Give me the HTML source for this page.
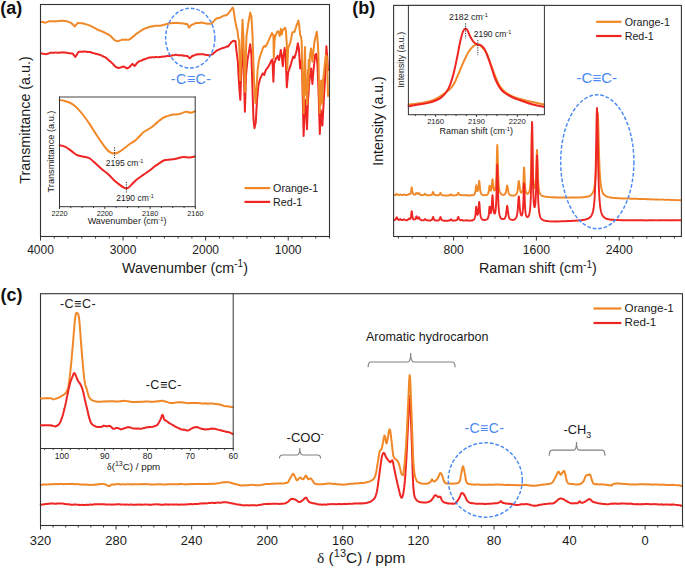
<!DOCTYPE html>
<html><head><meta charset="utf-8"><style>
html,body{margin:0;padding:0;background:#fff;width:685px;height:568px;overflow:hidden}
svg{display:block}
text{font-family:"Liberation Sans", sans-serif}
</style></head><body>
<svg width="685" height="568" viewBox="0 0 685 568" font-family='"Liberation Sans", sans-serif'>
<rect x="0" y="0" width="685" height="568" fill="#ffffff"/>
<text x="0.3" y="14" font-size="18" text-anchor="start" fill="#111" font-weight="bold" >(a)</text>
<polyline points="41.00,53.30 41.92,53.53 42.84,53.71 43.76,53.84 44.68,53.89 45.60,54.14 46.52,53.98 47.44,53.71 48.36,53.44 49.28,53.10 50.20,52.73 51.03,52.71 51.86,52.75 52.69,52.62 53.53,52.73 54.36,52.63 55.19,52.55 56.02,52.43 56.85,52.63 57.68,52.67 58.51,52.74 59.34,52.70 60.17,52.48 61.01,52.41 61.84,52.41 62.67,52.28 63.50,52.43 64.34,52.50 65.17,52.52 66.01,52.77 66.85,52.77 67.68,53.05 68.52,53.13 69.35,53.26 70.19,53.32 71.03,53.44 71.86,53.47 72.70,53.48 73.35,54.48 74.00,55.24 74.65,56.18 75.30,56.92 75.80,56.23 76.30,55.48 76.80,54.65 77.30,53.82 77.80,52.93 78.30,52.09 79.10,51.85 79.90,51.77 80.70,51.79 81.50,51.60 82.30,51.66 83.10,51.67 83.90,51.51 84.80,51.56 85.70,51.66 86.60,51.75 87.50,52.03 88.40,52.08 89.30,52.05 90.20,52.08 91.10,52.33 91.94,52.74 92.77,52.94 93.61,53.15 94.45,53.39 95.28,53.69 96.12,53.81 96.95,54.08 97.79,54.33 98.63,54.59 99.46,54.71 100.30,54.86 101.15,55.28 102.00,55.86 102.85,56.22 103.70,56.68 104.55,57.03 105.40,57.35 106.24,57.93 107.09,58.77 107.93,59.55 108.77,60.17 109.61,60.90 110.46,61.61 111.30,62.38 112.16,63.32 113.02,64.08 113.88,65.04 114.74,65.96 115.60,66.75 116.63,67.29 117.67,67.70 118.70,68.10 119.58,67.75 120.47,67.61 121.35,67.23 122.23,66.85 123.12,66.74 124.00,66.57 124.80,67.07 125.60,67.68 126.40,68.03 127.20,68.50 128.07,67.93 128.93,67.42 129.80,66.82 130.48,65.94 131.15,65.17 131.82,64.56 132.50,63.92 133.55,65.01 134.60,66.00 135.38,64.97 136.15,64.19 136.92,63.23 137.70,62.34 138.58,61.72 139.47,61.22 140.35,60.92 141.23,60.57 142.12,60.22 143.00,59.76 143.80,59.43 144.60,59.16 145.40,58.98 146.20,58.61 147.00,58.34 147.80,57.99 148.60,57.82 149.40,57.39 150.21,57.43 151.02,57.51 151.83,57.28 152.64,57.27 153.46,57.26 154.27,57.30 155.08,57.23 155.89,57.06 156.70,56.98 157.58,57.12 158.47,57.21 159.35,57.04 160.23,56.90 161.12,56.81 162.00,56.72 162.80,56.65 163.60,56.47 164.40,56.52 165.20,56.45 166.00,56.20 166.80,56.11 167.60,55.94 168.40,55.83 170.00,55.97 170.89,55.72 171.77,55.50 172.66,55.34 173.54,55.28 174.43,55.13 175.31,54.82 176.20,54.75 177.07,54.98 177.94,55.14 178.81,55.28 179.69,55.18 180.56,55.28 181.43,55.25 182.30,55.48 183.13,55.49 183.97,55.68 184.80,55.71 185.63,55.90 186.47,55.94 187.30,55.92 188.50,57.14 189.70,58.33 190.53,57.70 191.37,56.84 192.20,56.06 193.02,55.77 193.83,55.59 194.65,55.12 195.47,54.84 196.28,54.52 197.10,54.28 197.99,54.39 198.87,54.28 199.76,54.31 200.64,54.29 201.53,54.28 202.41,54.12 203.30,54.24 204.17,54.56 205.04,54.65 205.91,54.76 206.79,55.09 207.66,55.11 208.53,55.18 209.40,55.28 210.43,55.00 211.47,54.67 212.50,54.21 213.36,53.50 214.22,52.61 215.08,51.94 215.94,51.20 216.80,50.48 217.69,50.11 218.57,49.75 219.46,49.34 220.34,48.90 221.23,48.61 222.11,48.24 223.00,48.02 223.82,47.82 224.63,47.56 225.45,47.20 226.27,46.79 227.08,46.45 227.90,46.15 228.00,46.61 228.62,45.92 229.24,44.94 229.86,44.12 230.48,43.30 231.10,42.55 232.00,41.75 232.90,40.89 233.73,40.87 234.57,40.90 235.40,40.89 235.49,41.75 235.57,42.54 235.66,43.34 235.74,44.00 235.83,44.91 235.91,45.63 236.00,46.45 236.09,47.32 236.17,48.22 236.26,49.10 236.34,49.66 236.43,50.39 236.51,51.14 236.60,51.93 236.71,52.68 236.82,53.57 236.93,54.31 237.03,55.14 237.14,56.16 237.25,57.07 237.36,57.87 237.47,58.58 237.57,59.57 237.68,60.45 237.79,61.16 237.90,61.94 237.94,62.82 237.97,63.68 238.01,64.41 238.05,65.36 238.09,66.09 238.12,66.82 238.16,67.75 238.20,68.44 238.24,69.33 238.28,70.04 238.31,70.91 238.35,71.66 238.39,72.47 238.43,73.44 238.46,74.22 238.50,75.01 238.56,75.87 238.61,76.63 238.67,77.38 238.72,78.21 238.78,79.01 238.83,79.80 238.89,80.83 238.94,81.53 239.00,82.49 239.06,83.46 239.11,84.32 239.17,84.96 239.22,85.81 239.28,86.51 239.33,87.42 239.39,88.34 239.44,89.09 239.50,89.80 239.57,90.71 239.63,91.46 239.70,92.30 239.77,93.18 239.83,94.18 239.90,94.97 239.97,95.70 240.03,96.66 240.10,97.59 240.17,98.41 240.23,99.08 240.30,99.85 240.33,99.06 240.36,98.32 240.38,97.46 240.41,96.79 240.44,96.10 240.47,95.40 240.50,94.65 240.52,93.63 240.55,92.85 240.58,91.91 240.61,91.25 240.64,90.51 240.66,89.76 240.69,88.82 240.72,87.88 240.75,87.21 240.78,86.44 240.80,85.66 240.83,84.84 240.86,84.12 240.89,83.23 240.92,82.35 240.94,81.52 240.97,80.69 241.00,79.96 241.04,79.28 241.07,78.32 241.11,77.41 241.15,76.66 241.18,75.94 241.22,75.06 241.26,74.22 241.29,73.32 241.33,72.45 241.37,71.74 241.40,71.05 241.44,70.32 241.48,69.42 241.51,68.53 241.55,67.92 241.59,67.13 241.62,66.29 241.66,65.55 241.70,64.80 241.73,63.98 241.77,63.02 241.80,62.34 241.84,61.43 241.88,60.51 241.91,59.71 241.95,58.97 241.99,58.23 242.02,57.34 242.06,56.64 242.10,55.84 242.13,54.93 242.17,54.27 242.21,53.55 242.24,52.83 242.28,52.02 242.32,51.07 242.35,50.34 242.39,49.62 242.43,48.76 242.46,48.03 242.50,47.30 242.56,47.99 242.62,48.88 242.69,49.75 242.75,50.56 242.81,51.13 242.88,51.88 242.94,52.72 243.00,53.56 243.06,54.43 243.12,55.25 243.19,55.92 243.25,56.87 243.31,57.66 243.38,58.56 243.44,59.23 243.50,60.18 243.52,60.95 243.54,61.80 243.57,62.63 243.59,63.49 243.61,64.18 243.63,64.83 243.65,65.62 243.68,66.34 243.70,67.20 243.72,68.13 243.74,68.89 243.76,69.59 243.78,70.30 243.81,71.15 243.83,72.04 243.85,72.74 243.87,73.66 243.89,74.41 243.92,75.15 243.94,76.16 243.96,76.98 243.98,77.91 244.00,78.70 244.03,79.37 244.05,80.12 244.07,80.94 244.09,81.82 244.11,82.72 244.13,83.59 244.16,84.41 244.18,85.11 244.20,85.89 244.22,86.67 244.24,87.48 244.27,88.23 244.29,89.08 244.31,89.90 244.33,90.58 244.35,91.54 244.38,92.38 244.40,93.28 244.42,94.13 244.44,94.97 244.46,95.88 244.48,96.57 244.51,97.30 244.53,97.94 244.55,98.83 244.57,99.67 244.59,100.50 244.62,101.45 244.64,102.12 244.66,102.83 244.68,103.73 244.70,104.63 244.72,105.40 244.75,106.05 244.77,106.85 244.79,107.78 244.81,108.58 244.83,109.38 244.86,110.15 244.88,111.01 244.90,111.84 244.92,111.07 244.95,110.33 244.97,109.54 245.00,108.63 245.02,107.71 245.05,106.97 245.07,106.22 245.10,105.49 245.12,104.51 245.14,103.78 245.17,103.03 245.19,102.02 245.22,101.13 245.24,100.37 245.27,99.44 245.29,98.75 245.32,97.85 245.34,97.10 245.36,96.22 245.39,95.33 245.41,94.46 245.44,93.69 245.46,92.97 245.49,92.07 245.51,91.34 245.54,90.48 245.56,89.72 245.58,88.87 245.61,87.97 245.63,87.08 245.66,86.18 245.68,85.50 245.71,84.70 245.73,83.80 245.76,83.16 245.78,82.39 245.80,81.42 245.83,80.71 245.85,79.92 245.88,79.08 245.90,78.27 245.93,77.59 245.95,76.69 245.98,75.90 246.00,75.10 246.08,74.19 246.17,73.31 246.25,72.56 246.33,71.75 246.42,70.88 246.50,70.03 246.58,69.11 246.67,68.38 246.75,67.39 246.83,66.63 246.92,65.80 247.00,64.89 247.08,64.12 247.17,63.32 247.25,62.37 247.33,61.57 247.42,60.67 247.50,59.97 247.64,59.11 247.78,58.26 247.93,57.38 248.07,56.47 248.21,55.63 248.35,54.78 248.49,54.09 248.64,53.42 248.78,52.52 248.92,51.61 249.06,50.85 249.21,49.95 249.35,49.16 249.49,48.47 249.63,47.57 249.77,46.84 249.92,46.04 250.06,45.09 250.20,44.23 250.29,45.13 250.38,45.85 250.48,46.63 250.57,47.53 250.66,48.48 250.75,49.30 250.85,50.16 250.94,50.82 251.03,51.60 251.12,52.40 251.22,53.39 251.31,54.16 251.40,55.07 251.43,55.72 251.45,56.56 251.48,57.51 251.50,58.39 251.53,59.19 251.55,59.87 251.58,60.82 251.60,61.47 251.63,62.43 251.66,63.30 251.68,64.13 251.71,64.90 251.73,65.57 251.76,66.34 251.78,67.22 251.81,68.08 251.83,68.84 251.86,69.75 251.89,70.40 251.91,71.17 251.94,71.89 251.96,72.71 251.99,73.67 252.01,74.58 252.04,75.27 252.07,76.05 252.09,76.78 252.12,77.70 252.14,78.53 252.17,79.28 252.19,80.10 252.22,81.06 252.24,81.85 252.27,82.72 252.30,83.56 252.32,84.35 252.35,85.16 252.37,85.92 252.40,86.65 252.42,87.49 252.45,88.27 252.47,89.06 252.50,89.82 252.53,90.81 252.55,91.60 252.58,92.33 252.61,93.03 252.64,93.82 252.66,94.81 252.69,95.59 252.72,96.48 252.74,97.21 252.77,98.09 252.80,98.89 252.82,99.78 252.85,100.59 252.88,101.35 252.91,102.09 252.93,102.95 252.96,103.87 252.99,104.71 253.01,105.48 253.04,106.22 253.07,107.15 253.09,108.02 253.12,108.67 253.15,109.53 253.18,110.40 253.20,111.23 253.23,112.13 253.26,112.98 253.28,113.63 253.31,114.56 253.34,115.25 253.36,115.99 253.39,116.93 253.42,117.59 253.45,118.36 253.47,119.22 253.50,119.95 253.61,120.76 253.72,121.75 253.83,122.64 253.94,123.57 254.06,124.49 254.17,125.42 254.28,126.34 254.39,127.22 254.50,128.15 254.69,127.21 254.87,126.37 255.06,125.48 255.24,124.74 255.43,123.88 255.61,122.97 255.80,122.15 255.84,121.23 255.89,120.29 255.93,119.46 255.98,118.57 256.02,117.66 256.07,116.80 256.11,116.06 256.16,115.40 256.20,114.47 256.24,113.76 256.29,112.85 256.33,112.10 256.38,111.26 256.42,110.47 256.47,109.76 256.51,108.92 256.56,108.09 256.60,107.36 256.64,106.42 256.69,105.59 256.73,104.87 256.78,104.16 256.82,103.46 256.87,102.52 256.91,101.72 256.96,100.82 257.00,100.06 257.08,99.32 257.17,98.33 257.25,97.45 257.33,96.76 257.42,95.86 257.50,95.06 257.58,94.30 257.67,93.36 257.75,92.60 257.83,91.59 257.92,90.73 258.00,89.83 258.08,89.00 258.17,88.13 258.25,87.22 258.33,86.56 258.42,85.66 258.50,84.90 258.71,84.09 258.93,83.35 259.14,82.58 259.36,81.71 259.57,80.71 259.79,79.94 260.00,78.93 260.47,78.15 260.93,77.13 261.40,76.13 261.87,75.13 262.33,74.21 262.80,73.40 264.20,74.91 264.48,74.11 264.76,73.29 265.04,72.32 265.32,71.42 265.60,70.53 266.18,69.67 266.76,68.94 267.34,68.21 267.92,67.17 268.50,66.45 268.97,65.59 269.43,64.58 269.90,63.66 270.37,62.76 270.83,61.68 271.30,60.77 272.40,59.49 272.44,60.35 272.47,61.20 272.51,61.79 272.54,62.64 272.58,63.40 272.61,64.30 272.65,64.95 272.69,65.76 272.72,66.44 272.76,67.36 272.79,68.23 272.83,68.86 272.86,69.63 272.90,70.36 272.94,71.26 272.97,72.13 273.01,72.81 273.04,73.80 273.08,74.73 273.11,75.47 273.15,76.26 273.19,77.00 273.22,77.83 273.26,78.59 273.29,79.37 273.33,80.26 273.36,80.95 273.40,81.70 273.43,80.98 273.46,80.06 273.50,79.12 273.53,78.47 273.56,77.54 273.59,76.71 273.62,75.85 273.65,74.99 273.69,74.16 273.72,73.38 273.75,72.47 273.78,71.70 273.81,70.77 273.85,69.88 273.88,69.04 273.91,68.21 273.94,67.42 273.97,66.60 274.00,65.93 274.04,65.17 274.07,64.33 274.10,63.58 274.40,62.81 274.70,61.92 275.00,61.15 275.30,60.41 275.60,59.59 275.90,58.84 276.20,58.04 276.90,57.07 277.60,55.89 277.88,56.75 278.16,57.70 278.44,58.48 278.72,59.40 279.00,60.04 279.15,59.27 279.30,58.35 279.45,57.60 279.60,56.73 279.75,55.91 279.90,55.00 280.05,54.11 280.20,53.43 280.35,52.64 280.50,51.83 280.65,50.87 280.80,50.00 280.94,51.08 281.09,51.89 281.23,52.83 281.37,53.80 281.51,54.71 281.66,55.63 281.80,56.67 281.88,57.52 281.97,58.20 282.05,58.97 282.13,59.76 282.22,60.63 282.30,61.49 282.38,62.21 282.47,63.08 282.55,63.86 282.63,64.53 282.72,65.33 282.80,66.15 282.86,65.30 282.93,64.60 282.99,63.97 283.06,63.26 283.12,62.44 283.19,61.69 283.25,60.81 283.31,59.98 283.38,59.25 283.44,58.25 283.51,57.39 283.57,56.56 283.64,55.72 283.70,54.92 283.81,53.93 283.93,53.17 284.04,52.46 284.15,51.48 284.26,50.51 284.38,49.62 284.49,48.88 284.60,47.92 284.73,48.90 284.85,49.67 284.98,50.60 285.10,51.55 285.23,52.46 285.35,53.18 285.48,54.22 285.60,55.17 285.63,55.92 285.66,56.81 285.69,57.60 285.72,58.26 285.75,59.04 285.78,59.96 285.81,60.73 285.84,61.39 285.87,62.14 285.90,62.91 285.93,63.81 285.96,64.71 285.99,65.52 286.02,66.31 286.05,67.28 286.08,68.02 286.11,68.88 286.14,69.58 286.17,70.41 286.20,71.14 286.23,71.87 286.26,72.69 286.29,73.44 286.32,74.29 286.35,75.21 286.38,76.07 286.41,76.99 286.44,77.78 286.47,78.46 286.50,79.37 286.53,80.15 286.56,81.05 286.59,81.99 286.62,82.76 286.65,83.46 286.68,84.22 286.71,85.04 286.74,85.81 286.77,86.52 286.80,87.35 286.87,86.63 286.95,85.92 287.02,85.17 287.09,84.43 287.17,83.65 287.24,82.74 287.32,81.93 287.39,80.94 287.46,80.22 287.54,79.45 287.61,78.53 287.68,77.70 287.76,76.82 287.83,76.12 287.91,75.27 287.98,74.53 288.05,73.82 288.13,73.03 288.20,72.11 288.50,71.22 288.80,70.53 289.10,69.79 289.40,68.81 289.70,67.94 290.00,67.21 290.30,66.44 290.53,65.52 290.77,64.67 291.00,63.99 291.23,63.01 291.47,62.13 291.70,61.39 291.93,60.70 292.17,59.98 292.40,59.09 292.63,58.32 292.87,57.59 293.10,56.64 294.50,57.92 294.76,56.95 295.02,56.17 295.29,55.16 295.55,54.31 295.81,53.56 296.08,52.56 296.34,51.71 296.60,50.83 296.74,50.10 296.89,49.20 297.03,48.31 297.18,47.55 297.32,46.72 297.47,45.70 297.61,44.93 297.76,44.01 297.90,43.28 298.04,44.20 298.17,44.96 298.31,45.71 298.45,46.44 298.59,47.21 298.73,47.98 298.86,48.76 299.00,49.73 299.05,50.43 299.10,51.33 299.14,52.20 299.19,53.10 299.24,53.92 299.29,54.84 299.33,55.54 299.38,56.22 299.43,57.08 299.48,57.84 299.53,58.82 299.57,59.74 299.62,60.55 299.67,61.41 299.72,62.08 299.77,62.86 299.81,63.62 299.86,64.39 299.91,65.18 299.96,66.01 300.00,66.88 300.05,67.55 300.10,68.42 300.19,67.53 300.28,66.92 300.37,66.13 300.46,65.35 300.55,64.48 300.64,63.75 300.73,63.00 300.82,62.29 300.91,61.46 301.00,60.54 301.09,61.39 301.17,62.06 301.26,62.98 301.34,63.74 301.43,64.64 301.51,65.34 301.60,66.22 301.69,66.95 301.77,67.67 301.86,68.49 301.94,69.48 302.03,70.29 302.11,71.14 302.20,72.06 302.22,72.98 302.24,73.66 302.25,74.50 302.27,75.35 302.29,76.20 302.31,76.89 302.32,77.66 302.34,78.52 302.36,79.21 302.38,80.00 302.39,80.84 302.41,81.74 302.43,82.42 302.44,83.26 302.46,83.96 302.48,84.67 302.50,85.50 302.51,86.37 302.53,87.22 302.55,88.15 302.57,88.81 302.58,89.61 302.60,90.40 302.62,91.13 302.64,92.08 302.65,92.75 302.67,93.49 302.69,94.19 302.71,95.09 302.73,95.97 302.74,96.70 302.76,97.65 302.78,98.48 302.80,99.17 302.81,100.11 302.83,100.98 302.85,101.67 302.87,102.56 302.88,103.20 302.90,103.95 302.92,104.74 302.94,105.70 302.95,106.41 302.97,107.17 302.99,107.89 303.00,108.82 303.02,109.52 303.04,110.45 303.06,111.19 303.07,112.00 303.09,112.92 303.11,113.61 303.13,114.42 303.15,115.25 303.16,116.06 303.18,116.81 303.20,117.65 303.22,118.38 303.23,119.08 303.25,119.77 303.27,120.67 303.29,121.53 303.30,122.44 303.32,123.13 303.34,124.00 303.36,124.79 303.37,125.60 303.39,126.50 303.41,127.27 303.43,128.03 303.44,128.87 303.46,129.54 303.48,130.47 303.50,131.25 303.51,131.90 303.53,132.73 303.55,133.68 303.56,134.60 303.58,135.32 303.60,136.01 303.63,135.34 303.66,134.43 303.69,133.48 303.72,132.64 303.76,131.88 303.79,131.17 303.82,130.25 303.85,129.44 303.88,128.76 303.91,127.92 303.94,127.05 303.97,126.36 304.00,125.55 304.04,124.82 304.07,124.01 304.10,123.30 304.13,122.48 304.16,121.80 304.19,121.03 304.22,120.23 304.25,119.36 304.28,118.54 304.32,117.66 304.35,116.72 304.38,116.06 304.41,115.33 304.44,114.57 304.47,113.83 304.50,112.98 304.53,112.27 304.56,111.38 304.60,110.67 304.63,109.66 304.66,108.81 304.69,108.03 304.72,107.31 304.75,106.49 304.78,105.75 304.81,104.87 304.84,104.10 304.88,103.36 304.91,102.54 304.94,101.55 304.97,100.82 305.00,99.86 305.08,100.68 305.17,101.44 305.25,102.42 305.33,103.18 305.42,104.12 305.50,104.84 305.58,105.63 305.67,106.59 305.75,107.57 305.83,108.25 305.92,109.15 306.00,109.95 306.04,110.83 306.09,111.53 306.13,112.25 306.17,113.02 306.22,114.05 306.26,114.89 306.30,115.77 306.35,116.49 306.39,117.41 306.43,118.36 306.48,119.07 306.52,119.98 306.57,120.89 306.61,121.82 306.65,122.59 306.70,123.40 306.74,124.12 306.78,125.01 306.83,125.74 306.87,126.59 306.91,127.43 306.96,128.38 307.00,129.23 307.03,128.23 307.06,127.32 307.08,126.49 307.11,125.68 307.14,124.97 307.17,124.09 307.19,123.33 307.22,122.52 307.25,121.67 307.28,120.93 307.31,120.11 307.33,119.46 307.36,118.50 307.39,117.82 307.42,117.03 307.44,116.18 307.47,115.23 307.50,114.49 307.53,113.78 307.56,112.90 307.58,112.16 307.61,111.34 307.64,110.39 307.67,109.72 307.69,108.84 307.72,108.04 307.75,107.31 307.78,106.60 307.81,105.86 307.83,104.95 307.86,104.21 307.89,103.25 307.92,102.45 307.94,101.61 307.97,100.92 308.00,100.14 308.06,99.35 308.12,98.60 308.18,97.69 308.24,96.85 308.30,95.91 308.36,95.10 308.42,94.24 308.48,93.56 308.54,92.66 308.60,92.02 308.66,91.25 308.72,90.42 308.78,89.50 308.84,88.71 308.90,87.96 308.96,87.06 309.02,86.45 309.08,85.59 309.14,84.77 309.20,83.92 309.26,83.10 309.32,82.27 309.38,81.61 309.44,80.68 309.50,79.88 309.61,79.12 309.73,78.31 309.84,77.45 309.96,76.65 310.07,75.72 310.19,74.89 310.30,74.10 310.41,73.41 310.53,72.57 310.64,71.73 310.76,70.97 310.87,70.08 310.99,69.29 311.10,68.39 311.17,69.27 311.24,70.11 311.31,70.98 311.37,71.90 311.44,72.76 311.51,73.67 311.58,74.32 311.65,75.24 311.72,75.98 311.78,76.71 311.85,77.50 311.92,78.43 311.99,79.34 312.06,80.18 312.13,80.86 312.19,81.52 312.26,82.26 312.33,83.16 312.40,84.04 312.46,83.08 312.53,82.13 312.59,81.52 312.66,80.65 312.72,79.71 312.79,78.93 312.85,78.02 312.92,77.36 312.98,76.56 313.05,75.78 313.11,75.08 313.18,74.10 313.24,73.20 313.31,72.49 313.37,71.69 313.44,70.84 313.50,69.97 313.59,69.18 313.68,68.49 313.77,67.75 313.86,66.98 313.94,66.21 314.03,65.16 314.12,64.16 314.21,63.44 314.30,62.52 314.39,61.71 314.48,60.87 314.57,60.19 314.66,59.31 314.74,58.35 314.83,57.45 314.92,56.79 315.01,56.04 315.10,55.07 316.40,53.92 316.48,54.65 316.56,55.50 316.64,56.29 316.71,57.17 316.79,57.92 316.87,58.54 316.95,59.38 317.03,60.29 317.11,61.03 317.19,61.92 317.26,62.67 317.34,63.41 317.42,64.16 317.50,64.89 317.53,65.73 317.56,66.70 317.60,67.51 317.63,68.37 317.66,69.03 317.69,69.80 317.73,70.64 317.76,71.42 317.79,72.09 317.82,73.05 317.85,73.75 317.89,74.64 317.92,75.60 317.95,76.31 317.98,77.04 318.02,77.81 318.05,78.66 318.08,79.63 318.11,80.29 318.15,81.03 318.18,81.99 318.21,82.71 318.24,83.58 318.27,84.44 318.31,85.07 318.34,85.76 318.37,86.71 318.40,87.66 318.44,88.50 318.47,89.26 318.50,89.93 318.52,90.76 318.55,91.45 318.57,92.25 318.59,92.95 318.62,93.83 318.64,94.67 318.67,95.45 318.69,96.21 318.71,96.94 318.74,97.67 318.76,98.46 318.78,99.51 318.81,100.19 318.83,101.12 318.85,101.93 318.88,102.78 318.90,103.53 318.93,104.49 318.95,105.36 318.97,106.08 319.00,106.84 319.02,107.75 319.04,108.40 319.07,109.31 319.09,110.12 319.11,110.90 319.14,111.68 319.16,112.48 319.19,113.14 319.21,113.88 319.23,114.67 319.26,115.43 319.28,116.15 319.30,117.09 319.33,117.90 319.35,118.80 319.37,119.57 319.40,120.51 319.42,121.20 319.45,122.00 319.47,122.78 319.49,123.67 319.52,124.34 319.54,125.17 319.56,125.97 319.59,126.81 319.61,127.53 319.63,128.36 319.66,129.32 319.68,129.96 319.71,130.92 319.73,131.82 319.75,132.54 319.78,133.17 319.80,133.98 319.83,133.32 319.87,132.34 319.90,131.63 319.93,130.91 319.97,129.96 320.00,129.20 320.03,128.30 320.07,127.41 320.10,126.67 320.13,125.85 320.17,125.14 320.20,124.37 320.23,123.50 320.27,122.85 320.30,121.89 320.33,121.21 320.37,120.34 320.40,119.68 320.43,118.89 320.47,118.05 320.50,117.15 320.53,116.47 320.57,115.76 320.60,115.05 320.63,114.20 320.67,113.47 320.70,112.71 320.73,111.86 320.77,110.94 320.80,110.13 320.92,110.87 321.03,111.79 321.15,112.60 321.27,113.51 321.38,114.41 321.50,115.25 321.57,115.90 321.64,116.64 321.71,117.33 321.78,118.13 321.85,118.88 321.92,119.70 321.98,120.66 322.05,121.37 322.12,122.36 322.19,123.30 322.26,124.15 322.33,124.83 322.40,125.57 322.44,124.74 322.49,123.96 322.53,123.26 322.58,122.26 322.62,121.32 322.66,120.64 322.71,119.68 322.75,119.02 322.80,118.10 322.84,117.44 322.88,116.58 322.93,115.78 322.97,115.03 323.02,114.26 323.06,113.35 323.10,112.48 323.15,111.73 323.19,110.79 323.24,109.90 323.28,109.20 323.32,108.47 323.37,107.69 323.41,106.75 323.46,105.85 323.50,104.90 323.55,104.22 323.60,103.27 323.65,102.41 323.69,101.51 323.74,100.77 323.79,100.17 323.84,99.23 323.89,98.39 323.94,97.56 323.98,96.87 324.03,96.04 324.08,95.16 324.13,94.46 324.18,93.79 324.23,92.86 324.27,91.94 324.32,91.15 324.37,90.52 324.42,89.57 324.47,88.69 324.52,87.98 324.56,87.28 324.61,86.45 324.66,85.51 324.71,84.76 324.76,83.86 324.81,82.97 324.85,82.11 324.90,81.53 324.95,80.63 325.00,79.87 325.03,79.20 325.07,78.31 325.10,77.51 325.13,76.82 325.17,76.03 325.20,75.13 325.23,74.36 325.27,73.72 325.30,72.98 325.33,72.27 325.37,71.24 325.40,70.30 325.43,69.53 325.47,68.60 325.50,68.00 325.53,67.14 325.57,66.37 325.60,65.69 325.63,64.84 325.67,64.11 325.70,63.17 325.73,62.36 325.77,61.64 325.80,60.82 325.83,59.92 325.87,59.25 325.90,58.39 325.93,57.72 325.97,56.83 326.00,56.12 326.03,55.17 326.07,54.43 326.10,53.76 326.13,52.95 326.17,52.08 326.20,51.40 326.23,50.68 326.27,49.89 326.30,48.92 326.33,47.96 326.37,47.21 326.40,46.30 326.47,47.06 326.54,48.01 326.61,49.05 326.68,49.84 326.75,50.82 326.82,51.81 326.89,52.75 326.96,53.42 327.03,54.16 327.10,55.19 327.15,56.13 327.20,56.80 327.25,57.52 327.30,58.43 327.35,59.13 327.40,59.87 327.45,60.66 327.50,61.58 327.55,62.41 327.60,63.38 327.65,64.11 327.70,65.08 327.75,65.98 327.80,66.74 327.85,67.58 327.90,68.44 327.95,69.13 328.00,70.10" fill="none" stroke="#EE2522" stroke-width="2.0" stroke-linejoin="round" stroke-linecap="round" />
<polyline points="41.00,21.89 41.92,21.95 42.84,22.02 43.76,22.42 44.68,22.53 45.60,22.64 46.50,22.33 47.40,21.91 48.30,21.65 49.20,21.16 50.02,21.31 50.84,21.22 51.66,21.24 52.48,21.36 53.30,21.37 54.12,21.44 54.94,21.43 55.76,21.23 56.58,21.33 57.40,21.32 58.27,21.13 59.14,20.93 60.01,20.95 60.89,20.86 61.76,20.87 62.63,20.80 63.50,20.78 64.53,20.88 65.57,21.04 66.60,21.18 67.52,21.41 68.44,21.90 69.36,22.15 70.28,22.57 71.20,23.03 72.08,23.88 72.95,24.59 73.83,25.55 74.70,26.44 75.73,25.23 76.77,24.03 77.80,23.02 78.65,22.93 79.50,23.15 80.35,23.19 81.20,23.23 82.05,23.24 82.90,23.33 83.80,23.72 84.70,23.89 85.60,24.12 86.50,24.42 87.40,24.63 88.30,24.95 89.20,25.24 90.10,25.49 90.99,26.03 91.88,26.51 92.76,26.87 93.65,27.53 94.54,27.95 95.42,28.41 96.31,28.88 97.20,29.50 98.09,29.98 98.97,30.29 99.86,30.59 100.74,30.82 101.63,31.33 102.51,31.58 103.40,31.98 104.26,32.42 105.12,32.86 105.99,33.32 106.85,33.73 107.71,34.12 108.58,34.68 109.44,35.30 110.30,35.82 111.14,36.59 111.98,37.53 112.82,38.25 113.66,39.12 114.50,40.12 115.42,40.49 116.35,40.68 117.28,41.01 118.20,41.21 119.12,40.79 120.05,40.39 120.98,40.11 121.90,39.72 122.74,39.64 123.58,39.67 124.42,39.66 125.26,39.57 126.10,39.63 126.90,39.69 127.70,39.67 128.50,39.75 129.30,39.53 130.14,38.90 130.98,38.31 131.82,37.63 132.66,36.91 133.50,36.38 134.57,35.47 135.63,34.51 136.70,33.50 137.60,33.10 138.50,32.46 139.40,31.75 140.30,31.11 141.20,30.50 142.10,30.07 143.00,29.38 143.80,29.02 144.60,28.62 145.40,28.36 146.20,28.00 147.00,27.68 147.80,27.49 148.60,27.31 149.40,27.06 150.30,26.72 151.20,26.53 152.10,26.49 153.00,26.18 153.90,25.96 154.80,25.85 155.70,25.69 156.58,25.80 157.47,25.86 158.35,25.83 159.23,25.75 160.12,25.68 161.00,25.65 161.87,25.30 162.73,25.15 163.60,24.82 164.47,24.72 165.33,24.50 166.20,24.09 167.15,23.92 168.10,23.78 169.05,23.45 170.00,23.29 170.89,23.10 171.77,23.16 172.66,22.94 173.54,22.96 174.43,23.05 175.31,23.04 176.20,22.83 177.07,22.92 177.94,22.89 178.81,22.95 179.69,23.18 180.56,23.35 181.43,23.25 182.30,23.32 183.13,23.49 183.97,23.49 184.80,23.72 185.63,23.93 186.47,24.01 187.30,24.03 187.75,25.05 188.20,25.94 188.65,26.75 189.10,27.61 190.05,26.34 191.00,25.29 191.82,24.88 192.63,24.52 193.45,24.18 194.27,23.87 195.08,23.29 195.90,22.82 196.77,22.93 197.64,22.97 198.51,22.88 199.39,22.91 200.26,22.78 201.13,22.69 202.00,22.59 202.83,22.76 203.67,22.89 204.50,23.11 205.33,23.44 206.17,23.48 207.00,23.66 207.86,23.78 208.72,23.79 209.58,23.77 210.44,23.83 211.30,23.65 212.16,22.88 213.02,21.98 213.88,21.12 214.74,20.24 215.60,19.14 216.42,18.69 217.23,18.33 218.05,18.08 218.87,17.95 219.68,17.76 220.50,17.38 221.43,16.92 222.35,16.49 223.27,15.92 224.20,15.57 225.03,15.45 225.87,15.25 226.70,15.09 228.00,13.90 228.83,12.82 229.67,11.66 230.50,10.52 231.23,9.47 231.97,8.39 232.70,7.60 233.10,8.69 233.50,9.72 233.63,10.58 233.76,11.37 233.89,12.29 234.02,13.16 234.15,13.97 234.28,14.90 234.41,15.78 234.54,16.64 234.67,17.63 234.80,18.44 234.95,19.29 235.10,20.23 235.25,21.15 235.40,21.87 235.55,22.52 235.70,23.49 235.85,24.28 236.00,25.00 236.15,25.71 236.30,26.49 236.45,27.30 236.60,28.07 236.93,29.03 237.27,30.31 237.60,31.45 237.67,32.12 237.74,32.94 237.81,33.85 237.89,34.63 237.96,35.30 238.03,36.08 238.10,36.88 238.35,37.96 238.60,38.90 238.85,39.80 239.10,40.76 239.12,41.41 239.15,42.31 239.17,43.21 239.20,44.04 239.22,44.78 239.25,45.51 239.27,46.18 239.30,46.92 239.32,47.70 239.34,48.57 239.37,49.53 239.39,50.27 239.42,51.11 239.44,51.99 239.47,52.84 239.49,53.50 239.52,54.47 239.54,55.30 239.57,56.03 239.59,56.77 239.61,57.66 239.64,58.60 239.66,59.33 239.69,60.09 239.71,60.92 239.74,61.62 239.76,62.43 239.79,63.39 239.81,64.20 239.83,65.08 239.86,65.78 239.88,66.69 239.91,67.54 239.93,68.22 239.96,69.02 239.98,69.87 240.01,70.68 240.03,71.50 240.06,72.20 240.08,73.03 240.10,73.79 240.13,74.70 240.15,75.46 240.18,76.41 240.20,77.19 240.23,77.88 240.25,78.66 240.28,79.37 240.30,80.28 240.33,79.33 240.36,78.59 240.40,77.74 240.43,77.03 240.46,76.10 240.49,75.37 240.53,74.62 240.56,73.70 240.59,72.79 240.62,71.97 240.66,71.24 240.69,70.36 240.72,69.43 240.75,68.66 240.79,67.99 240.82,67.07 240.85,66.42 240.88,65.59 240.92,64.66 240.95,63.75 240.98,62.94 241.01,62.16 241.05,61.28 241.08,60.39 241.11,59.65 241.14,58.81 241.18,58.03 241.21,57.25 241.24,56.52 241.27,55.74 241.31,54.84 241.34,53.94 241.37,53.28 241.40,52.32 241.44,51.43 241.47,50.55 241.50,49.91 241.53,49.13 241.55,48.45 241.58,47.64 241.61,46.75 241.64,45.90 241.66,45.15 241.69,44.23 241.72,43.52 241.74,42.65 241.77,41.69 241.80,40.86 241.82,40.10 241.85,39.20 241.88,38.55 241.91,37.85 241.93,37.00 241.96,36.27 241.99,35.45 242.01,34.58 242.04,33.62 242.07,32.94 242.09,32.20 242.12,31.30 242.15,30.41 242.18,29.44 242.20,28.69 242.23,27.98 242.26,27.10 242.28,26.21 242.31,25.44 242.34,24.70 242.36,23.76 242.39,22.89 242.42,22.14 242.45,21.19 242.47,20.51 242.50,19.64 242.54,20.57 242.58,21.35 242.62,22.05 242.66,22.75 242.70,23.50 242.74,24.32 242.78,25.28 242.82,26.21 242.86,27.06 242.90,27.80 242.94,28.67 242.98,29.54 243.02,30.28 243.06,30.96 243.10,31.80 243.14,32.55 243.18,33.31 243.22,34.15 243.26,34.88 243.30,35.89 243.34,36.65 243.38,37.61 243.42,38.48 243.46,39.11 243.50,40.07 243.52,40.94 243.54,41.71 243.56,42.59 243.59,43.33 243.61,43.95 243.63,44.66 243.65,45.44 243.67,46.40 243.69,47.30 243.72,47.95 243.74,48.72 243.76,49.43 243.78,50.20 243.80,51.01 243.82,51.84 243.84,52.59 243.87,53.50 243.89,54.25 243.91,55.21 243.93,56.00 243.95,56.78 243.97,57.67 244.00,58.40 244.02,59.13 244.04,59.84 244.06,60.62 244.08,61.40 244.10,62.33 244.12,63.11 244.15,64.00 244.17,64.73 244.19,65.42 244.21,66.22 244.23,67.04 244.25,68.01 244.28,68.72 244.30,69.46 244.32,70.20 244.34,70.98 244.36,71.99 244.38,72.92 244.40,73.60 244.43,74.27 244.45,75.10 244.47,75.96 244.49,76.65 244.51,77.47 244.53,78.39 244.56,79.04 244.58,79.96 244.60,80.83 244.62,81.70 244.64,82.47 244.66,83.24 244.68,84.03 244.71,84.71 244.73,85.54 244.75,86.28 244.77,87.06 244.79,87.77 244.81,88.54 244.84,89.28 244.86,90.19 244.88,90.97 244.90,91.86 244.92,91.09 244.94,90.24 244.96,89.36 244.98,88.65 245.01,87.93 245.03,87.19 245.05,86.37 245.07,85.58 245.09,84.62 245.11,83.79 245.13,83.11 245.15,82.27 245.18,81.35 245.20,80.57 245.22,79.90 245.24,78.96 245.26,78.07 245.28,77.32 245.30,76.67 245.32,75.82 245.34,74.95 245.37,74.25 245.39,73.31 245.41,72.48 245.43,71.74 245.45,71.06 245.47,70.34 245.49,69.44 245.51,68.54 245.53,67.70 245.56,66.80 245.58,65.97 245.60,65.30 245.62,64.65 245.64,63.74 245.66,62.80 245.68,62.10 245.70,61.44 245.72,60.68 245.75,59.79 245.77,59.03 245.79,58.26 245.81,57.47 245.83,56.60 245.85,55.90 245.87,55.10 245.89,54.14 245.92,53.28 245.94,52.33 245.96,51.52 245.98,50.83 246.00,50.01 246.03,49.18 246.06,48.41 246.09,47.42 246.12,46.55 246.15,45.73 246.18,44.91 246.21,44.13 246.24,43.42 246.26,42.62 246.29,41.74 246.32,40.91 246.35,40.03 246.38,39.30 246.41,38.41 246.44,37.54 246.47,36.62 246.50,35.73 246.62,34.98 246.74,34.09 246.86,33.38 246.98,32.59 247.10,31.86 247.22,31.02 247.34,30.15 247.46,29.23 247.58,28.24 247.70,27.49 247.82,26.75 247.94,25.98 248.06,25.20 248.18,24.19 248.30,23.44 248.45,22.55 248.59,21.72 248.74,21.04 248.88,20.19 249.03,19.36 249.18,18.42 249.32,17.56 249.47,16.72 249.62,15.89 249.76,15.16 249.91,14.27 250.05,13.41 250.20,12.57 250.60,13.77 251.00,14.99 251.40,16.09 251.45,16.88 251.49,17.55 251.54,18.47 251.58,19.15 251.63,19.85 251.68,20.72 251.72,21.67 251.77,22.42 251.82,23.35 251.86,24.08 251.91,25.03 251.95,25.86 252.00,26.73 252.05,27.61 252.09,28.42 252.14,29.05 252.18,29.82 252.23,30.62 252.28,31.47 252.32,32.16 252.37,32.99 252.42,33.72 252.46,34.45 252.51,35.28 252.55,36.21 252.60,37.03 252.63,37.79 252.65,38.52 252.68,39.32 252.71,40.14 252.73,40.91 252.76,41.71 252.78,42.49 252.81,43.29 252.84,44.22 252.86,45.09 252.89,45.95 252.92,46.88 252.94,47.70 252.97,48.35 253.00,49.14 253.02,49.97 253.05,50.86 253.08,51.66 253.10,52.33 253.13,53.16 253.15,54.04 253.18,54.93 253.21,55.70 253.23,56.42 253.26,57.10 253.29,57.97 253.31,58.89 253.34,59.59 253.37,60.45 253.39,61.31 253.42,62.15 253.45,62.88 253.47,63.59 253.50,64.32 253.52,65.15 253.55,66.15 253.58,66.96 253.60,67.93 253.63,68.81 253.66,69.60 253.68,70.35 253.71,71.15 253.74,72.04 253.76,72.76 253.79,73.45 253.82,74.40 253.84,75.22 253.87,75.97 253.89,76.74 253.92,77.44 253.95,78.31 253.97,79.23 254.00,80.03 254.05,80.90 254.10,81.78 254.15,82.51 254.20,83.37 254.25,84.31 254.30,85.15 254.35,85.82 254.40,86.68 254.45,87.52 254.50,88.40 254.55,89.24 254.60,90.14 254.65,91.04 254.70,91.68 254.75,92.46 254.80,93.12 254.85,94.12 254.90,94.80 254.95,95.62 255.00,96.49 255.05,97.30 255.10,98.03 255.15,98.89 255.20,99.66 255.25,100.52 255.30,101.44 255.35,102.21 255.40,103.04 255.47,102.28 255.54,101.47 255.61,100.74 255.68,100.01 255.74,99.28 255.81,98.28 255.88,97.43 255.95,96.47 256.02,95.74 256.09,94.89 256.16,94.18 256.23,93.33 256.29,92.58 256.36,91.59 256.43,90.82 256.50,89.97 256.54,89.28 256.59,88.34 256.63,87.43 256.68,86.74 256.72,85.91 256.76,85.11 256.81,84.31 256.85,83.68 256.90,82.90 256.94,82.17 256.98,81.42 257.03,80.66 257.07,79.77 257.12,78.85 257.16,78.04 257.20,77.35 257.25,76.62 257.29,75.75 257.34,75.02 257.38,74.24 257.42,73.23 257.47,72.46 257.51,71.73 257.56,70.75 257.60,69.93 257.72,69.16 257.83,68.33 257.95,67.51 258.07,66.55 258.18,65.68 258.30,65.00 258.42,64.12 258.53,63.30 258.65,62.50 258.77,61.60 258.88,60.76 259.00,59.95 259.25,59.20 259.50,58.41 259.75,57.39 260.00,56.51 260.28,55.74 260.56,55.00 260.84,54.11 261.12,53.27 261.40,52.44 261.68,51.59 261.96,50.80 262.24,50.02 262.52,49.22 262.80,48.14 263.50,47.11 264.20,45.98 265.60,46.59 266.02,45.63 266.44,44.95 266.86,44.22 267.28,43.35 267.70,42.47 268.07,41.55 268.43,40.87 268.80,40.10 269.17,39.14 269.53,38.34 269.90,37.67 270.32,36.69 270.74,35.77 271.16,34.87 271.58,33.99 272.00,33.04 272.70,34.22 273.40,35.27 273.41,36.17 273.43,36.97 273.44,37.89 273.46,38.74 273.47,39.62 273.49,40.26 273.50,41.14 273.51,41.99 273.53,42.68 273.54,43.32 273.56,44.04 273.57,44.98 273.59,45.95 273.60,46.59 273.61,47.33 273.63,48.14 273.64,48.85 273.66,49.76 273.67,50.70 273.69,51.60 273.70,52.27 273.71,53.20 273.73,54.05 273.74,54.70 273.76,55.61 273.77,56.50 273.79,57.36 273.80,58.16 273.83,57.37 273.87,56.49 273.90,55.48 273.93,54.73 273.97,53.91 274.00,52.99 274.03,52.10 274.07,51.46 274.10,50.78 274.13,49.80 274.17,48.87 274.20,48.18 274.23,47.33 274.27,46.67 274.30,45.84 274.33,45.10 274.37,44.13 274.40,43.44 274.43,42.54 274.47,41.73 274.50,40.94 274.64,40.11 274.79,39.26 274.93,38.49 275.07,37.59 275.21,36.75 275.36,35.91 275.50,35.30 275.92,34.42 276.34,33.74 276.76,32.98 277.18,31.97 277.60,31.22 279.00,32.73 279.18,33.52 279.35,34.34 279.52,35.24 279.70,36.08 279.84,35.11 279.98,34.31 280.11,33.33 280.25,32.44 280.39,31.44 280.52,30.57 280.66,29.84 280.80,28.87 280.94,29.61 281.09,30.44 281.23,31.23 281.37,31.93 281.51,32.68 281.66,33.48 281.80,34.47 281.97,33.77 282.13,33.05 282.30,32.27 282.47,31.57 282.63,30.61 282.80,29.83 283.90,29.07 285.10,27.79 285.33,28.59 285.55,29.50 285.77,30.41 286.00,31.37 286.05,32.20 286.09,32.89 286.14,33.73 286.19,34.60 286.24,35.51 286.28,36.18 286.33,37.05 286.38,37.90 286.42,38.58 286.47,39.29 286.52,40.17 286.56,41.04 286.61,41.83 286.66,42.71 286.71,43.43 286.75,44.32 286.80,45.17 286.81,46.08 286.83,46.92 286.84,47.56 286.85,48.39 286.87,49.08 286.88,49.92 286.89,50.80 286.91,51.66 286.92,52.30 286.93,53.14 286.95,53.86 286.96,54.70 286.97,55.53 286.99,56.35 287.00,57.24 287.01,57.97 287.03,58.77 287.04,59.50 287.05,60.24 287.07,61.13 287.08,61.85 287.09,62.78 287.11,63.55 287.12,64.25 287.13,65.18 287.15,65.84 287.16,66.63 287.17,67.53 287.19,68.20 287.20,69.12 287.24,68.35 287.28,67.69 287.32,66.78 287.35,66.06 287.39,65.35 287.43,64.47 287.47,63.48 287.51,62.62 287.55,61.91 287.58,60.93 287.62,60.19 287.66,59.39 287.70,58.66 287.74,57.79 287.78,57.10 287.82,56.13 287.85,55.30 287.89,54.44 287.93,53.66 287.97,52.78 288.01,51.96 288.05,51.17 288.08,50.51 288.12,49.53 288.16,48.68 288.20,47.80 288.50,47.12 288.80,46.43 289.10,45.47 289.40,44.80 289.70,44.11 290.00,43.27 290.30,42.48 290.48,41.72 290.65,40.98 290.82,40.00 291.00,39.22 291.18,38.23 291.35,37.38 291.52,36.70 291.70,35.89 291.88,35.05 292.05,34.18 292.22,33.34 292.40,32.37 293.45,32.08 294.50,31.88 294.80,30.84 295.10,29.82 295.40,29.01 295.70,28.23 296.00,27.30 296.30,26.28 296.60,25.46 296.88,24.67 297.17,23.73 297.45,23.00 297.73,22.15 298.02,21.37 298.30,20.40 298.47,21.24 298.63,22.19 298.80,23.12 298.97,24.08 299.13,25.05 299.30,25.93 299.37,26.57 299.45,27.41 299.52,28.31 299.59,29.24 299.66,30.00 299.74,30.71 299.81,31.63 299.88,32.41 299.95,33.30 300.03,34.10 300.10,35.11 301.00,36.27 301.12,37.23 301.23,38.26 301.35,39.19 301.47,39.95 301.58,40.88 301.70,41.89 301.72,42.70 301.73,43.60 301.75,44.45 301.77,45.15 301.79,45.80 301.80,46.67 301.82,47.46 301.84,48.36 301.85,49.11 301.87,49.97 301.89,50.63 301.91,51.52 301.92,52.42 301.94,53.28 301.96,54.11 301.97,54.90 301.99,55.54 302.01,56.28 302.03,57.03 302.04,57.80 302.06,58.66 302.08,59.44 302.09,60.32 302.11,61.25 302.13,62.17 302.15,62.76 302.16,63.59 302.18,64.41 302.20,65.18 302.21,66.05 302.23,66.95 302.25,67.63 302.27,68.46 302.28,69.14 302.30,69.95 302.32,70.72 302.33,71.65 302.35,72.57 302.36,73.44 302.38,74.19 302.40,75.01 302.41,75.81 302.43,76.58 302.45,77.24 302.46,77.98 302.48,78.95 302.49,79.76 302.51,80.43 302.53,81.21 302.54,81.93 302.56,82.67 302.57,83.51 302.59,84.32 302.61,85.04 302.62,85.93 302.64,86.92 302.65,87.72 302.67,88.50 302.69,89.29 302.70,90.04 302.72,90.83 302.74,91.59 302.75,92.43 302.77,93.41 302.78,94.17 302.80,95.10 302.83,94.23 302.86,93.42 302.88,92.56 302.91,91.67 302.94,90.95 302.97,90.11 302.99,89.15 303.02,88.26 303.05,87.42 303.08,86.63 303.11,85.77 303.13,84.89 303.16,84.03 303.19,83.38 303.22,82.61 303.24,81.85 303.27,81.08 303.30,80.07 303.31,80.86 303.32,81.72 303.33,82.49 303.34,83.28 303.35,84.11 303.36,84.93 303.37,85.60 303.38,86.28 303.39,87.07 303.40,87.79 303.41,88.61 303.42,89.35 303.43,90.13 303.44,91.08 303.45,91.85 303.46,92.79 303.47,93.59 303.48,94.53 303.49,95.34 303.50,96.24 303.50,96.98 303.51,97.74 303.52,98.66 303.53,99.48 303.54,100.21 303.55,101.10 303.56,101.92 303.57,102.71 303.58,103.32 303.59,104.25 303.60,104.91 303.61,105.58 303.62,106.39 303.63,107.15 303.64,107.94 303.65,108.81 303.66,109.67 303.67,110.56 303.68,111.48 303.69,112.32 303.70,113.20 303.71,112.32 303.73,111.38 303.74,110.65 303.76,109.98 303.77,109.03 303.79,108.25 303.80,107.40 303.81,106.75 303.83,105.76 303.84,104.97 303.86,104.13 303.87,103.32 303.89,102.61 303.90,101.66 303.91,100.83 303.93,100.22 303.94,99.40 303.96,98.46 303.97,97.74 303.99,97.00 304.00,96.33 304.01,95.61 304.03,94.88 304.04,93.92 304.06,93.03 304.07,92.28 304.09,91.41 304.10,90.57 304.11,89.64 304.13,88.80 304.14,87.95 304.16,87.19 304.17,86.51 304.19,85.65 304.20,84.83 304.21,83.95 304.23,83.19 304.24,82.47 304.25,81.73 304.26,80.98 304.28,80.18 304.29,79.43 304.30,78.69 304.32,77.94 304.33,76.93 304.34,76.25 304.35,75.40 304.37,74.72 304.38,73.93 304.39,73.05 304.41,72.06 304.42,71.14 304.43,70.46 304.45,69.52 304.46,68.62 304.47,67.95 304.48,67.21 304.50,66.47 304.51,65.53 304.52,64.89 304.54,64.15 304.55,63.16 304.56,62.39 304.57,61.54 304.59,60.68 304.60,59.94 304.62,59.29 304.65,58.31 304.68,57.61 304.70,56.91 304.73,55.93 304.75,55.24 304.78,54.24 304.80,53.40 304.82,52.47 304.85,51.63 304.88,50.79 304.90,50.08 304.93,49.30 304.95,48.67 304.98,47.92 305.00,46.95 305.01,47.63 305.03,48.42 305.04,49.37 305.06,50.27 305.07,51.15 305.09,52.01 305.10,52.82 305.11,53.57 305.13,54.42 305.14,55.25 305.16,56.07 305.17,56.90 305.19,57.62 305.20,58.23 305.21,59.06 305.23,59.90 305.24,60.81 305.26,61.62 305.27,62.47 305.29,63.31 305.30,63.97 305.31,64.85 305.33,65.59 305.34,66.31 305.36,67.06 305.37,67.84 305.39,68.60 305.40,69.47 305.41,70.18 305.43,70.96 305.44,71.82 305.46,72.75 305.47,73.58 305.49,74.34 305.50,75.06 305.52,75.89 305.54,76.79 305.56,77.39 305.58,78.16 305.60,78.91 305.62,79.82 305.64,80.66 305.66,81.29 305.68,82.24 305.70,83.00 305.72,83.69 305.74,84.41 305.76,85.14 305.78,85.94 305.80,86.69 305.82,87.65 305.84,88.38 305.86,89.23 305.88,90.13 305.90,90.93 305.92,91.69 305.94,92.51 305.96,93.32 305.98,94.17 306.00,95.01 306.02,94.12 306.04,93.35 306.07,92.62 306.09,91.89 306.11,91.03 306.13,90.07 306.16,89.07 306.18,88.24 306.20,87.58 306.22,86.87 306.24,86.04 306.27,85.05 306.29,84.11 306.31,83.19 306.33,82.38 306.36,81.72 306.38,80.78 306.40,80.06 306.42,80.86 306.43,81.57 306.45,82.36 306.46,83.04 306.48,83.93 306.50,84.87 306.51,85.60 306.53,86.54 306.54,87.23 306.56,87.98 306.58,88.84 306.59,89.55 306.61,90.22 306.62,91.08 306.64,91.91 306.66,92.64 306.67,93.39 306.69,94.14 306.70,94.92 306.72,95.70 306.74,96.64 306.75,97.60 306.77,98.43 306.78,99.14 306.80,99.97 306.88,100.92 306.96,101.64 307.04,102.50 307.12,103.12 307.20,104.02 307.22,103.30 307.23,102.45 307.25,101.71 307.27,100.86 307.29,100.07 307.30,99.18 307.32,98.28 307.34,97.36 307.36,96.56 307.37,95.82 307.39,94.83 307.41,94.08 307.43,93.12 307.44,92.38 307.46,91.63 307.48,90.92 307.50,90.10 307.51,89.28 307.53,88.46 307.55,87.64 307.57,86.82 307.58,86.00 307.60,85.23 307.62,84.28 307.63,83.55 307.65,82.56 307.67,81.57 307.68,80.63 307.70,79.87 307.72,79.19 307.73,78.23 307.75,77.55 307.77,76.70 307.78,75.90 307.80,74.95 307.82,74.28 307.83,73.40 307.85,72.47 307.87,71.68 307.88,70.71 307.90,69.96 307.92,70.87 307.93,71.54 307.95,72.28 307.96,73.05 307.98,73.80 308.00,74.70 308.01,75.62 308.03,76.40 308.04,77.26 308.06,78.16 308.08,79.01 308.09,79.71 308.11,80.60 308.12,81.24 308.14,82.13 308.16,82.76 308.17,83.52 308.19,84.23 308.20,85.10 308.22,85.81 308.24,86.70 308.25,87.43 308.27,88.33 308.28,89.15 308.30,89.91 308.31,89.02 308.32,88.34 308.33,87.45 308.34,86.62 308.35,85.98 308.36,85.27 308.38,84.49 308.39,83.67 308.40,82.91 308.41,82.14 308.42,81.35 308.43,80.54 308.44,79.62 308.45,78.84 308.46,77.94 308.47,77.12 308.48,76.14 308.49,75.25 308.51,74.54 308.52,73.62 308.53,72.74 308.54,72.11 308.55,71.43 308.56,70.74 308.57,69.96 308.58,69.02 308.59,68.21 308.60,67.37 308.61,66.41 308.62,65.52 308.64,64.79 308.65,63.98 308.66,63.21 308.67,62.54 308.68,61.57 308.69,60.67 308.70,60.05 308.74,60.75 308.78,61.57 308.82,62.45 308.87,63.23 308.91,64.06 308.95,64.82 308.99,65.80 309.03,66.56 309.07,67.49 309.12,68.32 309.16,69.16 309.20,69.87 309.24,69.19 309.29,68.20 309.33,67.52 309.38,66.54 309.42,65.71 309.47,64.89 309.51,64.13 309.56,63.23 309.60,62.58 309.64,61.68 309.69,60.76 309.73,60.02 309.78,59.23 309.82,58.41 309.87,57.69 309.91,56.91 309.96,55.95 310.00,55.20 310.14,54.43 310.27,53.40 310.41,52.56 310.55,51.84 310.69,50.94 310.83,50.05 310.96,49.22 311.10,48.50 311.18,49.16 311.26,50.07 311.34,50.97 311.43,51.93 311.51,52.76 311.59,53.47 311.67,54.34 311.75,55.22 311.83,55.91 311.91,56.84 311.99,57.69 312.07,58.53 312.16,59.39 312.24,60.23 312.32,60.93 312.40,61.67 312.48,60.72 312.56,59.89 312.64,59.03 312.71,58.29 312.79,57.37 312.87,56.48 312.95,55.72 313.03,55.02 313.11,54.18 313.19,53.22 313.26,52.55 313.34,51.72 313.42,50.99 313.50,50.18 313.59,49.43 313.68,48.63 313.77,47.80 313.86,47.01 313.95,46.16 314.04,45.40 314.13,44.61 314.22,43.59 314.31,42.72 314.40,42.00 314.60,41.15 314.80,40.29 315.00,39.37 315.20,38.37 315.40,37.53 315.60,36.56 315.80,35.67 316.00,34.89 316.20,34.08 316.40,33.33 316.60,32.53 316.80,31.77 316.88,32.61 316.95,33.52 317.02,34.18 317.10,35.03 317.18,36.01 317.25,36.90 317.32,37.79 317.40,38.72 317.48,39.37 317.55,40.18 317.62,41.12 317.70,41.86 317.75,42.65 317.79,43.34 317.84,44.03 317.89,45.00 317.93,45.87 317.98,46.73 318.03,47.61 318.07,48.37 318.12,49.22 318.17,50.04 318.21,50.75 318.26,51.50 318.31,52.18 318.35,52.97 318.40,53.88 318.42,54.53 318.43,55.51 318.45,56.22 318.46,57.05 318.48,57.82 318.49,58.52 318.51,59.43 318.52,60.18 318.54,61.02 318.56,61.99 318.57,62.79 318.59,63.57 318.60,64.29 318.62,65.01 318.63,66.00 318.65,66.84 318.67,67.62 318.68,68.54 318.70,69.37 318.71,70.10 318.73,71.08 318.74,71.85 318.76,72.61 318.77,73.58 318.79,74.33 318.81,75.12 318.82,76.03 318.84,76.86 318.85,77.56 318.87,78.24 318.88,78.96 318.90,79.74 318.92,80.69 318.93,81.49 318.95,82.33 318.96,83.09 318.98,83.78 319.00,84.79 319.01,85.65 319.03,86.49 319.04,87.30 319.06,87.94 319.08,88.85 319.09,89.75 319.11,90.42 319.12,91.32 319.14,92.23 319.16,92.86 319.17,93.77 319.19,94.38 319.20,95.26 319.22,96.18 319.24,96.82 319.25,97.60 319.27,98.26 319.28,99.11 319.30,99.80 319.33,100.67 319.36,101.43 319.39,102.21 319.43,103.14 319.46,103.91 319.49,104.66 319.52,105.48 319.55,106.31 319.58,107.24 319.61,108.10 319.64,108.94 319.68,109.81 319.71,110.54 319.74,111.41 319.77,112.08 319.80,112.80 319.82,112.06 319.84,111.33 319.85,110.45 319.87,109.81 319.89,108.85 319.91,108.14 319.93,107.32 319.95,106.52 319.96,105.66 319.98,104.70 320.00,103.90 320.02,103.17 320.04,102.43 320.05,101.68 320.07,100.77 320.09,99.94 320.11,99.00 320.13,98.19 320.15,97.37 320.16,96.67 320.18,95.72 320.20,94.79 320.23,95.73 320.27,96.68 320.30,97.38 320.33,98.31 320.37,99.04 320.40,100.02 320.43,100.89 320.47,101.62 320.50,102.43 320.53,103.38 320.57,104.34 320.60,104.98 320.62,104.15 320.63,103.23 320.65,102.60 320.67,101.91 320.68,101.02 320.70,100.29 320.72,99.35 320.73,98.63 320.75,97.68 320.77,96.81 320.78,96.02 320.80,95.29 320.82,94.45 320.83,93.51 320.85,92.59 320.87,91.74 320.88,90.93 320.90,90.24 320.92,89.37 320.93,88.73 320.95,87.96 320.97,87.08 320.98,86.30 321.00,85.59 321.02,84.67 321.03,83.90 321.05,83.12 321.07,82.38 321.08,81.57 321.10,80.58 321.12,81.49 321.14,82.18 321.17,83.02 321.19,83.70 321.21,84.62 321.23,85.51 321.26,86.37 321.28,87.18 321.30,88.05 321.32,88.78 321.34,89.63 321.37,90.30 321.39,90.96 321.41,91.69 321.43,92.49 321.46,93.41 321.48,94.29 321.50,95.00 321.56,94.21 321.62,93.43 321.69,92.47 321.75,91.62 321.81,90.65 321.88,89.73 321.94,88.78 322.00,87.88 322.02,88.62 322.04,89.48 322.07,90.46 322.09,91.21 322.11,92.00 322.13,93.00 322.16,93.79 322.18,94.56 322.20,95.33 322.22,96.07 322.24,97.10 322.27,98.02 322.29,98.99 322.31,99.89 322.33,100.69 322.36,101.60 322.38,102.28 322.40,103.15 322.43,102.35 322.46,101.34 322.49,100.61 322.52,99.86 322.55,98.86 322.58,97.88 322.62,96.93 322.65,96.04 322.68,95.20 322.71,94.50 322.74,93.58 322.77,92.69 322.80,91.94 322.82,91.24 322.84,90.26 322.86,89.57 322.89,88.80 322.91,87.91 322.93,87.09 322.95,86.15 322.97,85.36 322.99,84.44 323.01,83.77 323.04,82.99 323.06,82.09 323.08,81.23 323.10,80.50 323.19,79.66 323.27,78.97 323.36,78.19 323.45,77.46 323.53,76.52 323.62,75.64 323.71,75.00 323.79,74.24 323.88,73.39 323.97,72.72 324.05,71.72 324.14,70.95 324.23,70.02 324.31,69.19 324.40,68.33 324.49,67.51 324.57,66.58 324.66,65.72 324.75,65.02 324.84,64.12 324.93,63.34 325.01,62.68 325.10,61.92 325.19,60.92 325.27,60.17 325.36,59.34 325.45,58.50 325.54,57.74 325.62,57.00 325.71,56.05 325.80,55.28 326.80,56.54 326.83,57.35 326.86,58.25 326.89,59.10 326.92,59.80 326.95,60.70 326.98,61.47 327.01,62.35 327.04,63.18 327.07,63.90 327.10,64.61 327.13,65.28 327.17,66.22 327.20,66.89 327.23,67.59 327.26,68.39 327.29,69.14 327.32,69.93 327.35,70.87 327.38,71.65 327.41,72.60 327.44,73.37 327.47,74.29 327.50,75.16 327.52,75.85 327.54,76.67 327.56,77.51 327.58,78.19 327.60,78.87 327.62,79.84 327.63,80.51 327.65,81.26 327.67,82.02 327.69,83.00 327.71,83.88 327.73,84.69 327.75,85.50 327.77,86.45 327.79,87.13 327.81,88.03 327.83,88.74 327.85,89.48 327.87,90.36 327.88,91.14 327.90,91.97 327.92,92.84 327.94,93.49 327.96,94.29 327.98,95.10 328.00,96.03" fill="none" stroke="#F18828" stroke-width="2.0" stroke-linejoin="round" stroke-linecap="round" />
<ellipse cx="190.25" cy="38.15" rx="24.6" ry="29.9" fill="none" stroke="#4A8AF4" stroke-width="1.45" stroke-dasharray="3.7 1.9"/>
<text x="191.1" y="84.2" font-size="14.3" text-anchor="middle" fill="#4A8AF4" font-weight="normal" letter-spacing="0.45">-C&#8801;C-</text>
<rect x="40.5" y="4.5" width="289" height="232" fill="none" stroke="#333333" stroke-width="1.1"/>
<line x1="40.50" y1="236.5" x2="40.50" y2="240.5" stroke="#333333" stroke-width="1"/>
<line x1="54.26" y1="236.5" x2="54.26" y2="238.5" stroke="#333333" stroke-width="1"/>
<line x1="68.02" y1="236.5" x2="68.02" y2="238.5" stroke="#333333" stroke-width="1"/>
<line x1="81.79" y1="236.5" x2="81.79" y2="238.5" stroke="#333333" stroke-width="1"/>
<line x1="95.55" y1="236.5" x2="95.55" y2="238.5" stroke="#333333" stroke-width="1"/>
<line x1="109.31" y1="236.5" x2="109.31" y2="238.5" stroke="#333333" stroke-width="1"/>
<line x1="123.07" y1="236.5" x2="123.07" y2="240.5" stroke="#333333" stroke-width="1"/>
<line x1="136.83" y1="236.5" x2="136.83" y2="238.5" stroke="#333333" stroke-width="1"/>
<line x1="150.60" y1="236.5" x2="150.60" y2="238.5" stroke="#333333" stroke-width="1"/>
<line x1="164.36" y1="236.5" x2="164.36" y2="238.5" stroke="#333333" stroke-width="1"/>
<line x1="178.12" y1="236.5" x2="178.12" y2="238.5" stroke="#333333" stroke-width="1"/>
<line x1="191.88" y1="236.5" x2="191.88" y2="238.5" stroke="#333333" stroke-width="1"/>
<line x1="205.64" y1="236.5" x2="205.64" y2="240.5" stroke="#333333" stroke-width="1"/>
<line x1="219.41" y1="236.5" x2="219.41" y2="238.5" stroke="#333333" stroke-width="1"/>
<line x1="233.17" y1="236.5" x2="233.17" y2="238.5" stroke="#333333" stroke-width="1"/>
<line x1="246.93" y1="236.5" x2="246.93" y2="238.5" stroke="#333333" stroke-width="1"/>
<line x1="260.69" y1="236.5" x2="260.69" y2="238.5" stroke="#333333" stroke-width="1"/>
<line x1="274.45" y1="236.5" x2="274.45" y2="238.5" stroke="#333333" stroke-width="1"/>
<line x1="288.22" y1="236.5" x2="288.22" y2="240.5" stroke="#333333" stroke-width="1"/>
<line x1="301.98" y1="236.5" x2="301.98" y2="238.5" stroke="#333333" stroke-width="1"/>
<line x1="315.74" y1="236.5" x2="315.74" y2="238.5" stroke="#333333" stroke-width="1"/>
<line x1="329.50" y1="236.5" x2="329.50" y2="238.5" stroke="#333333" stroke-width="1"/>
<text x="40.5" y="253.6" font-size="12" text-anchor="middle" fill="#1a1a1a" font-weight="normal" >4000</text>
<text x="123.07" y="253.6" font-size="12" text-anchor="middle" fill="#1a1a1a" font-weight="normal" >3000</text>
<text x="205.64" y="253.6" font-size="12" text-anchor="middle" fill="#1a1a1a" font-weight="normal" >2000</text>
<text x="288.21" y="253.6" font-size="12" text-anchor="middle" fill="#1a1a1a" font-weight="normal" >1000</text>
<text x="122" y="272.5" font-size="14.3" text-anchor="start" fill="#1a1a1a" font-weight="normal" >Wavenumber (cm<tspan dy="-5.5" font-size="10">-1</tspan><tspan dy="5.5">)</tspan></text>
<text x="29.8" y="120" font-size="14.3" text-anchor="middle" fill="#1a1a1a" font-weight="normal" transform="rotate(-90 29.8 120)">Transmittance (a.u.)</text>
<line x1="244.5" y1="188.1" x2="270.2" y2="188.1" stroke="#F18828" stroke-width="2.2"/>
<line x1="244.5" y1="201.9" x2="270.2" y2="201.9" stroke="#EE2522" stroke-width="2.2"/>
<text x="273.1" y="191.8" font-size="10.7" text-anchor="start" fill="#1a1a1a" font-weight="normal" >Orange-1</text>
<text x="273.1" y="205.6" font-size="10.7" text-anchor="start" fill="#1a1a1a" font-weight="normal" >Red-1</text>
<path d="M59.60,99.90 C60.57,100.12 63.40,100.58 65.40,101.20 C67.40,101.82 69.55,102.37 71.60,103.60 C73.65,104.83 75.65,106.53 77.70,108.60 C79.75,110.67 81.85,113.33 83.90,116.00 C85.95,118.67 87.95,121.53 90.00,124.60 C92.05,127.67 94.13,131.22 96.20,134.40 C98.27,137.58 100.35,140.92 102.40,143.70 C104.45,146.48 106.47,149.45 108.50,151.10 C110.53,152.75 112.75,153.50 114.60,153.60 C116.45,153.70 117.93,152.63 119.60,151.70 C121.27,150.77 122.85,149.32 124.60,148.00 C126.35,146.68 128.35,145.03 130.10,143.80 C131.85,142.57 133.62,141.77 135.10,140.60 C136.58,139.43 137.52,138.27 139.00,136.80 C140.48,135.33 142.10,133.27 144.00,131.80 C145.90,130.33 148.28,129.48 150.40,128.00 C152.52,126.52 154.60,124.60 156.70,122.90 C158.80,121.20 161.10,118.97 163.00,117.80 C164.90,116.63 166.40,116.43 168.10,115.90 C169.80,115.37 171.30,114.92 173.20,114.60 C175.10,114.28 177.40,114.48 179.50,114.00 C181.60,113.52 183.90,111.92 185.80,111.70 C187.70,111.48 189.42,112.78 190.90,112.70 C192.38,112.62 194.07,111.45 194.70,111.20" fill="none" stroke="#F18828" stroke-width="2.0" stroke-linejoin="round" stroke-linecap="round"/>
<path d="M59.60,145.30 C60.57,145.55 63.40,145.83 65.40,146.80 C67.40,147.77 69.75,149.77 71.60,151.10 C73.45,152.43 74.87,153.93 76.50,154.80 C78.13,155.67 79.77,155.90 81.40,156.30 C83.03,156.70 84.87,156.83 86.30,157.20 C87.73,157.57 88.35,157.37 90.00,158.50 C91.65,159.63 94.15,162.15 96.20,164.00 C98.25,165.85 100.25,167.85 102.30,169.60 C104.35,171.35 106.45,172.65 108.50,174.50 C110.55,176.35 112.55,178.85 114.60,180.70 C116.65,182.55 119.23,184.45 120.80,185.60 C122.37,186.75 123.07,187.13 124.00,187.60 C124.93,188.07 125.57,188.47 126.40,188.40 C127.23,188.33 128.08,187.90 129.00,187.20 C129.92,186.50 130.60,185.50 131.90,184.20 C133.20,182.90 134.95,180.92 136.80,179.40 C138.65,177.88 140.93,176.53 143.00,175.10 C145.07,173.67 147.15,172.33 149.20,170.80 C151.25,169.27 153.63,167.13 155.30,165.90 C156.97,164.67 157.70,164.33 159.20,163.40 C160.70,162.47 162.40,160.93 164.30,160.30 C166.20,159.67 168.48,159.92 170.60,159.60 C172.72,159.28 174.88,158.85 177.00,158.40 C179.12,157.95 181.20,157.07 183.30,156.90 C185.40,156.73 187.70,157.47 189.60,157.40 C191.50,157.33 193.85,156.65 194.70,156.50" fill="none" stroke="#EE2522" stroke-width="2.0" stroke-linejoin="round" stroke-linecap="round"/>
<line x1="59.3" y1="97" x2="195.4" y2="97" stroke="#444" stroke-width="1"/>
<line x1="59.5" y1="96.5" x2="59.5" y2="207" stroke="#333333" stroke-width="1"/>
<line x1="195.2" y1="96.5" x2="195.2" y2="207" stroke="#333333" stroke-width="1"/>
<line x1="59" y1="206.7" x2="195.7" y2="206.7" stroke="#333333" stroke-width="1"/>
<line x1="59.50" y1="206.7" x2="59.50" y2="208.89999999999998" stroke="#333333" stroke-width="1"/>
<line x1="70.83" y1="206.7" x2="70.83" y2="208.1" stroke="#333333" stroke-width="1"/>
<line x1="82.15" y1="206.7" x2="82.15" y2="208.1" stroke="#333333" stroke-width="1"/>
<line x1="93.47" y1="206.7" x2="93.47" y2="208.1" stroke="#333333" stroke-width="1"/>
<line x1="104.80" y1="206.7" x2="104.80" y2="208.89999999999998" stroke="#333333" stroke-width="1"/>
<line x1="116.12" y1="206.7" x2="116.12" y2="208.1" stroke="#333333" stroke-width="1"/>
<line x1="127.45" y1="206.7" x2="127.45" y2="208.1" stroke="#333333" stroke-width="1"/>
<line x1="138.77" y1="206.7" x2="138.77" y2="208.1" stroke="#333333" stroke-width="1"/>
<line x1="150.10" y1="206.7" x2="150.10" y2="208.89999999999998" stroke="#333333" stroke-width="1"/>
<line x1="161.43" y1="206.7" x2="161.43" y2="208.1" stroke="#333333" stroke-width="1"/>
<line x1="172.75" y1="206.7" x2="172.75" y2="208.1" stroke="#333333" stroke-width="1"/>
<line x1="184.07" y1="206.7" x2="184.07" y2="208.1" stroke="#333333" stroke-width="1"/>
<line x1="195.40" y1="206.7" x2="195.40" y2="208.89999999999998" stroke="#333333" stroke-width="1"/>
<text x="59.5" y="215.9" font-size="7.3" text-anchor="middle" fill="#1a1a1a" font-weight="normal" >2220</text>
<text x="104.8" y="215.9" font-size="7.3" text-anchor="middle" fill="#1a1a1a" font-weight="normal" >2200</text>
<text x="150.1" y="215.9" font-size="7.3" text-anchor="middle" fill="#1a1a1a" font-weight="normal" >2180</text>
<text x="195.4" y="215.9" font-size="7.3" text-anchor="middle" fill="#1a1a1a" font-weight="normal" >2160</text>
<text x="87.7" y="224.4" font-size="9" text-anchor="start" fill="#1a1a1a" font-weight="normal" >Wavenumber (cm<tspan dy="-3.2" font-size="5.8">-1</tspan><tspan dy="3.2">)</tspan></text>
<text x="54.2" y="151.5" font-size="9.2" text-anchor="middle" fill="#1a1a1a" font-weight="normal" transform="rotate(-90 54.2 151.5)">Transmittance (a.u.)</text>
<line x1="114.6" y1="147.4" x2="114.6" y2="158" stroke="#111" stroke-width="0.9" stroke-dasharray="1.2 1.2"/>
<line x1="126.4" y1="181.9" x2="126.4" y2="192.4" stroke="#111" stroke-width="0.9" stroke-dasharray="1.2 1.2"/>
<text x="105.8" y="165.9" font-size="8.5" text-anchor="start" fill="#1a1a1a" font-weight="normal" >2195 cm<tspan dy="-3" font-size="5.5">-1</tspan></text>
<text x="116.2" y="201" font-size="8.5" text-anchor="start" fill="#1a1a1a" font-weight="normal" >2190 cm<tspan dy="-3" font-size="5.5">-1</tspan></text>
<text x="352.3" y="14" font-size="18" text-anchor="start" fill="#111" font-weight="bold" >(b)</text>
<polyline points="394.50,195.11 394.75,195.10 395.00,195.03 395.25,194.98 395.50,194.90 395.75,194.64 396.00,194.34 396.25,194.17 396.50,193.85 396.75,193.74 397.00,194.04 397.25,194.31 397.50,194.63 397.75,194.78 398.00,194.91 398.25,194.90 398.50,194.98 398.75,195.07 399.00,195.03 399.25,195.02 399.50,194.95 399.75,194.71 400.00,194.63 400.25,194.51 400.50,194.44 400.75,194.47 401.00,194.74 401.25,194.86 401.50,194.99 401.75,195.10 402.00,195.12 402.25,195.17 402.50,195.07 402.75,195.06 403.00,194.94 403.25,194.92 403.50,194.83 403.75,194.57 404.00,194.42 404.25,194.40 404.50,194.62 404.75,194.72 405.00,194.85 405.25,194.89 405.50,194.97 405.75,194.99 406.00,195.00 406.25,195.05 406.50,195.07 406.75,195.13 407.00,195.10 407.25,195.11 407.50,195.06 407.75,195.00 408.00,194.82 408.25,194.50 408.50,194.31 408.75,194.09 409.00,193.95 409.25,193.93 409.50,194.06 409.75,194.04 410.00,194.08 410.25,193.90 410.50,193.49 410.75,192.78 411.00,191.82 411.25,190.21 411.50,188.02 411.75,187.35 412.00,188.87 412.25,190.85 412.50,192.30 412.75,193.29 413.00,193.91 413.25,194.14 413.50,194.40 413.75,194.45 414.00,194.61 414.25,194.62 414.50,194.71 414.75,194.74 415.00,194.60 415.25,194.51 415.50,194.16 415.75,193.69 416.00,193.27 416.25,192.79 416.50,192.71 416.75,193.03 417.00,193.50 417.25,193.75 417.50,193.86 417.75,194.01 418.00,193.86 418.25,193.70 418.50,193.37 418.75,192.98 419.00,192.95 419.25,193.31 419.50,193.82 419.75,194.24 420.00,194.53 420.25,194.75 420.50,194.97 420.75,195.03 421.00,195.06 421.25,195.14 421.50,195.10 421.75,195.10 422.00,195.23 422.25,195.21 422.50,195.20 422.75,195.07 423.00,195.06 423.25,195.05 423.50,194.89 423.75,194.85 424.00,194.73 424.25,194.41 424.50,194.16 424.75,193.84 425.00,193.74 425.25,193.86 425.50,194.23 425.75,194.59 426.00,194.71 426.25,194.82 426.50,195.02 426.75,195.21 427.00,195.19 427.25,195.23 427.50,195.28 427.75,195.27 428.00,195.27 428.25,195.26 428.50,195.27 428.75,195.31 429.00,195.28 429.25,195.27 429.50,195.34 429.75,195.23 430.00,195.26 430.25,195.29 430.50,195.21 430.75,195.12 431.00,195.14 431.25,195.00 431.50,194.82 431.75,194.66 432.00,194.46 432.25,193.96 432.50,193.34 432.75,192.54 433.00,191.99 433.25,192.06 433.50,192.86 433.75,193.55 434.00,194.10 434.25,194.53 434.50,194.86 434.75,194.99 435.00,195.04 435.25,195.06 435.50,195.16 435.75,195.16 436.00,195.29 436.25,195.38 436.50,195.31 436.75,195.28 437.00,195.37 437.25,195.38 437.50,195.42 437.75,195.34 438.00,195.23 438.25,195.18 438.50,195.22 438.75,195.10 439.00,194.98 439.25,194.83 439.50,194.59 439.75,194.23 440.00,193.80 440.25,193.11 440.50,192.72 440.75,193.16 441.00,193.84 441.25,194.44 441.50,194.74 441.75,195.04 442.00,195.24 442.25,195.23 442.50,195.34 442.75,195.43 443.00,195.46 443.25,195.46 443.50,195.42 443.75,195.41 444.00,195.38 444.25,195.34 444.50,195.42 444.75,195.41 445.00,195.51 445.25,195.42 445.50,195.54 445.75,195.56 446.00,195.63 446.25,195.66 446.50,195.68 446.75,195.63 447.00,195.48 447.25,195.53 447.50,195.45 447.75,195.42 448.00,195.47 448.25,195.46 448.50,195.42 448.75,195.49 449.00,195.45 449.25,195.34 449.50,195.21 449.75,195.20 450.00,195.02 450.25,194.86 450.50,194.55 450.75,194.26 451.00,194.27 451.25,194.53 451.50,194.70 451.75,194.99 452.00,195.22 452.25,195.35 452.50,195.44 452.75,195.34 453.00,195.40 453.25,195.49 453.50,195.39 453.75,195.37 454.00,195.35 454.25,195.39 454.50,195.39 454.75,195.39 455.00,195.45 455.25,195.31 455.50,195.23 455.75,195.17 456.00,195.11 456.25,195.03 456.50,195.11 456.75,195.06 457.00,194.77 457.25,194.53 457.50,194.13 457.75,193.62 458.00,193.06 458.25,192.78 458.50,192.95 458.75,193.43 459.00,193.91 459.25,194.32 459.50,194.57 459.75,194.83 460.00,195.02 460.25,195.08 460.50,195.05 460.75,195.04 461.00,195.05 461.25,195.05 461.50,195.04 461.75,194.91 462.00,194.93 462.25,194.99 462.50,195.08 462.75,195.16 463.00,195.25 463.25,195.36 463.50,195.36 463.75,195.42 464.00,195.41 464.25,195.35 464.50,195.35 464.75,195.37 465.00,195.22 465.25,195.15 465.50,195.05 465.75,195.03 466.00,195.05 466.25,195.03 466.50,195.21 466.75,195.34 467.00,195.32 467.25,195.36 467.50,195.32 467.75,195.44 468.00,195.48 468.25,195.55 468.50,195.57 468.75,195.56 469.00,195.56 469.25,195.53 469.50,195.41 469.75,195.43 470.00,195.33 470.25,195.29 470.50,195.39 470.75,195.29 471.00,195.24 471.25,195.20 471.50,195.32 471.75,195.24 472.00,195.15 472.25,195.24 472.50,195.13 472.75,195.18 473.00,195.14 473.25,195.11 473.50,195.06 473.75,194.90 474.00,194.75 474.25,194.39 474.50,194.16 474.75,193.72 475.00,193.14 475.25,192.10 475.50,190.72 475.75,188.69 476.00,186.19 476.25,185.27 476.50,186.74 476.75,188.88 477.00,190.27 477.25,190.97 477.50,191.14 477.75,190.93 478.00,190.24 478.25,188.88 478.50,186.83 478.75,184.14 479.00,181.58 479.25,180.86 479.50,182.59 479.75,185.54 480.00,188.30 480.25,190.21 480.50,191.62 480.75,192.48 481.00,193.21 481.25,193.74 481.50,194.11 481.75,194.36 482.00,194.54 482.25,194.72 482.50,194.91 482.75,194.90 483.00,194.91 483.25,195.05 483.50,195.19 483.75,195.20 484.00,195.20 484.25,195.25 484.50,195.18 484.75,195.15 485.00,195.11 485.25,195.15 485.50,195.12 485.75,195.06 486.00,195.09 486.25,195.14 486.50,195.00 486.75,194.96 487.00,194.81 487.25,194.74 487.50,194.55 487.75,194.23 488.00,193.84 488.25,193.29 488.50,192.63 488.75,191.56 489.00,189.87 489.25,187.64 489.50,185.66 489.75,185.80 490.00,187.49 490.25,189.32 490.50,190.27 490.75,190.61 491.00,190.37 491.25,189.69 491.50,188.39 491.75,186.27 492.00,183.40 492.25,180.46 492.50,179.10 492.75,180.35 493.00,183.25 493.25,186.07 493.50,188.02 493.75,189.25 494.00,189.97 494.25,190.42 494.50,190.50 494.75,190.35 495.00,189.85 495.25,188.87 495.50,187.46 495.75,185.45 496.00,182.48 496.25,178.18 496.50,171.72 496.75,162.54 497.00,151.70 497.25,145.01 497.50,148.14 497.75,158.28 498.00,168.60 498.25,176.20 498.50,181.43 498.75,185.12 499.00,187.55 499.25,189.29 499.50,190.60 499.75,191.59 500.00,192.20 500.25,192.76 500.50,193.23 500.75,193.60 501.00,193.84 501.25,194.12 501.50,194.41 501.75,194.51 502.00,194.63 502.25,194.64 502.50,194.69 502.75,194.80 503.00,194.76 503.25,194.88 503.50,194.94 503.75,194.78 504.00,194.82 504.25,194.66 504.50,194.57 504.75,194.40 505.00,194.06 505.25,193.74 505.50,193.27 505.75,192.65 506.00,191.67 506.25,190.53 506.50,189.09 506.75,187.41 507.00,186.02 507.25,185.55 507.50,186.42 507.75,187.98 508.00,189.71 508.25,191.16 508.50,192.25 508.75,192.99 509.00,193.65 509.25,194.14 509.50,194.42 509.75,194.78 510.00,195.00 510.25,195.07 510.50,195.31 510.75,195.31 511.00,195.38 511.25,195.51 511.50,195.58 511.75,195.62 512.00,195.67 512.25,195.66 512.50,195.63 512.75,195.58 513.00,195.52 513.25,195.60 513.50,195.65 513.75,195.61 514.00,195.61 514.25,195.50 514.50,195.38 514.75,195.29 515.00,195.28 515.25,195.05 515.50,194.92 515.75,194.69 516.00,194.53 516.25,194.19 516.50,193.77 516.75,193.26 517.00,192.63 517.25,191.80 517.50,190.57 517.75,189.06 518.00,186.92 518.25,184.49 518.50,182.16 518.75,180.89 519.00,181.50 519.25,183.45 519.50,185.72 519.75,187.78 520.00,189.45 520.25,190.73 520.50,191.63 520.75,192.23 521.00,192.56 521.25,192.64 521.50,192.64 521.75,192.45 522.00,192.15 522.25,191.61 522.50,190.65 522.75,189.24 523.00,187.20 523.25,183.81 523.50,178.96 523.75,172.58 524.00,167.44 524.25,168.07 524.50,173.93 524.75,180.21 525.00,184.84 525.25,187.98 525.50,189.97 525.75,191.22 526.00,192.18 526.25,192.76 526.50,193.18 526.75,193.49 527.00,193.54 527.25,193.71 527.50,193.75 527.75,193.68 528.00,193.56 528.25,193.36 528.50,193.03 528.75,192.70 529.00,192.14 529.25,191.55 529.50,190.75 529.75,189.61 530.00,188.07 530.25,185.98 530.50,182.87 530.75,178.07 531.00,171.06 531.25,160.45 531.50,145.96 531.75,132.53 532.00,130.83 532.25,142.55 532.50,157.23 532.75,168.55 533.00,175.95 533.25,180.83 533.50,183.92 533.75,185.79 534.00,187.08 534.25,187.72 534.50,187.96 534.75,187.70 535.00,186.98 535.25,185.61 535.50,183.63 535.75,180.62 536.00,176.14 536.25,169.71 536.50,161.61 536.75,153.56 537.00,149.93 537.25,153.64 537.50,161.87 537.75,170.28 538.00,176.93 538.25,181.81 538.50,185.32 538.75,187.80 539.00,189.59 539.25,190.97 539.50,191.94 539.75,192.75 540.00,193.44 540.25,193.92 540.50,194.27 540.75,194.72 541.00,195.04 541.25,195.23 541.50,195.41 541.75,195.61 542.00,195.79 542.25,195.86 542.50,195.91 542.75,196.01 543.00,196.22 543.25,196.24 543.50,196.35 543.75,196.39 544.00,196.43 544.25,196.47 544.50,196.56 544.75,196.59 545.00,196.59 545.25,196.62 545.50,196.67 545.75,196.77 546.00,196.76 546.25,196.75 546.50,196.84 546.75,196.90 547.00,197.00 547.25,196.94 547.50,196.98 547.75,197.02 548.00,196.97 548.25,197.13 548.50,197.09 548.75,197.04 549.00,197.10 549.25,197.08 549.50,197.16 549.75,197.16 550.00,197.12 550.25,197.08 550.50,197.20 550.75,197.19 551.00,197.29 551.25,197.28 551.50,197.38 551.75,197.32 552.00,197.27 552.25,197.25 552.50,197.35 552.75,197.38 553.00,197.34 553.25,197.27 553.50,197.35 553.75,197.45 554.00,197.44 554.25,197.32 554.50,197.26 554.75,197.24 555.00,197.24 555.25,197.22 555.50,197.21 555.75,197.33 556.00,197.45 556.25,197.38 556.50,197.50 556.75,197.48 557.00,197.53 557.25,197.58 557.50,197.62 557.75,197.47 558.00,197.43 558.25,197.47 558.50,197.56 558.75,197.45 559.00,197.42 559.25,197.52 559.50,197.43 559.75,197.43 560.00,197.43 560.25,197.49 560.50,197.58 560.75,197.49 561.00,197.54 561.25,197.58 561.50,197.62 561.75,197.59 562.00,197.65 562.25,197.57 562.50,197.54 562.75,197.48 563.00,197.55 563.25,197.54 563.50,197.49 563.75,197.44 564.00,197.53 564.25,197.55 564.50,197.59 564.75,197.55 565.00,197.54 565.25,197.48 565.50,197.55 565.75,197.45 566.00,197.49 566.25,197.56 566.50,197.59 566.75,197.50 567.00,197.47 567.25,197.57 567.50,197.59 567.75,197.66 568.00,197.69 568.25,197.63 568.50,197.68 568.75,197.68 569.00,197.60 569.25,197.56 569.50,197.47 569.75,197.49 570.00,197.61 570.25,197.51 570.50,197.54 570.75,197.47 571.00,197.42 571.25,197.50 571.50,197.47 571.75,197.41 572.00,197.40 572.25,197.49 572.50,197.53 572.75,197.44 573.00,197.43 573.25,197.57 573.50,197.50 573.75,197.53 574.00,197.52 574.25,197.58 574.50,197.58 574.75,197.62 575.00,197.59 575.25,197.50 575.50,197.44 575.75,197.39 576.00,197.50 576.25,197.42 576.50,197.36 576.75,197.51 577.00,197.44 577.25,197.54 577.50,197.43 577.75,197.44 578.00,197.39 578.25,197.49 578.50,197.49 578.75,197.50 579.00,197.53 579.25,197.56 579.50,197.47 579.75,197.47 580.00,197.43 580.25,197.33 580.50,197.42 580.75,197.41 581.00,197.45 581.25,197.34 581.50,197.34 581.75,197.32 582.00,197.35 582.25,197.24 582.50,197.21 582.75,197.22 583.00,197.13 583.25,197.17 583.50,197.21 583.75,197.17 584.00,197.18 584.25,197.17 584.50,197.07 584.75,197.02 585.00,197.11 585.25,197.02 585.50,196.97 585.75,196.85 586.00,196.79 586.25,196.73 586.50,196.83 586.75,196.82 587.00,196.82 587.25,196.83 587.50,196.72 587.75,196.70 588.00,196.58 588.25,196.45 588.50,196.44 588.75,196.38 589.00,196.32 589.25,196.14 589.50,196.04 589.75,195.85 590.00,195.80 590.25,195.68 590.50,195.42 590.75,195.31 591.00,195.00 591.25,194.69 591.50,194.52 591.75,194.21 592.00,193.92 592.25,193.61 592.50,193.11 592.75,192.74 593.00,192.17 593.25,191.58 593.50,190.86 593.75,190.12 594.00,189.20 594.25,188.00 594.50,186.56 594.75,184.91 595.00,182.92 595.25,180.41 595.50,177.35 595.75,173.67 596.00,168.97 596.25,163.10 596.50,155.76 596.75,146.84 597.00,136.54 597.25,126.00 597.50,117.37 597.75,113.21 598.00,115.08 598.25,122.23 598.50,132.22 598.75,142.79 599.00,152.25 599.25,160.27 599.50,166.87 599.75,172.12 600.00,176.20 600.25,179.47 600.50,182.23 600.75,184.29 601.00,186.03 601.25,187.57 601.50,188.83 601.75,189.82 602.00,190.64 602.25,191.39 602.50,192.15 602.75,192.72 603.00,193.32 603.25,193.77 603.50,194.20 603.75,194.38 604.00,194.61 604.25,194.81 604.50,195.09 604.75,195.31 605.00,195.45 605.25,195.69 605.50,195.80 605.75,195.96 606.00,196.09 606.25,196.33 606.50,196.43 606.75,196.49 607.00,196.53 607.25,196.65 607.50,196.80 607.75,196.92 608.00,197.07 608.25,197.17 608.50,197.13 608.75,197.11 609.00,197.24 609.25,197.35 609.50,197.37 609.75,197.47 610.00,197.49 610.25,197.46 610.50,197.44 610.75,197.41 611.00,197.53 611.25,197.66 611.50,197.76 611.75,197.74 612.00,197.78 612.25,197.87 612.50,197.91 612.75,197.90 613.00,197.87 613.25,197.88 613.50,197.82 613.75,197.80 614.00,197.90 614.25,198.03 614.50,198.02 614.75,198.00 615.00,197.98 615.25,198.00 615.50,198.08 615.75,198.07 616.00,198.17 616.25,198.08 616.50,198.06 616.75,198.10 617.00,198.10 617.25,198.20 617.50,198.26 617.75,198.32 618.00,198.30 618.25,198.18 618.50,198.22 618.75,198.24 619.00,198.25 619.25,198.21 619.50,198.29 619.75,198.37 620.00,198.27 620.25,198.32 620.50,198.30 620.75,198.32 621.00,198.41 621.25,198.49 621.50,198.47 621.75,198.37 622.00,198.47 622.25,198.38 622.50,198.37 622.75,198.46 623.00,198.41 623.25,198.38 623.50,198.50 623.75,198.57 624.00,198.49 624.25,198.47 624.50,198.43 624.75,198.38 625.00,198.38 625.25,198.53 625.50,198.44 625.75,198.42 626.00,198.41 626.25,198.38 626.50,198.45 626.75,198.55 627.00,198.62 627.25,198.63 627.50,198.68 627.75,198.54 628.00,198.52 628.25,198.65 628.50,198.55 628.75,198.53 629.00,198.57 629.25,198.55 629.50,198.60 629.75,198.53 630.00,198.53 630.25,198.67 630.50,198.60 630.75,198.71 631.00,198.64 631.25,198.76 631.50,198.77 631.75,198.78 632.00,198.68 632.25,198.61 632.50,198.71 632.75,198.65 633.00,198.63 633.25,198.74 633.50,198.82 633.75,198.71 634.00,198.82 634.25,198.81 634.50,198.78 634.75,198.70 635.00,198.72 635.25,198.85 635.50,198.79 635.75,198.72 636.00,198.69 636.25,198.67 636.50,198.70 636.75,198.84 637.00,198.76 637.25,198.73 637.50,198.87 637.75,198.97 638.00,199.02 638.25,198.91 638.50,198.87 638.75,198.97 639.00,198.93 639.25,198.96 639.50,198.90 639.75,198.81 640.00,198.82 640.25,198.91 640.50,198.98 640.75,198.98 641.00,198.96 641.25,198.97 641.50,198.96 641.75,198.98 642.00,199.05 642.25,198.97 642.50,199.00 642.75,199.10 643.00,199.14 643.25,199.03 643.50,199.13 643.75,199.17 644.00,199.06 644.25,199.02 644.50,198.98 644.75,198.94 645.00,199.10 645.25,199.08 645.50,199.17 645.75,199.07 646.00,199.00 646.25,199.13 646.50,199.20 646.75,199.28 647.00,199.27 647.25,199.24 647.50,199.27 647.75,199.16 648.00,199.18 648.25,199.18 648.50,199.12 648.75,199.18 649.00,199.17 649.25,199.20 649.50,199.19 649.75,199.18 650.00,199.19 650.25,199.24 650.50,199.36 650.75,199.42 651.00,199.44 651.25,199.46 651.50,199.36 651.75,199.44 652.00,199.35 652.25,199.27 652.50,199.30 652.75,199.37 653.00,199.34 653.25,199.38 653.50,199.34 653.75,199.46 654.00,199.42 654.25,199.41 654.50,199.42 654.75,199.50 655.00,199.57 655.25,199.53 655.50,199.48 655.75,199.50 656.00,199.40 656.25,199.42 656.50,199.51 656.75,199.56 657.00,199.45 657.25,199.54 657.50,199.51 657.75,199.61 658.00,199.56 658.25,199.49 658.50,199.53 658.75,199.62 659.00,199.58 659.25,199.65 659.50,199.67 659.75,199.61 660.00,199.57 660.25,199.58 660.50,199.58 660.75,199.57 661.00,199.63 661.25,199.71 661.50,199.70 661.75,199.61 662.00,199.58 662.25,199.59 662.50,199.65 662.75,199.60 663.00,199.55 663.25,199.58 663.50,199.59 663.75,199.55 664.00,199.63 664.25,199.76 664.50,199.76 664.75,199.81 665.00,199.86 665.25,199.89 665.50,199.93 665.75,199.86 666.00,199.87 666.25,199.77 666.50,199.86 666.75,199.82 667.00,199.82 667.25,199.91 667.50,199.84 667.75,199.78 668.00,199.88 668.25,199.90 668.50,199.81 668.75,199.74 669.00,199.78 669.25,199.73 669.50,199.87 669.75,199.83 670.00,199.82 670.25,199.85 670.50,199.89 670.75,199.90 671.00,199.95 671.25,199.99 671.50,199.97 671.75,199.90 672.00,200.03 672.25,200.06 672.50,199.96 672.75,199.97 673.00,200.04 673.25,200.14 673.50,200.01 673.75,199.93 674.00,199.98 674.25,200.00 674.50,200.11 674.75,200.16 675.00,200.10 675.25,200.08 675.50,200.11 675.75,200.19 676.00,200.10 676.25,200.09 676.50,200.03 676.75,200.10 677.00,200.03 677.25,200.17 677.50,200.18 677.75,200.19 678.00,200.11 678.25,200.09 678.50,200.13 678.75,200.23 679.00,200.24 679.25,200.19 679.50,200.31 679.75,200.31 680.00,200.29 680.25,200.22 680.50,200.20 680.75,200.31" fill="none" stroke="#F18828" stroke-width="1.9" stroke-linejoin="round" stroke-linecap="round" />
<polyline points="394.50,220.11 394.75,219.97 395.00,219.91 395.25,219.67 395.50,219.48 395.75,219.12 396.00,218.57 396.25,218.00 396.50,217.35 396.75,217.20 397.00,217.53 397.25,218.13 397.50,218.74 397.75,219.26 398.00,219.46 398.25,219.61 398.50,219.79 398.75,219.95 399.00,219.94 399.25,219.86 399.50,219.85 399.75,219.55 400.00,219.42 400.25,219.17 400.50,219.09 400.75,219.23 401.00,219.48 401.25,219.78 401.50,219.86 401.75,219.98 402.00,220.07 402.25,220.05 402.50,220.05 402.75,219.92 403.00,219.79 403.25,219.67 403.50,219.62 403.75,219.48 404.00,219.37 404.25,219.42 404.50,219.54 404.75,219.66 405.00,219.89 405.25,220.03 405.50,220.04 405.75,220.12 406.00,220.15 406.25,220.24 406.50,220.25 406.75,220.16 407.00,220.21 407.25,220.04 407.50,219.95 407.75,219.90 408.00,219.64 408.25,219.42 408.50,219.02 408.75,218.76 409.00,218.63 409.25,218.68 409.50,218.91 409.75,218.95 410.00,218.97 410.25,218.79 410.50,218.38 410.75,217.63 411.00,216.45 411.25,214.53 411.50,212.07 411.75,211.22 412.00,212.90 412.25,215.34 412.50,217.07 412.75,218.19 413.00,218.85 413.25,219.14 413.50,219.35 413.75,219.53 414.00,219.50 414.25,219.54 414.50,219.45 414.75,219.32 415.00,219.11 415.25,218.96 415.50,218.48 415.75,217.86 416.00,217.12 416.25,216.58 416.50,216.38 416.75,216.90 417.00,217.61 417.25,218.23 417.50,218.57 417.75,218.68 418.00,218.45 418.25,218.07 418.50,217.53 418.75,217.18 419.00,217.26 419.25,217.65 419.50,218.27 419.75,218.82 420.00,219.22 420.25,219.56 420.50,219.81 420.75,219.92 421.00,219.96 421.25,220.08 421.50,220.15 421.75,220.24 422.00,220.37 422.25,220.40 422.50,220.38 422.75,220.38 423.00,220.38 423.25,220.23 423.50,220.27 423.75,220.22 424.00,220.12 424.25,219.92 424.50,219.58 424.75,219.25 425.00,219.04 425.25,219.24 425.50,219.45 425.75,219.68 426.00,219.90 426.25,220.04 426.50,220.18 426.75,220.21 427.00,220.23 427.25,220.28 427.50,220.31 427.75,220.38 428.00,220.35 428.25,220.51 428.50,220.55 428.75,220.48 429.00,220.46 429.25,220.46 429.50,220.46 429.75,220.40 430.00,220.50 430.25,220.57 430.50,220.49 430.75,220.42 431.00,220.26 431.25,220.11 431.50,220.00 431.75,219.80 432.00,219.62 432.25,219.12 432.50,218.40 432.75,217.69 433.00,217.01 433.25,217.03 433.50,217.83 433.75,218.57 434.00,219.23 434.25,219.75 434.50,220.07 434.75,220.24 435.00,220.28 435.25,220.33 435.50,220.33 435.75,220.46 436.00,220.50 436.25,220.57 436.50,220.52 436.75,220.47 437.00,220.56 437.25,220.64 437.50,220.65 437.75,220.63 438.00,220.60 438.25,220.53 438.50,220.35 438.75,220.24 439.00,220.06 439.25,219.75 439.50,219.35 439.75,218.86 440.00,218.12 440.25,217.36 440.50,217.04 440.75,217.44 441.00,218.37 441.25,219.18 441.50,219.73 441.75,219.97 442.00,220.11 442.25,220.21 442.50,220.28 442.75,220.34 443.00,220.48 443.25,220.62 443.50,220.70 443.75,220.69 444.00,220.72 444.25,220.77 444.50,220.66 444.75,220.72 445.00,220.80 445.25,220.83 445.50,220.84 445.75,220.79 446.00,220.70 446.25,220.77 446.50,220.72 446.75,220.79 447.00,220.86 447.25,220.78 447.50,220.73 447.75,220.80 448.00,220.80 448.25,220.67 448.50,220.58 448.75,220.51 449.00,220.59 449.25,220.59 449.50,220.41 449.75,220.37 450.00,220.27 450.25,220.01 450.50,219.64 450.75,219.39 451.00,219.27 451.25,219.41 451.50,219.86 451.75,220.13 452.00,220.31 452.25,220.51 452.50,220.54 452.75,220.65 453.00,220.71 453.25,220.63 453.50,220.59 453.75,220.57 454.00,220.55 454.25,220.60 454.50,220.56 454.75,220.56 455.00,220.49 455.25,220.59 455.50,220.51 455.75,220.46 456.00,220.42 456.25,220.41 456.50,220.24 456.75,220.13 457.00,219.85 457.25,219.48 457.50,218.96 457.75,218.17 458.00,217.43 458.25,216.94 458.50,217.08 458.75,217.89 459.00,218.57 459.25,219.16 459.50,219.62 459.75,219.90 460.00,220.03 460.25,220.16 460.50,220.24 460.75,220.31 461.00,220.19 461.25,220.15 461.50,219.99 461.75,219.84 462.00,219.87 462.25,219.96 462.50,220.13 462.75,220.33 463.00,220.51 463.25,220.53 463.50,220.58 463.75,220.58 464.00,220.58 464.25,220.61 464.50,220.56 464.75,220.51 465.00,220.43 465.25,220.41 465.50,220.27 465.75,220.15 466.00,220.12 466.25,220.08 466.50,220.22 466.75,220.44 467.00,220.57 467.25,220.52 467.50,220.49 467.75,220.55 468.00,220.50 468.25,220.51 468.50,220.48 468.75,220.58 469.00,220.66 469.25,220.73 469.50,220.62 469.75,220.65 470.00,220.66 470.25,220.55 470.50,220.63 470.75,220.68 471.00,220.55 471.25,220.60 471.50,220.51 471.75,220.45 472.00,220.50 472.25,220.46 472.50,220.28 472.75,220.19 473.00,220.10 473.25,219.96 473.50,219.77 473.75,219.59 474.00,219.44 474.25,219.05 474.50,218.69 474.75,218.12 475.00,217.20 475.25,215.94 475.50,214.03 475.75,211.16 476.00,207.85 476.25,206.76 476.50,208.78 476.75,211.69 477.00,213.58 477.25,214.59 477.50,214.83 477.75,214.62 478.00,213.65 478.25,211.92 478.50,209.37 478.75,206.07 479.00,202.88 479.25,201.88 479.50,204.09 479.75,207.91 480.00,211.27 480.25,213.78 480.50,215.41 480.75,216.55 481.00,217.49 481.25,218.11 481.50,218.49 481.75,218.96 482.00,219.24 482.25,219.49 482.50,219.53 482.75,219.74 483.00,219.73 483.25,219.90 483.50,219.93 483.75,219.94 484.00,219.99 484.25,220.09 484.50,220.02 484.75,219.95 485.00,219.97 485.25,219.91 485.50,219.82 485.75,219.76 486.00,219.67 486.25,219.60 486.50,219.53 486.75,219.42 487.00,219.36 487.25,219.13 487.50,218.89 487.75,218.49 488.00,218.02 488.25,217.27 488.50,216.29 488.75,214.73 489.00,212.55 489.25,209.44 489.50,206.62 489.75,206.68 490.00,209.20 490.25,211.42 490.50,212.81 490.75,213.15 491.00,212.74 491.25,211.62 491.50,209.48 491.75,206.25 492.00,201.90 492.25,197.41 492.50,195.18 492.75,197.30 493.00,201.81 493.25,206.14 493.50,209.30 493.75,211.40 494.00,212.65 494.25,213.36 494.50,213.63 494.75,213.67 495.00,213.20 495.25,212.31 495.50,210.89 495.75,208.91 496.00,205.82 496.25,201.05 496.50,193.82 496.75,183.66 497.00,171.87 497.25,164.48 497.50,167.97 497.75,179.16 498.00,190.43 498.25,199.02 498.50,204.90 498.75,208.80 499.00,211.43 499.25,213.45 499.50,214.77 499.75,215.78 500.00,216.47 500.25,217.10 500.50,217.61 500.75,218.02 501.00,218.27 501.25,218.55 501.50,218.66 501.75,218.82 502.00,218.91 502.25,219.04 502.50,219.05 502.75,219.06 503.00,219.11 503.25,219.10 503.50,219.13 503.75,219.08 504.00,219.03 504.25,218.89 504.50,218.70 504.75,218.45 505.00,217.99 505.25,217.42 505.50,216.81 505.75,215.75 506.00,214.51 506.25,212.81 506.50,210.53 506.75,208.23 507.00,206.36 507.25,205.82 507.50,207.04 507.75,209.32 508.00,211.57 508.25,213.59 508.50,215.15 508.75,216.38 509.00,217.28 509.25,217.96 509.50,218.42 509.75,218.84 510.00,219.11 510.25,219.33 510.50,219.41 510.75,219.46 511.00,219.53 511.25,219.64 511.50,219.66 511.75,219.84 512.00,219.89 512.25,219.93 512.50,219.95 512.75,219.96 513.00,219.92 513.25,219.77 513.50,219.82 513.75,219.80 514.00,219.71 514.25,219.61 514.50,219.51 514.75,219.26 515.00,219.16 515.25,218.90 515.50,218.58 515.75,218.26 516.00,217.96 516.25,217.41 516.50,216.86 516.75,216.14 517.00,215.03 517.25,213.57 517.50,211.67 517.75,209.18 518.00,205.96 518.25,202.12 518.50,198.47 518.75,196.38 519.00,197.13 519.25,200.16 519.50,204.01 519.75,207.37 520.00,210.05 520.25,211.92 520.50,213.26 520.75,214.23 521.00,214.95 521.25,215.36 521.50,215.51 521.75,215.34 522.00,214.98 522.25,214.29 522.50,213.18 522.75,211.37 523.00,208.78 523.25,204.52 523.50,198.33 523.75,190.17 524.00,183.40 524.25,184.31 524.50,191.87 524.75,199.96 525.00,205.80 525.25,209.64 525.50,212.14 525.75,213.95 526.00,215.01 526.25,215.82 526.50,216.28 526.75,216.67 527.00,216.99 527.25,216.99 527.50,217.08 527.75,216.99 528.00,216.90 528.25,216.66 528.50,216.21 528.75,215.83 529.00,215.18 529.25,214.27 529.50,213.15 529.75,211.83 530.00,210.01 530.25,207.47 530.50,203.88 530.75,198.75 531.00,191.10 531.25,179.60 531.50,162.26 531.75,139.99 532.00,122.02 532.25,124.13 532.50,144.16 532.75,165.52 533.00,181.22 533.25,191.38 533.50,197.93 533.75,202.11 534.00,204.87 534.25,206.40 534.50,207.04 534.75,206.98 535.00,206.17 535.25,204.48 535.50,201.76 535.75,197.73 536.00,191.53 536.25,182.86 536.50,171.53 536.75,160.40 537.00,155.55 537.25,160.79 537.50,172.33 537.75,184.16 538.00,193.49 538.25,200.23 538.50,204.99 538.75,208.47 539.00,211.01 539.25,212.82 539.50,214.25 539.75,215.23 540.00,216.17 540.25,216.86 540.50,217.48 540.75,217.97 541.00,218.31 541.25,218.56 541.50,218.98 541.75,219.14 542.00,219.38 542.25,219.56 542.50,219.71 542.75,219.94 543.00,220.16 543.25,220.20 543.50,220.33 543.75,220.37 544.00,220.48 544.25,220.54 544.50,220.56 544.75,220.59 545.00,220.64 545.25,220.83 545.50,220.88 545.75,220.87 546.00,221.02 546.25,221.14 546.50,221.12 546.75,221.06 547.00,221.04 547.25,221.03 547.50,221.08 547.75,221.07 548.00,221.10 548.25,221.14 548.50,221.23 548.75,221.36 549.00,221.41 549.25,221.39 549.50,221.38 549.75,221.41 550.00,221.40 550.25,221.38 550.50,221.32 550.75,221.32 551.00,221.47 551.25,221.38 551.50,221.41 551.75,221.45 552.00,221.52 552.25,221.44 552.50,221.40 552.75,221.37 553.00,221.38 553.25,221.40 553.50,221.51 553.75,221.55 554.00,221.58 554.25,221.43 554.50,221.34 554.75,221.42 555.00,221.50 555.25,221.47 555.50,221.47 555.75,221.35 556.00,221.35 556.25,221.46 556.50,221.50 556.75,221.53 557.00,221.57 557.25,221.45 557.50,221.35 557.75,221.29 558.00,221.33 558.25,221.38 558.50,221.46 558.75,221.46 559.00,221.45 559.25,221.46 559.50,221.40 559.75,221.38 560.00,221.27 560.25,221.34 560.50,221.27 560.75,221.37 561.00,221.37 561.25,221.30 561.50,221.21 561.75,221.19 562.00,221.24 562.25,221.29 562.50,221.19 562.75,221.13 563.00,221.17 563.25,221.21 563.50,221.19 563.75,221.14 564.00,221.18 564.25,221.09 564.50,221.08 564.75,221.11 565.00,221.22 565.25,221.22 565.50,221.27 565.75,221.21 566.00,221.12 566.25,221.07 566.50,221.17 566.75,221.18 567.00,221.10 567.25,220.99 567.50,221.02 567.75,221.07 568.00,221.04 568.25,220.99 568.50,221.03 568.75,221.11 569.00,221.01 569.25,220.91 569.50,220.90 569.75,220.91 570.00,220.96 570.25,220.89 570.50,220.97 570.75,220.99 571.00,220.96 571.25,220.87 571.50,220.97 571.75,220.89 572.00,220.94 572.25,220.84 572.50,220.78 572.75,220.85 573.00,220.79 573.25,220.88 573.50,220.83 573.75,220.74 574.00,220.69 574.25,220.69 574.50,220.73 574.75,220.81 575.00,220.69 575.25,220.66 575.50,220.60 575.75,220.71 576.00,220.60 576.25,220.51 576.50,220.45 576.75,220.47 577.00,220.58 577.25,220.64 577.50,220.63 577.75,220.67 578.00,220.68 578.25,220.55 578.50,220.44 578.75,220.51 579.00,220.51 579.25,220.35 579.50,220.38 579.75,220.33 580.00,220.29 580.25,220.24 580.50,220.17 580.75,220.09 581.00,220.08 581.25,220.08 581.50,220.18 581.75,220.07 582.00,220.15 582.25,220.04 582.50,219.99 582.75,220.04 583.00,220.05 583.25,219.96 583.50,219.82 583.75,219.80 584.00,219.75 584.25,219.80 584.50,219.67 584.75,219.61 585.00,219.65 585.25,219.48 585.50,219.43 585.75,219.45 586.00,219.43 586.25,219.24 586.50,219.09 586.75,218.98 587.00,219.04 587.25,218.91 587.50,218.88 587.75,218.85 588.00,218.67 588.25,218.50 588.50,218.47 588.75,218.33 589.00,218.10 589.25,217.98 589.50,217.74 589.75,217.51 590.00,217.21 590.25,217.08 590.50,216.91 590.75,216.62 591.00,216.35 591.25,215.83 591.50,215.37 591.75,214.92 592.00,214.48 592.25,213.92 592.50,213.13 592.75,212.22 593.00,211.23 593.25,210.08 593.50,208.78 593.75,207.03 594.00,205.07 594.25,202.62 594.50,199.58 594.75,195.75 595.00,190.85 595.25,184.58 595.50,176.61 595.75,166.54 596.00,154.17 596.25,139.57 596.50,124.58 596.75,112.70 597.00,107.98 597.25,112.59 597.50,124.51 597.75,139.54 598.00,154.05 598.25,166.62 598.50,176.73 598.75,184.71 599.00,190.79 599.25,195.56 599.50,199.34 599.75,202.46 600.00,205.01 600.25,207.01 600.50,208.63 600.75,210.02 601.00,211.22 601.25,212.24 601.50,213.12 601.75,213.88 602.00,214.49 602.25,214.91 602.50,215.46 602.75,215.81 603.00,216.20 603.25,216.49 603.50,216.84 603.75,217.03 604.00,217.22 604.25,217.41 604.50,217.57 604.75,217.87 605.00,218.05 605.25,218.15 605.50,218.27 605.75,218.50 606.00,218.59 606.25,218.62 606.50,218.78 606.75,218.88 607.00,219.04 607.25,218.98 607.50,219.04 607.75,219.17 608.00,219.28 608.25,219.38 608.50,219.28 608.75,219.29 609.00,219.28 609.25,219.30 609.50,219.49 609.75,219.53 610.00,219.64 610.25,219.61 610.50,219.70 610.75,219.68 611.00,219.65 611.25,219.74 611.50,219.84 611.75,219.74 612.00,219.78 612.25,219.82 612.50,219.78 612.75,219.78 613.00,219.75 613.25,219.75 613.50,219.77 613.75,219.85 614.00,219.92 614.25,219.87 614.50,219.82 614.75,219.85 615.00,219.94 615.25,219.91 615.50,219.91 615.75,219.90 616.00,220.02 616.25,220.04 616.50,219.96 616.75,219.92 617.00,219.96 617.25,220.02 617.50,220.08 617.75,220.01 618.00,219.98 618.25,220.07 618.50,220.08 618.75,220.05 619.00,220.05 619.25,220.18 619.50,220.13 619.75,220.15 620.00,220.13 620.25,220.13 620.50,220.22 620.75,220.30 621.00,220.22 621.25,220.15 621.50,220.21 621.75,220.14 622.00,220.07 622.25,220.20 622.50,220.19 622.75,220.26 623.00,220.22 623.25,220.30 623.50,220.26 623.75,220.18 624.00,220.10 624.25,220.16 624.50,220.22 624.75,220.31 625.00,220.20 625.25,220.24 625.50,220.21 625.75,220.23 626.00,220.16 626.25,220.15 626.50,220.20 626.75,220.30 627.00,220.21 627.25,220.23 627.50,220.30 627.75,220.38 628.00,220.27 628.25,220.19 628.50,220.31 628.75,220.39 629.00,220.34 629.25,220.22 629.50,220.33 629.75,220.28 630.00,220.36 630.25,220.35 630.50,220.39 630.75,220.27 631.00,220.33 631.25,220.26 631.50,220.25 631.75,220.33 632.00,220.38 632.25,220.28 632.50,220.22 632.75,220.23 633.00,220.26 633.25,220.24 633.50,220.19 633.75,220.18 634.00,220.27 634.25,220.36 634.50,220.24 634.75,220.27 635.00,220.33 635.25,220.22 635.50,220.32 635.75,220.23 636.00,220.28 636.25,220.29 636.50,220.32 636.75,220.27 637.00,220.26 637.25,220.29 637.50,220.28 637.75,220.32 638.00,220.30 638.25,220.28 638.50,220.19 638.75,220.26 639.00,220.27 639.25,220.23 639.50,220.31 639.75,220.36 640.00,220.33 640.25,220.25 640.50,220.26 640.75,220.20 641.00,220.16 641.25,220.20 641.50,220.16 641.75,220.20 642.00,220.25 642.25,220.18 642.50,220.25 642.75,220.19 643.00,220.28 643.25,220.34 643.50,220.33 643.75,220.23 644.00,220.26 644.25,220.25 644.50,220.36 644.75,220.27 645.00,220.35 645.25,220.43 645.50,220.43 645.75,220.44 646.00,220.32 646.25,220.41 646.50,220.37 646.75,220.43 647.00,220.46 647.25,220.33 647.50,220.38 647.75,220.44 648.00,220.30 648.25,220.27 648.50,220.33 648.75,220.25 649.00,220.35 649.25,220.29 649.50,220.36 649.75,220.27 650.00,220.28 650.25,220.37 650.50,220.29 650.75,220.25 651.00,220.27 651.25,220.25 651.50,220.18 651.75,220.16 652.00,220.15 652.25,220.30 652.50,220.34 652.75,220.40 653.00,220.30 653.25,220.36 653.50,220.26 653.75,220.28 654.00,220.32 654.25,220.28 654.50,220.37 654.75,220.35 655.00,220.35 655.25,220.41 655.50,220.29 655.75,220.39 656.00,220.38 656.25,220.33 656.50,220.38 656.75,220.30 657.00,220.40 657.25,220.37 657.50,220.32 657.75,220.36 658.00,220.33 658.25,220.25 658.50,220.32 658.75,220.22 659.00,220.32 659.25,220.26 659.50,220.30 659.75,220.40 660.00,220.38 660.25,220.38 660.50,220.31 660.75,220.20 661.00,220.15 661.25,220.14 661.50,220.22 661.75,220.24 662.00,220.26 662.25,220.36 662.50,220.26 662.75,220.22 663.00,220.28 663.25,220.19 663.50,220.13 663.75,220.17 664.00,220.14 664.25,220.17 664.50,220.17 664.75,220.23 665.00,220.27 665.25,220.22 665.50,220.28 665.75,220.28 666.00,220.21 666.25,220.33 666.50,220.26 666.75,220.20 667.00,220.16 667.25,220.24 667.50,220.33 667.75,220.37 668.00,220.32 668.25,220.26 668.50,220.17 668.75,220.25 669.00,220.28 669.25,220.25 669.50,220.29 669.75,220.28 670.00,220.37 670.25,220.38 670.50,220.29 670.75,220.37 671.00,220.24 671.25,220.27 671.50,220.25 671.75,220.21 672.00,220.15 672.25,220.26 672.50,220.17 672.75,220.23 673.00,220.34 673.25,220.24 673.50,220.20 673.75,220.25 674.00,220.26 674.25,220.30 674.50,220.35 674.75,220.26 675.00,220.23 675.25,220.21 675.50,220.15 675.75,220.28 676.00,220.33 676.25,220.35 676.50,220.22 676.75,220.31 677.00,220.35 677.25,220.31 677.50,220.34 677.75,220.31 678.00,220.24 678.25,220.17 678.50,220.16 678.75,220.11 679.00,220.14 679.25,220.24 679.50,220.29 679.75,220.35 680.00,220.36 680.25,220.28 680.50,220.28 680.75,220.27" fill="none" stroke="#EE2522" stroke-width="1.9" stroke-linejoin="round" stroke-linecap="round" />
<ellipse cx="597.3" cy="161.8" rx="36.6" ry="67" fill="none" stroke="#4A8AF4" stroke-width="1.45" stroke-dasharray="3.7 1.9"/>
<text x="596.8" y="83.3" font-size="15" text-anchor="middle" fill="#4A8AF4" font-weight="normal" >-C&#8801;C-</text>
<rect x="393.6" y="5.4" width="287.8" height="231.1" fill="none" stroke="#333333" stroke-width="1.1"/>
<line x1="398.40" y1="236.5" x2="398.40" y2="238.5" stroke="#333333" stroke-width="1"/>
<line x1="412.20" y1="236.5" x2="412.20" y2="238.5" stroke="#333333" stroke-width="1"/>
<line x1="426.00" y1="236.5" x2="426.00" y2="238.5" stroke="#333333" stroke-width="1"/>
<line x1="439.80" y1="236.5" x2="439.80" y2="238.5" stroke="#333333" stroke-width="1"/>
<line x1="453.60" y1="236.5" x2="453.60" y2="240.5" stroke="#333333" stroke-width="1"/>
<line x1="467.40" y1="236.5" x2="467.40" y2="238.5" stroke="#333333" stroke-width="1"/>
<line x1="481.20" y1="236.5" x2="481.20" y2="238.5" stroke="#333333" stroke-width="1"/>
<line x1="495.00" y1="236.5" x2="495.00" y2="238.5" stroke="#333333" stroke-width="1"/>
<line x1="508.80" y1="236.5" x2="508.80" y2="238.5" stroke="#333333" stroke-width="1"/>
<line x1="522.60" y1="236.5" x2="522.60" y2="238.5" stroke="#333333" stroke-width="1"/>
<line x1="536.40" y1="236.5" x2="536.40" y2="240.5" stroke="#333333" stroke-width="1"/>
<line x1="550.20" y1="236.5" x2="550.20" y2="238.5" stroke="#333333" stroke-width="1"/>
<line x1="564.00" y1="236.5" x2="564.00" y2="238.5" stroke="#333333" stroke-width="1"/>
<line x1="577.80" y1="236.5" x2="577.80" y2="238.5" stroke="#333333" stroke-width="1"/>
<line x1="591.60" y1="236.5" x2="591.60" y2="238.5" stroke="#333333" stroke-width="1"/>
<line x1="605.40" y1="236.5" x2="605.40" y2="238.5" stroke="#333333" stroke-width="1"/>
<line x1="619.20" y1="236.5" x2="619.20" y2="240.5" stroke="#333333" stroke-width="1"/>
<line x1="633.00" y1="236.5" x2="633.00" y2="238.5" stroke="#333333" stroke-width="1"/>
<line x1="646.80" y1="236.5" x2="646.80" y2="238.5" stroke="#333333" stroke-width="1"/>
<line x1="660.60" y1="236.5" x2="660.60" y2="238.5" stroke="#333333" stroke-width="1"/>
<line x1="674.40" y1="236.5" x2="674.40" y2="238.5" stroke="#333333" stroke-width="1"/>
<text x="453.6" y="253.6" font-size="12.2" text-anchor="middle" fill="#1a1a1a" font-weight="normal" >800</text>
<text x="536.4" y="253.6" font-size="12.2" text-anchor="middle" fill="#1a1a1a" font-weight="normal" >1600</text>
<text x="619.2" y="253.6" font-size="12.2" text-anchor="middle" fill="#1a1a1a" font-weight="normal" >2400</text>
<text x="479" y="272.8" font-size="14.3" text-anchor="start" fill="#1a1a1a" font-weight="normal" >Raman shift (cm<tspan dy="-5" font-size="10">-1</tspan><tspan dy="5">)</tspan></text>
<text x="383.2" y="121" font-size="14.1" text-anchor="middle" fill="#1a1a1a" font-weight="normal" transform="rotate(-90 383.2 121)">Intensity (a.u.)</text>
<line x1="596.1" y1="21.8" x2="621.5" y2="21.8" stroke="#F18828" stroke-width="2.2"/>
<line x1="596.1" y1="36.0" x2="621.5" y2="36.0" stroke="#EE2522" stroke-width="2.2"/>
<text x="624.7" y="25.8" font-size="10.7" text-anchor="start" fill="#1a1a1a" font-weight="normal" >Orange-1</text>
<text x="624.7" y="40.0" font-size="10.7" text-anchor="start" fill="#1a1a1a" font-weight="normal" >Red-1</text>
<rect x="408.4" y="5.4" width="136" height="109.3" fill="#ffffff" stroke="none"/>
<path d="M408.60,104.50 C410.78,104.23 417.55,103.65 421.70,102.90 C425.85,102.15 430.15,101.27 433.50,100.00 C436.85,98.73 439.30,96.92 441.80,95.30 C444.30,93.68 446.53,92.10 448.50,90.30 C450.47,88.50 451.92,87.28 453.60,84.50 C455.28,81.72 456.93,77.37 458.60,73.60 C460.27,69.83 461.93,65.53 463.60,61.90 C465.27,58.27 466.98,54.40 468.60,51.80 C470.22,49.20 471.82,47.50 473.30,46.30 C474.78,45.10 476.10,44.52 477.50,44.60 C478.90,44.68 480.17,45.32 481.70,46.80 C483.23,48.28 485.02,50.15 486.70,53.50 C488.38,56.85 490.33,62.98 491.80,66.90 C493.27,70.82 494.22,73.90 495.50,77.00 C496.78,80.10 498.08,83.17 499.50,85.50 C500.92,87.83 501.95,89.22 504.00,91.00 C506.05,92.78 509.10,94.87 511.80,96.20 C514.50,97.53 517.40,98.17 520.20,99.00 C523.00,99.83 525.80,100.53 528.60,101.20 C531.40,101.87 534.40,102.45 537.00,103.00 C539.60,103.55 543.00,104.25 544.20,104.50" fill="none" stroke="#F18828" stroke-width="2.0" stroke-linejoin="round" stroke-linecap="round"/>
<path d="M408.60,106.30 C410.23,106.00 415.10,105.07 418.40,104.50 C421.70,103.93 425.33,103.65 428.40,102.90 C431.47,102.15 434.57,100.98 436.80,100.00 C439.03,99.02 440.12,98.47 441.80,97.00 C443.48,95.53 445.50,93.28 446.90,91.20 C448.30,89.12 449.08,87.43 450.20,84.50 C451.32,81.57 452.48,77.93 453.60,73.60 C454.72,69.27 455.80,63.80 456.90,58.50 C458.00,53.20 459.18,46.30 460.20,41.80 C461.22,37.30 462.10,33.73 463.00,31.50 C463.90,29.27 464.80,28.50 465.60,28.40 C466.40,28.30 467.02,29.52 467.80,30.90 C468.58,32.28 469.33,34.88 470.30,36.70 C471.27,38.52 472.48,40.53 473.60,41.80 C474.72,43.07 475.93,43.77 477.00,44.30 C478.07,44.83 479.22,44.73 480.00,45.00 C480.78,45.27 480.85,45.05 481.70,45.90 C482.55,46.75 483.98,48.00 485.10,50.10 C486.22,52.20 487.28,55.43 488.40,58.50 C489.52,61.57 490.68,65.15 491.80,68.50 C492.92,71.85 493.85,75.52 495.10,78.60 C496.35,81.68 497.90,84.77 499.30,87.00 C500.70,89.23 501.42,90.33 503.50,92.00 C505.58,93.67 509.02,95.62 511.80,97.00 C514.58,98.38 517.40,99.27 520.20,100.30 C523.00,101.33 525.80,102.35 528.60,103.20 C531.40,104.05 534.40,104.82 537.00,105.40 C539.60,105.98 543.00,106.48 544.20,106.70" fill="none" stroke="#EE2522" stroke-width="2.0" stroke-linejoin="round" stroke-linecap="round"/>
<rect x="408.4" y="5.4" width="136" height="109.3" fill="none" stroke="#333333" stroke-width="1"/>
<line x1="415.20" y1="114.7" x2="415.20" y2="116.10000000000001" stroke="#333333" stroke-width="1"/>
<line x1="425.41" y1="114.7" x2="425.41" y2="116.10000000000001" stroke="#333333" stroke-width="1"/>
<line x1="435.62" y1="114.7" x2="435.62" y2="116.9" stroke="#333333" stroke-width="1"/>
<line x1="445.83" y1="114.7" x2="445.83" y2="116.10000000000001" stroke="#333333" stroke-width="1"/>
<line x1="456.04" y1="114.7" x2="456.04" y2="116.10000000000001" stroke="#333333" stroke-width="1"/>
<line x1="466.25" y1="114.7" x2="466.25" y2="116.10000000000001" stroke="#333333" stroke-width="1"/>
<line x1="476.46" y1="114.7" x2="476.46" y2="116.9" stroke="#333333" stroke-width="1"/>
<line x1="486.67" y1="114.7" x2="486.67" y2="116.10000000000001" stroke="#333333" stroke-width="1"/>
<line x1="496.88" y1="114.7" x2="496.88" y2="116.10000000000001" stroke="#333333" stroke-width="1"/>
<line x1="507.09" y1="114.7" x2="507.09" y2="116.10000000000001" stroke="#333333" stroke-width="1"/>
<line x1="517.30" y1="114.7" x2="517.30" y2="116.9" stroke="#333333" stroke-width="1"/>
<line x1="527.51" y1="114.7" x2="527.51" y2="116.10000000000001" stroke="#333333" stroke-width="1"/>
<line x1="537.72" y1="114.7" x2="537.72" y2="116.10000000000001" stroke="#333333" stroke-width="1"/>
<text x="435.6" y="123.9" font-size="7.6" text-anchor="middle" fill="#1a1a1a" font-weight="normal" >2160</text>
<text x="476.5" y="123.9" font-size="7.6" text-anchor="middle" fill="#1a1a1a" font-weight="normal" >2190</text>
<text x="517.3" y="123.9" font-size="7.6" text-anchor="middle" fill="#1a1a1a" font-weight="normal" >2220</text>
<text x="439.4" y="134.4" font-size="9" text-anchor="start" fill="#1a1a1a" font-weight="normal" >Raman shift (cm<tspan dy="-3.2" font-size="5.8">-1</tspan><tspan dy="3.2">)</tspan></text>
<text x="404.0" y="59.8" font-size="8.8" text-anchor="middle" fill="#1a1a1a" font-weight="normal" transform="rotate(-90 404 59.8)">Intensity (a.u.)</text>
<line x1="465.6" y1="23.3" x2="465.6" y2="38.4" stroke="#111" stroke-width="0.9" stroke-dasharray="1.2 1.2"/>
<line x1="477.8" y1="40.1" x2="477.8" y2="55.2" stroke="#111" stroke-width="0.9" stroke-dasharray="1.2 1.2"/>
<text x="449.0" y="19.7" font-size="8.8" text-anchor="start" fill="#1a1a1a" font-weight="normal" >2182 cm<tspan dy="-3" font-size="5.7">-1</tspan></text>
<text x="473.7" y="36.7" font-size="8.5" text-anchor="start" fill="#1a1a1a" font-weight="normal" >2190 cm<tspan dy="-3" font-size="5.5">-1</tspan></text>
<text x="0.5" y="301" font-size="18" text-anchor="start" fill="#111" font-weight="bold" >(c)</text>
<polyline points="40.70,504.58 41.15,504.57 41.69,504.66 42.31,504.55 43.00,504.46 43.75,504.39 44.55,504.17 45.40,504.10 46.28,504.07 47.20,504.08 48.13,503.82 49.08,503.69 50.04,503.49 50.99,503.59 51.93,503.62 52.85,503.41 53.74,503.58 54.60,503.71 55.39,503.71 56.19,503.70 56.99,503.55 57.80,503.41 58.60,503.49 59.41,503.40 60.23,503.40 61.04,503.44 61.86,503.40 62.67,503.55 63.49,503.67 64.31,503.91 65.12,504.00 65.94,504.12 66.76,504.17 67.57,504.28 68.39,504.29 69.20,504.25 70.01,504.48 70.82,504.66 71.63,504.75 72.44,504.78 73.26,504.68 74.07,504.59 74.88,504.55 75.69,504.45 76.50,504.63 77.31,504.65 78.12,504.82 78.93,504.80 79.74,504.99 80.56,505.09 81.37,504.88 82.18,504.79 82.99,504.97 83.80,504.94 84.62,505.10 85.44,505.00 86.27,504.81 87.10,504.85 87.94,504.92 88.78,504.78 89.62,504.61 90.45,504.55 91.29,504.71 92.12,504.76 92.94,504.55 93.76,504.44 94.56,504.29 95.36,504.16 96.14,504.32 96.91,504.22 97.66,504.27 98.40,504.27 99.29,504.19 100.10,504.31 100.84,504.20 101.54,504.30 102.21,504.19 102.88,504.22 103.55,504.18 104.25,504.17 104.99,504.41 105.80,504.54 106.68,504.46 107.67,504.61 108.77,504.49 110.00,504.46 110.60,504.60 111.23,504.63 111.87,504.46 112.54,504.65 113.23,504.52 113.93,504.44 114.66,504.56 115.40,504.49 116.15,504.43 116.92,504.31 117.71,504.23 118.51,504.34 119.32,504.30 120.15,504.40 120.98,504.40 121.82,504.43 122.68,504.62 123.54,504.61 124.40,504.62 125.27,504.74 126.15,504.59 127.03,504.47 127.92,504.64 128.81,504.74 129.69,504.62 130.58,504.50 131.47,504.61 132.36,504.76 133.24,504.62 134.12,504.77 135.00,504.86 135.76,504.84 136.52,504.75 137.29,504.58 138.06,504.43 138.84,504.64 139.62,504.54 140.41,504.63 141.21,504.55 142.00,504.68 142.81,504.70 143.61,504.62 144.42,504.51 145.23,504.62 146.05,504.48 146.87,504.43 147.69,504.50 148.51,504.66 149.34,504.70 150.16,504.61 150.99,504.77 151.82,504.64 152.65,504.47 153.48,504.44 154.31,504.47 155.14,504.37 155.97,504.32 156.80,504.36 157.63,504.45 158.46,504.37 159.28,504.39 160.11,504.58 160.93,504.76 161.75,504.78 162.57,504.80 163.39,504.77 164.20,504.60 165.01,504.43 165.82,504.29 166.63,504.49 167.44,504.57 168.26,504.72 169.07,504.49 169.88,504.54 170.69,504.51 171.50,504.58 172.31,504.48 173.12,504.64 173.93,504.43 174.74,504.44 175.56,504.50 176.37,504.60 177.18,504.62 177.99,504.61 178.80,504.63 179.61,504.69 180.42,504.52 181.23,504.51 182.04,504.58 182.86,504.61 183.67,504.46 184.48,504.48 185.29,504.51 186.10,504.43 186.91,504.38 187.72,504.25 188.53,504.21 189.34,504.19 190.16,503.98 190.97,504.01 191.78,504.15 192.59,504.20 193.40,504.18 194.22,504.04 195.06,504.05 195.91,503.99 196.77,503.88 197.65,503.93 198.54,503.69 199.43,503.73 200.34,503.50 201.25,503.51 202.16,503.47 203.08,503.33 204.00,503.38 204.92,503.34 205.84,503.33 206.75,503.42 207.66,503.25 208.57,503.02 209.46,502.93 210.35,502.99 211.23,502.85 212.09,502.73 212.94,502.88 213.78,502.90 214.60,502.82 215.40,502.91 216.18,502.77 216.95,502.78 217.68,502.61 218.40,502.56 219.09,502.64 219.75,502.73 220.38,502.79 220.99,502.64 221.56,502.60 222.10,502.48 222.60,502.31 224.69,502.25 226.09,502.34 226.94,502.43 227.44,502.48 227.73,502.62 228.00,502.50 228.40,502.40 230.00,503.08 230.57,503.13 231.22,503.18 231.96,503.33 232.78,503.55 233.69,503.72 234.70,503.83 235.80,504.14 236.49,504.41 237.22,504.46 237.99,504.42 238.80,504.41 239.63,504.73 240.49,504.72 241.38,504.97 242.29,505.14 243.22,505.19 244.17,505.41 245.13,505.31 246.10,505.27 246.85,505.33 247.63,505.23 248.44,505.42 249.28,505.35 250.13,505.25 251.00,505.13 251.87,505.23 252.74,505.23 253.62,505.28 254.48,505.31 255.33,505.37 256.16,505.45 256.97,505.40 257.75,505.18 258.49,505.10 259.20,504.92 260.14,504.68 260.98,504.63 261.75,504.64 262.47,504.42 263.16,504.25 263.85,504.12 264.55,504.12 265.30,504.03 266.11,503.97 267.00,503.97 268.00,503.83 268.68,503.89 269.42,503.97 270.22,503.74 271.05,503.87 271.92,503.89 272.82,503.69 273.73,503.66 274.66,503.70 275.58,503.83 276.50,503.74 277.40,503.73 278.28,503.84 279.13,503.88 279.94,503.96 280.70,503.84 281.40,503.81 282.04,503.61 282.60,503.63 284.12,503.57 285.06,503.41 285.67,503.23 286.20,502.78 286.90,502.50 287.78,501.98 288.69,501.23 289.59,500.26 290.46,499.52 291.30,498.89 292.26,498.81 293.16,499.00 294.05,499.19 295.00,499.41 295.83,499.85 296.71,500.52 297.59,501.29 298.47,501.81 299.30,501.89 300.29,501.88 301.24,501.23 302.15,500.72 303.00,499.99 304.03,498.96 304.96,498.05 305.90,497.57 306.59,498.07 307.26,499.25 307.97,500.60 308.80,501.69 309.54,502.19 310.31,502.63 311.16,502.81 312.11,503.14 313.20,503.18 313.87,503.23 314.59,503.43 315.34,503.55 316.12,503.84 316.95,504.07 317.80,504.22 318.67,504.47 319.58,504.56 320.50,504.54 321.27,504.52 322.05,504.64 322.85,504.74 323.66,504.54 324.49,504.60 325.34,504.66 326.22,504.53 327.12,504.43 328.05,504.22 329.01,504.18 330.00,504.13 330.75,504.15 331.53,503.96 332.34,504.14 333.16,504.12 334.00,504.07 334.85,504.17 335.71,504.16 336.59,504.13 337.47,504.17 338.35,503.99 339.23,504.01 340.11,503.98 340.98,504.15 341.85,504.25 342.70,504.10 343.55,504.05 344.41,503.88 345.28,503.85 346.14,503.96 347.01,504.06 347.89,503.98 348.75,503.86 349.62,503.72 350.48,503.75 351.33,503.88 352.17,503.68 353.00,503.76 353.82,503.54 354.62,503.44 355.40,503.36 356.29,503.46 357.18,503.42 358.06,503.40 358.93,503.48 359.79,503.36 360.63,503.49 361.45,503.36 362.26,503.40 363.04,503.31 363.80,503.21 364.53,503.22 365.23,503.16 365.90,503.04 366.91,502.85 367.84,502.68 368.70,502.33 369.49,501.99 370.24,501.75 370.95,501.42 371.63,500.95 372.30,500.50 372.87,499.97 373.40,499.54 373.90,498.85 374.37,498.31 374.82,497.69 375.26,496.95 375.68,495.81 376.09,494.50 376.50,493.19 376.64,492.47 376.78,492.02 376.92,491.44 377.06,490.53 377.19,489.68 377.33,489.00 377.46,488.10 377.59,487.14 377.72,486.45 377.85,485.56 377.98,484.79 378.11,483.74 378.23,482.82 378.35,482.00 378.48,480.92 378.59,479.95 378.71,479.16 378.83,478.44 378.94,477.70 379.06,476.64 379.17,475.79 379.28,475.04 379.39,474.21 379.49,473.48 379.60,472.59 379.70,471.74 379.84,470.65 379.98,469.56 380.11,468.70 380.24,467.80 380.36,466.92 380.48,465.90 380.60,464.93 380.71,464.01 380.82,463.34 380.93,462.70 381.03,462.01 381.14,461.04 381.25,460.13 381.35,459.61 381.46,458.91 381.57,458.36 381.68,457.67 381.80,457.11 382.22,455.46 382.64,454.24 383.06,453.49 383.48,452.88 383.90,452.86 384.32,453.31 384.74,453.98 385.16,455.04 385.58,456.24 386.00,457.10 386.70,458.18 387.39,459.16 388.10,460.16 389.20,461.40 390.30,462.33 391.36,460.94 392.40,460.41 392.59,460.92 392.77,461.45 392.94,462.03 393.12,462.80 393.29,463.63 393.47,464.71 393.66,465.75 393.85,466.64 394.05,467.83 394.27,468.96 394.50,470.10 394.65,470.83 394.80,471.44 394.96,472.28 395.13,473.12 395.29,473.91 395.46,474.75 395.64,475.60 395.81,476.34 395.99,477.23 396.18,477.89 396.36,478.70 396.55,479.57 396.74,480.27 396.93,481.13 397.12,482.07 397.31,482.97 397.51,483.70 397.70,484.67 397.92,485.61 398.16,486.49 398.39,487.55 398.64,488.59 398.89,489.63 399.14,490.62 399.39,491.82 399.64,492.82 399.90,493.80 400.14,494.72 400.39,495.64 400.63,496.11 400.86,496.75 401.08,497.30 401.30,497.53 401.50,497.70 401.78,497.62 402.04,497.42 402.29,497.09 402.52,496.48 402.75,495.76 402.96,495.11 403.18,494.13 403.38,492.98 403.59,491.86 403.79,490.44 404.00,489.07 404.07,488.49 404.15,487.96 404.22,487.14 404.29,486.54 404.36,485.98 404.43,485.14 404.50,484.63 404.57,483.81 404.64,483.11 404.71,482.28 404.77,481.59 404.84,480.90 404.91,479.99 404.98,479.41 405.04,478.58 405.11,477.77 405.17,476.97 405.24,476.07 405.31,475.13 405.37,474.32 405.44,473.44 405.50,472.44 405.57,471.59 405.63,470.55 405.70,469.42 405.77,468.39 405.83,467.28 405.90,466.22 405.97,465.35 406.03,464.30 406.10,463.40 406.14,462.83 406.18,461.97 406.22,461.47 406.26,460.89 406.30,459.95 406.35,459.34 406.39,458.52 406.43,457.71 406.47,457.08 406.51,456.14 406.56,455.32 406.60,454.64 406.64,453.84 406.68,452.93 406.73,452.21 406.77,451.39 406.81,450.48 406.85,449.41 406.90,448.56 406.94,447.64 406.98,446.64 407.02,445.60 407.07,444.77 407.11,443.78 407.15,442.93 407.19,442.14 407.24,441.25 407.28,440.30 407.32,439.47 407.36,438.57 407.40,437.80 407.44,436.92 407.48,436.21 407.52,435.44 407.57,434.58 407.61,433.54 407.65,432.52 407.68,431.82 407.72,431.05 407.76,430.22 407.80,429.30 407.84,428.39 407.88,427.67 407.92,426.89 407.95,426.14 407.99,425.41 408.03,424.73 408.06,423.85 408.10,423.05 408.13,422.55 408.17,421.99 408.20,421.40 408.26,420.07 408.31,418.79 408.36,417.62 408.41,416.51 408.47,415.46 408.52,414.21 408.56,413.15 408.61,411.92 408.66,410.73 408.70,409.78 408.75,408.77 408.79,407.79 408.84,406.72 408.88,405.73 408.92,404.67 408.96,403.71 409.01,402.93 409.05,402.19 409.09,401.20 409.13,400.31 409.17,399.74 409.21,399.12 409.26,398.60 409.30,397.92 409.34,397.40 409.38,396.90 409.42,396.68 409.47,396.35 409.51,396.20 409.56,396.24 409.60,396.08 409.65,396.13 409.69,396.35 409.74,396.71 409.78,396.97 409.83,397.31 409.88,397.66 409.93,398.40 409.98,398.89 410.02,399.49 410.07,400.35 410.12,401.21 410.17,402.19 410.22,403.05 410.27,404.13 410.31,404.97 410.36,405.92 410.41,407.07 410.46,408.01 410.50,409.06 410.55,410.28 410.59,411.44 410.64,412.44 410.68,413.39 410.72,414.43 410.77,415.58 410.81,416.54 410.85,417.39 410.89,418.44 410.93,419.36 410.96,420.34 411.00,421.24 411.04,422.19 411.08,422.91 411.11,423.75 411.15,424.37 411.18,424.99 411.21,425.65 411.23,426.48 411.26,427.25 411.29,427.76 411.31,428.34 411.33,428.94 411.36,429.56 411.38,430.22 411.40,430.89 411.43,431.52 411.45,432.32 411.48,433.22 411.51,434.04 411.54,434.99 411.57,435.86 411.60,436.66 411.63,437.75 411.67,438.92 411.71,439.91 411.75,440.92 411.80,442.22 411.82,442.85 411.84,443.51 411.87,444.32 411.89,445.00 411.91,445.75 411.93,446.25 411.95,446.99 411.98,447.83 412.00,448.42 412.02,449.07 412.04,450.00 412.07,450.97 412.09,451.63 412.11,452.54 412.14,453.27 412.16,454.26 412.19,455.19 412.21,455.97 412.24,456.79 412.26,457.82 412.29,458.74 412.31,459.75 412.34,460.61 412.36,461.47 412.39,462.57 412.42,463.52 412.44,464.41 412.47,465.33 412.50,466.31 412.53,467.28 412.56,468.30 412.59,469.12 412.62,470.11 412.64,471.02 412.67,471.99 412.71,472.93 412.74,473.85 412.77,474.78 412.80,475.71 412.83,476.51 412.86,477.27 412.90,478.11 412.93,478.97 412.97,479.67 413.00,480.38 413.04,481.00 413.07,481.86 413.11,482.76 413.14,483.39 413.18,483.95 413.22,484.53 413.26,485.20 413.30,485.80 413.34,486.62 413.38,487.05 413.42,487.59 413.46,488.03 413.50,488.66 413.68,490.72 413.85,492.25 414.03,493.52 414.21,494.74 414.41,495.79 414.60,496.77 414.81,497.25 415.03,497.70 415.27,498.11 415.52,498.49 415.78,498.85 416.07,499.38 416.37,499.85 416.70,500.23 417.45,500.99 418.32,501.52 419.27,501.80 420.25,502.14 421.23,502.20 422.16,502.31 423.00,502.53 424.06,502.60 425.03,502.49 425.95,502.51 426.84,502.44 427.70,502.10 428.74,501.76 429.72,501.50 430.67,500.90 431.60,500.03 432.21,499.15 432.80,498.41 433.39,497.50 433.96,496.48 434.53,495.71 435.10,495.25 435.97,495.22 436.85,496.01 437.68,496.78 438.40,497.13 439.38,496.59 440.30,496.68 440.69,497.26 441.09,498.27 441.51,499.38 441.98,500.45 442.54,501.25 443.20,501.84 443.88,502.22 444.64,502.47 445.48,502.86 446.36,503.02 447.25,503.17 448.14,503.41 449.00,503.37 449.86,503.47 450.74,503.44 451.63,503.65 452.51,503.52 453.36,503.65 454.17,503.65 454.90,503.51 455.81,502.77 456.61,501.94 457.35,501.15 458.03,500.01 458.70,499.00 459.16,498.16 459.59,497.32 460.01,496.24 460.40,495.27 460.80,494.19 461.19,493.52 461.60,492.99 462.57,493.12 463.53,493.88 464.50,495.33 464.90,495.87 465.27,496.71 465.64,497.64 466.02,498.47 466.43,499.53 466.88,500.29 467.40,500.90 467.98,501.39 468.49,501.86 469.06,502.29 469.81,502.72 470.85,502.96 472.30,503.29 472.87,503.23 473.51,503.30 474.21,503.38 474.97,503.64 475.77,503.79 476.61,503.85 477.48,503.68 478.38,503.68 479.29,503.81 480.21,503.74 481.14,503.81 482.06,503.82 482.97,503.68 483.86,503.91 484.73,504.02 485.57,503.89 486.36,503.94 487.11,503.86 487.80,503.82 488.83,503.83 489.83,503.74 490.78,503.66 491.70,503.60 492.57,503.62 493.41,503.47 494.20,503.31 494.95,503.34 495.65,503.20 496.32,503.28 496.93,503.18 497.50,503.14 498.82,502.62 499.66,502.19 500.27,501.56 500.90,501.25 501.36,501.43 501.71,502.20 503.30,502.98 503.85,502.99 504.49,503.11 505.22,503.40 506.02,503.57 506.88,503.56 507.78,503.64 508.72,503.71 509.69,503.79 510.66,503.97 511.64,504.02 512.60,504.38 513.54,504.50 514.44,504.63 515.29,504.78 516.08,504.94 516.80,505.08 517.83,505.00 518.76,504.87 519.61,504.73 520.40,504.43 521.15,504.29 521.88,504.25 522.61,504.30 523.36,504.26 524.15,504.20 525.00,504.19 525.81,504.04 526.65,504.10 527.50,504.23 528.36,504.50 529.23,504.58 530.11,504.78 530.99,505.03 531.87,505.34 532.76,505.59 533.63,505.70 534.50,505.58 535.36,505.65 536.23,505.69 537.09,505.54 537.95,505.29 538.82,505.10 539.68,504.77 540.55,504.67 541.41,504.64 542.27,504.43 543.14,504.31 544.00,504.25 544.88,503.99 545.78,504.07 546.70,504.03 547.62,503.85 548.54,503.67 549.45,503.58 550.33,503.61 551.19,503.64 552.01,503.48 552.78,503.50 553.50,503.23 554.52,502.74 555.43,501.98 556.26,501.45 557.02,500.56 557.74,500.01 558.42,499.40 559.10,498.98 560.21,498.61 561.20,498.44 562.11,498.71 563.00,499.07 563.81,499.45 564.54,499.91 565.30,500.29 566.20,500.97 567.03,501.34 567.93,502.02 568.90,502.44 569.92,502.92 571.00,503.36 571.86,503.35 572.80,503.46 573.80,503.35 574.79,503.21 575.74,503.11 576.59,503.27 577.30,503.31 578.42,502.66 579.10,501.64 579.70,501.19 581.30,502.85 582.10,502.71 583.08,502.48 584.14,502.20 585.20,501.56 586.08,500.99 587.01,500.39 587.94,499.67 588.82,499.20 589.60,499.08 590.52,499.47 591.25,500.53 592.30,501.41 592.91,501.76 593.57,501.99 594.29,502.32 595.07,502.40 595.93,502.73 596.87,502.82 597.90,503.21 598.63,503.35 599.43,503.43 600.28,503.50 601.18,503.64 602.10,503.78 603.04,503.93 603.97,504.05 604.89,504.05 605.78,504.23 606.62,504.31 607.40,504.37 608.26,504.24 608.87,504.10 609.35,504.00 609.84,504.01 610.45,503.86 611.31,503.73 612.56,503.61 614.30,503.71 614.82,503.60 615.37,503.42 615.95,503.53 616.55,503.67 617.17,503.73 617.82,503.73 618.49,503.78 619.19,503.67 619.90,503.70 620.63,503.54 621.38,503.44 622.15,503.49 622.94,503.55 623.74,503.56 624.56,503.46 625.39,503.61 626.24,503.67 627.10,503.63 627.97,503.62 628.86,503.65 629.75,503.63 630.65,503.56 631.56,503.81 632.48,504.02 633.41,504.08 634.34,504.20 635.27,504.14 636.21,504.23 637.16,504.10 638.10,504.19 639.05,504.20 640.00,504.33 640.72,504.15 641.46,504.26 642.22,504.10 643.01,504.14 643.82,504.31 644.64,504.11 645.48,504.05 646.34,504.03 647.21,504.02 648.09,503.93 648.98,504.15 649.88,504.30 650.80,504.26 651.71,504.22 652.64,504.28 653.57,504.13 654.50,504.02 655.43,504.24 656.36,504.21 657.29,504.25 658.22,504.44 659.14,504.60 660.06,504.54 660.97,504.41 661.87,504.35 662.76,504.52 663.64,504.65 664.51,504.50 665.36,504.62 666.20,504.54 667.02,504.53 667.82,504.42 668.60,504.59 669.36,504.76 670.10,504.62 670.81,504.66 671.50,504.55 672.16,504.71 672.79,504.54 673.39,504.44 673.96,504.59 674.50,504.56 675.00,504.75 677.25,505.00 678.84,505.19 679.91,505.18 680.59,505.42 680.99,505.73 681.24,505.81 681.47,505.76 681.80,505.77" fill="none" stroke="#EE2522" stroke-width="2.0" stroke-linejoin="round" stroke-linecap="round" />
<polyline points="40.70,484.89 41.14,484.92 41.65,484.94 42.22,484.76 42.84,484.56 43.53,484.52 44.26,484.45 45.03,484.56 45.86,484.59 46.72,484.57 47.61,484.53 48.54,484.52 49.50,484.33 50.48,484.27 51.49,484.13 52.51,484.28 53.55,484.09 54.60,484.21 55.28,484.04 55.99,484.13 56.72,484.08 57.48,484.06 58.27,484.19 59.07,484.00 59.89,483.88 60.73,484.08 61.58,484.09 62.44,483.95 63.31,484.16 64.19,484.30 65.07,484.12 65.95,484.09 66.83,483.97 67.71,483.94 68.58,484.03 69.44,483.94 70.30,484.06 71.14,483.92 71.97,483.87 72.78,484.05 73.57,484.05 74.34,484.06 75.09,484.13 75.81,484.14 76.50,484.13 77.50,484.00 78.46,484.17 79.39,484.39 80.29,484.58 81.17,484.62 82.01,484.56 82.84,484.53 83.65,484.64 84.44,484.73 85.21,484.61 85.97,484.58 86.72,484.61 87.46,484.69 88.19,484.86 88.92,484.88 89.65,484.73 90.37,484.90 91.10,484.88 92.04,484.88 92.97,484.75 93.89,484.69 94.81,484.61 95.71,484.66 96.59,484.43 97.46,484.40 98.30,484.22 99.12,484.26 99.92,484.05 100.69,483.98 101.43,483.95 102.13,484.05 102.80,483.95 103.88,484.13 104.86,484.30 105.74,484.57 106.55,484.94 107.30,485.46 107.99,485.72 108.66,486.07 109.30,486.00 109.99,485.98 110.18,485.45 110.85,484.81 113.00,484.54 113.50,484.64 114.03,484.40 114.60,484.30 115.21,484.40 115.85,484.32 116.52,484.22 117.22,484.06 117.95,483.95 118.71,484.07 119.49,484.29 120.30,484.45 121.13,484.40 121.98,484.19 122.84,484.14 123.72,484.26 124.62,484.37 125.53,484.38 126.46,484.25 127.39,484.25 128.33,484.23 129.28,484.27 130.23,484.17 131.18,484.34 132.14,484.44 133.10,484.26 134.05,484.17 135.00,484.31 135.72,484.20 136.44,484.35 137.18,484.31 137.93,484.35 138.68,484.38 139.45,484.23 140.22,484.14 141.00,484.06 141.79,484.16 142.59,484.23 143.39,484.09 144.20,484.24 145.01,484.20 145.83,484.10 146.66,484.10 147.48,484.29 148.32,484.28 149.15,484.30 149.99,484.42 150.83,484.52 151.67,484.53 152.51,484.42 153.36,484.39 154.20,484.48 155.04,484.51 155.89,484.46 156.73,484.34 157.57,484.26 158.41,484.33 159.25,484.32 160.08,484.12 160.92,484.21 161.74,484.35 162.57,484.42 163.39,484.50 164.20,484.57 165.01,484.49 165.83,484.52 166.66,484.40 167.48,484.21 168.32,484.16 169.15,484.11 169.99,484.29 170.83,484.34 171.67,484.32 172.51,484.34 173.36,484.18 174.20,484.21 175.05,484.29 175.89,484.24 176.74,484.15 177.58,484.14 178.42,484.11 179.26,484.21 180.09,484.09 180.92,483.99 181.75,483.99 182.57,484.13 183.39,484.25 184.21,484.31 185.02,484.44 185.82,484.35 186.61,484.16 187.40,484.17 188.18,484.17 188.96,484.07 189.72,484.17 190.48,484.12 191.22,484.05 191.96,484.03 192.68,484.22 193.40,484.04 194.34,484.02 195.28,483.97 196.21,483.90 197.13,483.92 198.04,483.86 198.94,484.06 199.83,484.05 200.72,484.11 201.59,483.96 202.46,483.95 203.31,483.98 204.16,484.09 204.99,483.95 205.81,483.91 206.62,484.01 207.42,484.07 208.20,483.90 208.97,483.87 209.73,483.92 210.48,483.82 211.21,483.83 211.93,483.83 212.63,483.92 213.32,483.84 214.00,483.81 214.66,483.66 215.30,483.67 216.42,483.48 217.51,483.37 218.55,483.21 219.55,483.03 220.51,482.80 221.43,482.62 222.30,482.57 223.14,482.40 223.92,482.17 224.67,482.24 225.37,482.10 226.02,482.20 226.63,482.15 227.19,482.04 227.70,482.13 229.26,482.35 230.00,482.72 230.64,482.72 231.40,482.98 232.24,483.32 233.12,483.55 234.03,483.85 234.94,484.00 235.80,484.23 236.60,484.34 237.35,484.55 238.10,484.76 238.87,484.97 239.70,485.16 240.63,485.45 241.70,485.41 242.41,485.34 243.18,485.27 244.02,485.44 244.89,485.38 245.79,485.14 246.71,485.20 247.64,485.23 248.56,485.22 249.45,485.04 250.32,485.03 251.14,484.87 251.90,484.72 252.84,484.89 253.72,485.07 254.55,485.03 255.34,485.28 256.11,485.20 256.87,485.26 257.63,485.21 258.40,485.20 259.20,485.15 259.99,485.25 260.74,485.11 261.47,484.90 262.20,484.67 262.95,484.49 263.74,484.50 264.58,484.37 265.50,484.07 266.50,484.04 267.21,484.00 267.97,483.92 268.77,483.88 269.61,483.89 270.48,483.94 271.36,483.86 272.26,483.84 273.16,483.75 274.06,483.74 274.95,483.63 275.81,483.55 276.65,483.51 277.45,483.53 278.20,483.38 279.22,483.47 280.22,483.39 281.21,483.45 282.17,483.44 283.09,483.50 283.97,483.43 284.80,483.25 285.57,483.06 286.27,482.92 286.90,482.78 288.05,482.18 288.74,481.11 289.27,479.94 289.90,478.78 290.55,477.71 291.23,476.47 291.90,475.25 292.54,474.36 293.10,473.84 293.82,474.29 294.39,475.47 295.00,476.84 295.51,477.89 296.04,479.00 296.59,480.00 297.20,480.18 298.11,479.47 299.11,478.38 300.10,477.58 301.07,477.93 302.03,478.99 303.00,479.32 303.74,478.67 304.49,477.42 305.22,476.21 305.90,475.56 306.67,476.38 307.37,478.04 308.10,479.21 308.91,479.14 309.75,478.67 310.60,478.41 311.45,479.01 312.31,480.28 313.20,481.39 313.74,482.50 314.31,483.37 316.10,483.99 316.63,484.07 317.24,484.20 317.91,484.32 318.64,484.37 319.42,484.24 320.24,484.13 321.10,484.20 321.99,484.28 322.89,484.14 323.81,483.91 324.74,483.88 325.66,483.81 326.58,483.69 327.48,483.55 328.35,483.50 329.20,483.55 330.00,483.44 330.88,483.52 331.75,483.75 332.62,483.88 333.47,483.84 334.32,483.89 335.17,483.84 336.01,484.06 336.84,484.21 337.68,484.18 338.51,484.31 339.34,484.44 340.18,484.53 341.02,484.53 341.86,484.50 342.70,484.48 343.55,484.67 344.41,484.56 345.28,484.52 346.14,484.44 347.01,484.26 347.89,484.18 348.75,484.02 349.62,483.92 350.48,483.83 351.33,483.73 352.17,483.84 353.00,483.68 353.82,483.55 354.62,483.55 355.40,483.44 356.29,483.39 357.18,483.38 358.06,483.16 358.93,483.20 359.79,483.01 360.63,482.91 361.45,483.01 362.26,483.13 363.04,483.08 363.80,482.84 364.53,482.72 365.23,482.54 365.90,482.55 366.92,482.21 367.86,481.87 368.74,481.68 369.56,481.44 370.31,481.14 371.02,480.76 371.68,480.51 372.30,480.02 373.16,479.43 373.86,478.61 374.45,477.72 374.98,476.56 375.50,475.19 375.68,474.63 375.86,473.82 376.02,473.08 376.18,472.36 376.33,471.50 376.48,470.68 376.62,469.80 376.76,468.94 376.90,467.93 377.03,466.93 377.17,465.85 377.31,465.13 377.45,464.35 377.60,463.44 377.75,462.74 377.90,461.95 378.05,460.85 378.20,460.02 378.35,459.02 378.50,458.00 378.65,457.00 378.80,456.10 378.95,455.10 379.10,454.18 379.25,453.35 379.40,452.67 379.55,451.99 379.70,451.38 380.38,450.28 381.06,449.90 381.80,448.45 381.95,447.94 382.11,447.39 382.28,446.41 382.44,445.40 382.62,444.56 382.79,443.66 382.97,442.70 383.14,441.58 383.32,440.43 383.50,439.29 383.67,438.51 383.85,437.73 384.02,436.96 384.18,436.43 384.34,435.84 384.50,435.57 384.76,435.77 385.01,436.26 385.24,437.41 385.47,438.66 385.70,440.25 385.93,441.71 386.17,442.81 386.43,443.39 386.70,443.21 386.85,442.93 387.01,442.38 387.18,441.66 387.35,440.68 387.53,439.90 387.70,438.83 387.88,437.71 388.07,436.64 388.25,435.56 388.43,434.35 388.61,433.21 388.78,432.26 388.96,431.25 389.13,430.58 389.29,429.76 389.45,429.47 389.60,429.30 389.75,429.39 389.90,429.79 390.05,430.06 390.19,430.59 390.33,431.40 390.46,432.28 390.60,433.17 390.73,434.22 390.85,435.28 390.98,436.44 391.10,437.52 391.22,438.50 391.34,439.46 391.46,440.33 391.58,441.20 391.70,441.98 391.81,443.03 391.91,443.77 392.01,444.72 392.11,445.50 392.20,446.62 392.29,447.53 392.38,448.32 392.47,449.36 392.56,450.37 392.66,451.36 392.75,452.03 392.85,452.77 392.95,453.58 393.05,454.20 393.16,454.89 393.28,455.55 393.40,456.15 394.20,458.04 395.09,458.71 396.00,459.32 396.53,460.05 397.07,460.61 397.61,461.18 398.15,461.94 398.70,463.30 398.92,463.91 399.14,464.54 399.37,465.42 399.60,466.34 399.83,467.26 400.07,468.29 400.30,469.30 400.52,470.28 400.74,471.37 400.95,472.32 401.15,472.94 401.33,473.69 401.50,474.10 402.90,475.33 403.02,474.75 403.14,474.27 403.25,473.98 403.37,473.49 403.49,472.94 403.61,472.11 403.73,471.19 403.85,470.49 403.98,469.31 404.11,468.07 404.25,466.80 404.40,465.49 404.45,465.00 404.51,464.59 404.56,464.03 404.62,463.33 404.68,462.80 404.74,462.01 404.80,461.14 404.86,460.63 404.92,460.02 404.98,459.30 405.05,458.49 405.11,457.59 405.17,456.72 405.24,455.80 405.30,454.92 405.37,454.17 405.43,453.54 405.50,452.87 405.56,451.99 405.63,451.17 405.69,450.25 405.76,449.44 405.82,448.58 405.89,447.80 405.95,446.93 406.01,445.99 406.08,445.01 406.14,443.90 406.20,442.93 406.26,441.95 406.32,440.87 406.38,439.84 406.44,438.90 406.50,437.86 406.54,437.26 406.58,436.51 406.62,435.99 406.66,435.30 406.71,434.52 406.75,433.70 406.79,432.87 406.83,431.97 406.87,431.35 406.91,430.66 406.95,429.84 406.99,429.01 407.03,427.99 407.07,427.15 407.11,426.18 407.15,425.28 407.19,424.48 407.22,423.51 407.26,422.59 407.30,421.85 407.34,421.00 407.38,420.27 407.42,419.26 407.46,418.25 407.49,417.58 407.53,416.74 407.57,415.93 407.61,415.05 407.65,414.04 407.68,413.36 407.72,412.48 407.76,411.75 407.80,410.73 407.83,409.81 407.87,409.01 407.91,408.11 407.94,407.45 407.98,406.56 408.01,405.64 408.05,404.79 408.09,404.01 408.12,403.49 408.16,402.89 408.19,402.21 408.23,401.44 408.26,400.57 408.30,400.04 408.35,398.83 408.41,397.66 408.46,396.57 408.51,395.60 408.57,394.33 408.62,393.04 408.67,392.07 408.72,390.73 408.77,389.70 408.82,388.43 408.87,387.27 408.92,386.09 408.97,385.04 409.01,384.18 409.06,383.27 409.11,382.26 409.16,381.15 409.21,380.16 409.26,379.29 409.30,378.67 409.35,378.12 409.40,377.28 409.45,376.68 409.50,376.39 409.55,375.85 409.60,375.41 409.65,375.17 409.70,375.26 409.75,375.18 409.80,375.39 409.84,375.41 409.87,375.71 409.91,375.89 409.95,376.29 409.98,376.79 410.02,377.36 410.06,377.80 410.10,378.49 410.14,378.99 410.18,379.75 410.21,380.51 410.25,381.32 410.29,381.84 410.33,382.51 410.37,383.39 410.41,384.35 410.45,385.10 410.49,386.08 410.53,386.97 410.57,387.73 410.61,388.58 410.64,389.45 410.68,390.44 410.72,391.70 410.76,392.81 410.80,393.97 410.84,395.12 410.87,396.06 410.91,397.13 410.95,398.17 410.99,399.22 411.02,400.04 411.06,401.18 411.10,402.02 411.13,402.98 411.17,404.02 411.20,405.03 411.24,406.04 411.27,406.81 411.30,407.59 411.34,408.50 411.37,409.13 411.40,410.05 411.44,410.85 411.47,411.69 411.51,412.50 411.54,413.47 411.57,414.22 411.61,414.98 411.64,415.74 411.67,416.55 411.70,417.53 411.74,418.61 411.77,419.29 411.80,420.16 411.83,420.99 411.86,421.80 411.89,422.62 411.92,423.36 411.94,424.23 411.97,425.03 412.00,425.76 412.03,426.53 412.06,427.59 412.09,428.50 412.11,429.48 412.14,430.35 412.17,431.17 412.20,431.80 412.22,432.42 412.25,433.38 412.28,434.19 412.31,434.99 412.33,435.58 412.36,436.43 412.39,437.16 412.42,437.74 412.44,438.39 412.47,439.32 412.50,440.08 412.54,440.83 412.57,441.62 412.60,442.67 412.63,443.53 412.66,444.44 412.69,445.23 412.72,446.04 412.75,446.98 412.78,447.86 412.81,448.65 412.84,449.44 412.87,450.34 412.89,451.10 412.92,451.85 412.95,452.75 412.98,453.48 413.01,454.45 413.04,455.39 413.08,456.25 413.11,457.17 413.15,457.76 413.18,458.48 413.22,459.19 413.26,459.77 413.31,460.66 413.35,461.20 413.40,462.10 413.45,462.83 413.50,463.64 413.59,464.48 413.67,465.63 413.76,466.76 413.85,467.76 413.94,468.67 414.03,469.58 414.13,470.41 414.23,471.36 414.34,472.17 414.45,472.95 414.57,473.66 414.69,474.43 414.82,475.16 414.96,475.98 415.10,476.68 415.26,477.18 415.42,477.82 415.60,478.25 416.16,479.68 416.77,480.79 417.45,481.70 418.20,482.16 419.05,482.57 420.00,482.96 420.74,483.32 421.58,483.42 422.50,483.61 423.45,483.84 424.42,483.83 425.36,483.71 426.24,483.71 427.03,483.62 427.70,483.53 429.11,482.99 430.00,482.40 430.70,481.60 431.42,480.35 432.00,479.37 432.81,480.43 433.90,481.54 434.68,481.39 435.59,480.58 436.53,479.90 437.40,478.73 437.85,478.14 438.30,477.26 438.73,476.07 439.15,475.09 439.55,474.15 439.94,473.38 440.30,473.00 441.01,473.14 441.63,474.32 442.30,475.95 442.58,476.44 442.85,477.36 443.13,478.39 443.41,479.50 443.72,480.45 444.04,481.34 444.40,481.97 444.80,482.47 445.44,483.25 446.09,483.39 446.84,483.67 447.78,483.53 449.00,483.49 449.64,483.57 450.38,483.44 451.21,483.51 452.10,483.68 453.02,483.66 453.96,483.55 454.90,483.39 455.80,483.53 456.66,483.27 457.44,483.17 458.13,482.95 458.70,482.52 459.24,482.00 459.66,481.37 459.97,480.44 460.21,479.47 460.39,478.69 460.53,477.58 460.65,476.60 460.77,475.62 460.91,474.80 461.10,474.06 461.33,473.15 461.56,472.09 461.77,470.96 461.98,469.69 462.18,468.72 462.39,467.81 462.59,467.20 462.79,466.68 463.00,466.38 463.21,466.53 463.41,467.13 463.61,467.81 463.81,468.74 464.01,469.56 464.22,470.57 464.44,471.63 464.66,472.75 464.90,473.64 465.07,474.67 465.21,475.50 465.32,476.27 465.42,477.20 465.53,478.24 465.68,479.29 465.86,480.35 466.11,481.06 466.44,482.04 466.86,482.82 467.40,483.34 467.93,483.73 468.51,483.91 469.13,484.00 469.80,484.02 470.52,484.36 471.29,484.58 472.11,484.58 472.98,484.61 473.90,484.59 474.87,484.65 475.89,484.48 476.97,484.61 478.10,484.52 478.74,484.60 479.41,484.67 480.11,484.80 480.83,484.82 481.58,484.68 482.34,484.79 483.12,484.72 483.93,484.73 484.74,484.82 485.57,484.95 486.41,484.73 487.26,484.69 488.12,484.61 488.98,484.73 489.85,484.66 490.72,484.78 491.59,484.83 492.45,484.74 493.32,484.79 494.17,484.80 495.02,484.61 495.86,484.53 496.69,484.43 497.50,484.59 498.32,484.57 499.15,484.52 499.99,484.64 500.85,484.83 501.72,484.68 502.59,484.77 503.47,484.68 504.35,484.82 505.23,484.92 506.11,485.00 506.98,485.01 507.85,484.86 508.71,485.01 509.55,484.87 510.38,484.93 511.19,485.12 511.99,485.02 512.76,485.03 513.51,485.10 514.23,485.15 514.92,485.08 515.58,485.06 516.21,485.22 516.80,485.27 518.06,485.12 519.13,485.18 520.03,485.26 520.82,485.23 521.51,485.30 522.16,485.12 522.79,485.00 523.45,485.11 524.18,484.99 525.00,484.88 525.81,484.84 526.65,485.10 527.50,485.31 528.36,485.29 529.23,485.50 530.11,485.49 530.99,485.64 531.87,485.56 532.76,485.68 533.63,485.82 534.50,485.81 535.37,485.79 536.26,485.55 537.16,485.43 538.06,485.40 538.95,485.17 539.84,485.08 540.72,484.91 541.58,484.82 542.42,484.69 543.23,484.42 544.00,484.38 545.03,484.33 546.04,484.18 547.01,484.18 547.94,484.07 548.83,484.01 549.66,483.83 550.42,483.65 551.10,483.34 552.00,482.91 552.70,482.17 553.26,481.32 553.77,480.39 554.30,479.46 554.84,478.41 555.34,477.50 555.81,476.49 556.26,475.49 556.70,474.65 557.36,473.12 557.97,471.97 558.60,471.55 559.25,472.34 559.92,473.78 560.70,474.77 561.44,474.18 562.28,472.82 563.11,471.43 563.80,470.92 564.29,471.15 564.66,472.15 565.00,473.40 565.40,474.69 565.60,475.39 565.78,476.12 565.96,477.03 566.14,478.12 566.34,479.31 566.57,480.27 566.83,481.34 567.14,482.01 567.50,482.48 568.14,483.28 568.87,483.64 569.68,483.80 570.56,483.93 571.51,484.07 572.50,484.08 573.22,484.06 574.02,484.23 574.86,484.39 575.73,484.47 576.61,484.38 577.46,484.53 578.28,484.44 579.03,484.36 579.70,484.34 580.94,483.66 581.95,482.93 582.81,482.00 583.60,481.02 584.09,480.08 584.51,479.01 584.89,477.89 585.26,476.93 585.62,476.00 586.00,475.52 587.23,474.90 588.40,474.89 589.38,474.36 590.30,474.89 590.58,475.47 590.85,476.36 591.13,477.45 591.41,478.30 591.70,479.42 591.99,480.48 592.30,481.17 592.78,482.49 593.30,483.37 594.70,484.26 595.29,484.25 596.00,484.17 596.80,484.11 597.67,484.20 598.60,484.31 599.56,484.44 600.54,484.45 601.52,484.25 602.47,484.38 603.38,484.47 604.23,484.53 605.00,484.64 606.07,484.78 607.09,484.91 608.07,485.11 609.00,485.06 609.86,485.39 610.66,485.31 611.37,485.37 612.00,485.41 611.98,484.59 614.30,483.65 614.76,483.65 615.25,483.58 615.77,483.66 616.33,483.49 616.92,483.48 617.54,483.59 618.19,483.60 618.86,483.46 619.56,483.52 620.29,483.73 621.04,483.75 621.81,483.85 622.61,483.81 623.42,483.99 624.26,483.98 625.11,484.08 625.97,484.10 626.85,484.18 627.75,484.11 628.65,484.25 629.57,484.38 630.50,484.46 631.43,484.52 632.37,484.39 633.32,484.29 634.27,484.42 635.23,484.49 636.18,484.47 637.14,484.45 638.10,484.25 639.05,484.30 640.00,484.16 640.72,484.22 641.46,484.16 642.22,484.25 643.01,484.17 643.82,484.17 644.64,484.32 645.48,484.38 646.34,484.27 647.21,484.48 648.09,484.31 648.98,484.32 649.88,484.44 650.80,484.48 651.71,484.54 652.64,484.68 653.57,484.50 654.50,484.52 655.43,484.44 656.36,484.51 657.29,484.52 658.22,484.58 659.14,484.70 660.06,484.68 660.97,484.64 661.87,484.66 662.76,484.55 663.64,484.73 664.51,484.68 665.36,484.69 666.20,484.82 667.02,484.91 667.82,485.05 668.60,485.05 669.36,485.00 670.10,484.92 670.81,485.00 671.50,485.00 672.16,484.79 672.79,484.84 673.39,484.91 673.96,484.86 674.50,485.00 675.00,485.07 677.25,485.28 678.84,485.29 679.91,485.47 680.59,485.62 680.99,485.69 681.24,485.75 681.47,485.74 681.80,485.99" fill="none" stroke="#F18828" stroke-width="2.0" stroke-linejoin="round" stroke-linecap="round" />
<ellipse cx="485.3" cy="480" rx="37" ry="37.2" fill="none" stroke="#4A8AF4" stroke-width="1.45" stroke-dasharray="3.7 1.9"/>
<text x="484.4" y="433.1" font-size="14" text-anchor="middle" fill="#4A8AF4" font-weight="normal" letter-spacing="0.4">-C&#8801;C-</text>
<text x="0" y="0" transform="translate(365.9 341) scale(1.045 1)" font-size="12" text-anchor="start" fill="#1a1a1a" font-weight="normal" >Aromatic hydrocarbon</text>
<path d="M368.1,367.3 Q368.1,362 371.1,362 L407.7,362 Q410.7,362 410.7,352.9 Q410.7,362 413.7,362 L452.1,362 Q455.1,362 455.1,367.3" fill="none" stroke="#808080" stroke-width="1.1"/>
<text x="0" y="0" transform="translate(286.6 441.5) scale(1.07 1)" font-size="12.2" text-anchor="start" fill="#1a1a1a" font-weight="normal" >-COO<tspan dy="-5" font-size="8.5">-</tspan></text>
<path d="M279.5,458.5 Q279.5,455 282.5,455 L296.8,455 Q299.8,455 299.8,448 Q299.8,455 302.8,455 L317.6,455 Q320.6,455 320.6,458.5" fill="none" stroke="#808080" stroke-width="1.1"/>
<text x="0" y="0" transform="translate(563.5 433.9) scale(1.05 1)" font-size="12.2" text-anchor="start" fill="#1a1a1a" font-weight="normal" >-CH<tspan dy="3.6" font-size="8.5">3</tspan></text>
<path d="M549.2,455.7 Q549.2,450.1 552.2,450.1 L573.5,450.1 Q576.5,450.1 576.5,441.9 Q576.5,450.1 579.5,450.1 L602,450.1 Q605,450.1 605,455.7" fill="none" stroke="#808080" stroke-width="1.1"/>
<rect x="40.5" y="293.7" width="642" height="231.8" fill="none" stroke="#333333" stroke-width="1.1"/>
<line x1="40.50" y1="525.5" x2="40.50" y2="529.5" stroke="#333333" stroke-width="1"/>
<line x1="53.10" y1="525.5" x2="53.10" y2="527.5" stroke="#333333" stroke-width="1"/>
<line x1="65.69" y1="525.5" x2="65.69" y2="527.5" stroke="#333333" stroke-width="1"/>
<line x1="78.29" y1="525.5" x2="78.29" y2="527.5" stroke="#333333" stroke-width="1"/>
<line x1="90.88" y1="525.5" x2="90.88" y2="527.5" stroke="#333333" stroke-width="1"/>
<line x1="103.48" y1="525.5" x2="103.48" y2="527.5" stroke="#333333" stroke-width="1"/>
<line x1="116.08" y1="525.5" x2="116.08" y2="529.5" stroke="#333333" stroke-width="1"/>
<line x1="128.67" y1="525.5" x2="128.67" y2="527.5" stroke="#333333" stroke-width="1"/>
<line x1="141.27" y1="525.5" x2="141.27" y2="527.5" stroke="#333333" stroke-width="1"/>
<line x1="153.86" y1="525.5" x2="153.86" y2="527.5" stroke="#333333" stroke-width="1"/>
<line x1="166.46" y1="525.5" x2="166.46" y2="527.5" stroke="#333333" stroke-width="1"/>
<line x1="179.06" y1="525.5" x2="179.06" y2="527.5" stroke="#333333" stroke-width="1"/>
<line x1="191.65" y1="525.5" x2="191.65" y2="529.5" stroke="#333333" stroke-width="1"/>
<line x1="204.25" y1="525.5" x2="204.25" y2="527.5" stroke="#333333" stroke-width="1"/>
<line x1="216.85" y1="525.5" x2="216.85" y2="527.5" stroke="#333333" stroke-width="1"/>
<line x1="229.44" y1="525.5" x2="229.44" y2="527.5" stroke="#333333" stroke-width="1"/>
<line x1="242.04" y1="525.5" x2="242.04" y2="527.5" stroke="#333333" stroke-width="1"/>
<line x1="254.63" y1="525.5" x2="254.63" y2="527.5" stroke="#333333" stroke-width="1"/>
<line x1="267.23" y1="525.5" x2="267.23" y2="529.5" stroke="#333333" stroke-width="1"/>
<line x1="279.83" y1="525.5" x2="279.83" y2="527.5" stroke="#333333" stroke-width="1"/>
<line x1="292.42" y1="525.5" x2="292.42" y2="527.5" stroke="#333333" stroke-width="1"/>
<line x1="305.02" y1="525.5" x2="305.02" y2="527.5" stroke="#333333" stroke-width="1"/>
<line x1="317.61" y1="525.5" x2="317.61" y2="527.5" stroke="#333333" stroke-width="1"/>
<line x1="330.21" y1="525.5" x2="330.21" y2="527.5" stroke="#333333" stroke-width="1"/>
<line x1="342.81" y1="525.5" x2="342.81" y2="529.5" stroke="#333333" stroke-width="1"/>
<line x1="355.40" y1="525.5" x2="355.40" y2="527.5" stroke="#333333" stroke-width="1"/>
<line x1="368.00" y1="525.5" x2="368.00" y2="527.5" stroke="#333333" stroke-width="1"/>
<line x1="380.59" y1="525.5" x2="380.59" y2="527.5" stroke="#333333" stroke-width="1"/>
<line x1="393.19" y1="525.5" x2="393.19" y2="527.5" stroke="#333333" stroke-width="1"/>
<line x1="405.79" y1="525.5" x2="405.79" y2="527.5" stroke="#333333" stroke-width="1"/>
<line x1="418.38" y1="525.5" x2="418.38" y2="529.5" stroke="#333333" stroke-width="1"/>
<line x1="430.98" y1="525.5" x2="430.98" y2="527.5" stroke="#333333" stroke-width="1"/>
<line x1="443.58" y1="525.5" x2="443.58" y2="527.5" stroke="#333333" stroke-width="1"/>
<line x1="456.17" y1="525.5" x2="456.17" y2="527.5" stroke="#333333" stroke-width="1"/>
<line x1="468.77" y1="525.5" x2="468.77" y2="527.5" stroke="#333333" stroke-width="1"/>
<line x1="481.36" y1="525.5" x2="481.36" y2="527.5" stroke="#333333" stroke-width="1"/>
<line x1="493.96" y1="525.5" x2="493.96" y2="529.5" stroke="#333333" stroke-width="1"/>
<line x1="506.56" y1="525.5" x2="506.56" y2="527.5" stroke="#333333" stroke-width="1"/>
<line x1="519.15" y1="525.5" x2="519.15" y2="527.5" stroke="#333333" stroke-width="1"/>
<line x1="531.75" y1="525.5" x2="531.75" y2="527.5" stroke="#333333" stroke-width="1"/>
<line x1="544.34" y1="525.5" x2="544.34" y2="527.5" stroke="#333333" stroke-width="1"/>
<line x1="556.94" y1="525.5" x2="556.94" y2="527.5" stroke="#333333" stroke-width="1"/>
<line x1="569.54" y1="525.5" x2="569.54" y2="529.5" stroke="#333333" stroke-width="1"/>
<line x1="582.13" y1="525.5" x2="582.13" y2="527.5" stroke="#333333" stroke-width="1"/>
<line x1="594.73" y1="525.5" x2="594.73" y2="527.5" stroke="#333333" stroke-width="1"/>
<line x1="607.32" y1="525.5" x2="607.32" y2="527.5" stroke="#333333" stroke-width="1"/>
<line x1="619.92" y1="525.5" x2="619.92" y2="527.5" stroke="#333333" stroke-width="1"/>
<line x1="632.52" y1="525.5" x2="632.52" y2="527.5" stroke="#333333" stroke-width="1"/>
<line x1="645.11" y1="525.5" x2="645.11" y2="529.5" stroke="#333333" stroke-width="1"/>
<line x1="657.71" y1="525.5" x2="657.71" y2="527.5" stroke="#333333" stroke-width="1"/>
<line x1="670.30" y1="525.5" x2="670.30" y2="527.5" stroke="#333333" stroke-width="1"/>
<line x1="682.90" y1="525.5" x2="682.90" y2="527.5" stroke="#333333" stroke-width="1"/>
<text x="0" y="0" transform="translate(40.5 544.6) scale(1.06 1)" font-size="12.2" text-anchor="middle" fill="#1a1a1a" font-weight="normal" >320</text>
<text x="0" y="0" transform="translate(116.077 544.6) scale(1.06 1)" font-size="12.2" text-anchor="middle" fill="#1a1a1a" font-weight="normal" >280</text>
<text x="0" y="0" transform="translate(191.654 544.6) scale(1.06 1)" font-size="12.2" text-anchor="middle" fill="#1a1a1a" font-weight="normal" >240</text>
<text x="0" y="0" transform="translate(267.231 544.6) scale(1.06 1)" font-size="12.2" text-anchor="middle" fill="#1a1a1a" font-weight="normal" >200</text>
<text x="0" y="0" transform="translate(342.808 544.6) scale(1.06 1)" font-size="12.2" text-anchor="middle" fill="#1a1a1a" font-weight="normal" >160</text>
<text x="0" y="0" transform="translate(418.385 544.6) scale(1.06 1)" font-size="12.2" text-anchor="middle" fill="#1a1a1a" font-weight="normal" >120</text>
<text x="0" y="0" transform="translate(493.962 544.6) scale(1.06 1)" font-size="12.2" text-anchor="middle" fill="#1a1a1a" font-weight="normal" >80</text>
<text x="0" y="0" transform="translate(569.539 544.6) scale(1.06 1)" font-size="12.2" text-anchor="middle" fill="#1a1a1a" font-weight="normal" >40</text>
<text x="0" y="0" transform="translate(645.116 544.6) scale(1.06 1)" font-size="12.2" text-anchor="middle" fill="#1a1a1a" font-weight="normal" >0</text>
<text x="317.0" y="563.2" font-size="15.5" text-anchor="start" fill="#1a1a1a" font-weight="normal" ><tspan font-family="Liberation Serif">&#948;</tspan> (<tspan dy="-6" font-size="11">13</tspan><tspan dy="6">C) / ppm</tspan></text>
<line x1="593.5" y1="308.5" x2="621.4" y2="308.5" stroke="#F18828" stroke-width="2.2"/>
<line x1="593.5" y1="323.0" x2="621.4" y2="323.0" stroke="#EE2522" stroke-width="2.2"/>
<text x="0" y="0" transform="translate(624.6 311.8) scale(1.08 1)" font-size="10.8" text-anchor="start" fill="#1a1a1a" font-weight="normal" >Orange-1</text>
<text x="0" y="0" transform="translate(624.6 326.4) scale(1.08 1)" font-size="10.8" text-anchor="start" fill="#1a1a1a" font-weight="normal" >Red-1</text>
<polyline points="41.00,398.31 41.50,398.40 42.15,398.46 42.93,398.55 43.80,398.37 44.74,398.26 45.71,398.15 46.68,398.10 47.63,398.26 48.52,398.16 49.32,398.25 50.00,398.21 51.16,398.38 52.05,398.71 52.81,399.18 53.58,399.40 54.50,399.15 55.28,398.91 56.11,398.52 56.97,398.32 57.86,397.98 58.75,397.55 59.63,397.08 60.50,396.55 61.37,396.14 62.28,395.68 63.19,395.02 64.08,394.56 64.93,393.83 65.71,393.05 66.40,391.96 66.68,391.34 66.95,390.73 67.19,390.15 67.41,389.53 67.61,388.83 67.81,388.38 67.99,387.83 68.17,387.26 68.34,386.49 68.51,385.59 68.68,384.70 68.85,383.49 69.02,382.43 69.21,381.17 69.40,379.71 69.48,379.05 69.56,378.51 69.64,377.83 69.73,377.22 69.81,376.63 69.89,375.92 69.97,375.10 70.05,374.43 70.13,373.63 70.22,372.83 70.30,372.02 70.38,371.26 70.46,370.38 70.54,369.72 70.63,369.10 70.71,368.21 70.79,367.45 70.87,366.73 70.95,365.64 71.04,364.65 71.12,363.93 71.20,363.17 71.28,362.30 71.36,361.25 71.44,360.33 71.52,359.59 71.60,358.81 71.68,357.97 71.76,356.90 71.84,356.12 71.92,355.14 72.00,354.32 72.08,353.27 72.16,352.59 72.24,351.73 72.32,350.92 72.40,349.92 72.47,349.15 72.55,348.35 72.62,347.52 72.70,346.59 72.77,345.80 72.85,344.84 72.93,343.87 73.00,342.87 73.08,342.07 73.15,341.03 73.23,340.06 73.30,339.04 73.38,338.25 73.45,337.39 73.53,336.50 73.60,335.42 73.68,334.53 73.75,333.60 73.83,332.58 73.90,331.57 73.97,330.96 74.05,329.96 74.12,329.06 74.19,328.18 74.26,327.43 74.33,326.48 74.40,325.72 74.47,324.93 74.54,324.32 74.61,323.39 74.68,322.65 74.75,322.00 74.82,321.52 74.88,320.85 74.95,320.20 75.01,319.66 75.08,319.00 75.14,318.31 75.20,317.88 75.58,315.53 75.93,314.03 76.25,313.08 76.56,312.86 76.88,313.01 77.20,313.03 77.45,313.19 77.69,313.33 77.93,313.60 78.18,314.12 78.42,314.89 78.67,316.07 78.93,317.54 79.20,319.65 79.26,320.09 79.32,320.83 79.38,321.48 79.44,321.93 79.50,322.73 79.56,323.30 79.62,324.03 79.69,324.80 79.75,325.49 79.81,326.20 79.87,327.00 79.93,327.70 80.00,328.71 80.06,329.41 80.12,330.42 80.19,331.17 80.25,332.00 80.32,332.88 80.38,333.64 80.45,334.49 80.51,335.44 80.58,336.40 80.64,337.52 80.71,338.61 80.78,339.31 80.84,340.25 80.91,341.04 80.98,342.10 81.05,342.94 81.12,344.00 81.18,344.87 81.25,345.59 81.32,346.31 81.39,347.15 81.46,348.21 81.53,348.93 81.60,349.78 81.67,350.59 81.74,351.40 81.81,352.39 81.89,353.14 81.96,354.11 82.03,355.04 82.11,356.05 82.18,356.88 82.26,357.88 82.33,358.67 82.41,359.55 82.49,360.44 82.56,361.42 82.64,362.39 82.72,363.06 82.79,363.80 82.87,364.72 82.95,365.73 83.03,366.59 83.10,367.37 83.18,368.40 83.26,369.13 83.34,369.80 83.41,370.50 83.49,371.22 83.57,372.20 83.65,372.89 83.72,373.80 83.80,374.71 83.88,375.59 83.95,376.34 84.03,376.92 84.10,377.57 84.18,378.28 84.25,378.90 84.33,379.34 84.40,379.96 84.62,381.32 84.85,382.58 85.07,383.91 85.29,384.83 85.51,385.55 85.73,386.38 85.94,386.98 86.16,387.38 86.37,387.83 86.58,388.40 86.79,389.05 87.00,389.98 87.27,390.87 87.52,391.98 87.77,393.03 88.01,393.84 88.26,394.85 88.52,395.69 88.79,396.36 89.08,396.91 89.40,397.51 90.18,398.78 91.03,399.56 91.97,400.03 93.00,400.54 93.75,400.89 94.56,401.09 95.41,401.40 96.29,401.44 97.19,401.77 98.10,401.76 98.90,401.68 99.72,401.74 100.57,401.63 101.42,401.71 102.28,401.59 103.14,401.49 104.00,401.53 104.84,401.34 105.65,401.39 106.47,401.38 107.30,401.29 108.15,401.41 109.05,401.17 110.00,401.31 110.79,401.16 111.62,401.33 112.49,401.23 113.38,401.14 114.28,401.25 115.18,401.49 116.07,401.43 116.95,401.46 117.80,401.51 118.63,401.39 119.44,401.37 120.25,401.14 121.05,401.11 121.85,401.17 122.64,401.04 123.42,400.90 124.21,400.74 125.00,400.88 125.88,400.92 126.75,401.15 127.61,401.30 128.47,401.20 129.33,401.46 130.21,401.68 131.09,401.81 132.00,401.92 132.83,401.94 133.69,401.98 134.57,402.01 135.45,402.01 136.34,401.90 137.21,401.78 138.07,401.91 138.90,401.95 139.70,401.77 140.68,401.83 141.61,401.81 142.51,401.72 143.39,401.72 144.26,401.73 145.13,401.55 146.00,401.59 146.87,401.53 147.74,401.54 148.59,401.52 149.44,401.71 150.29,401.68 151.15,401.84 152.00,401.71 152.87,401.72 153.75,401.78 154.64,401.72 155.52,401.54 156.38,401.28 157.21,401.22 158.00,401.13 159.05,401.13 160.04,401.04 160.98,401.00 161.87,400.78 162.70,400.69 163.60,400.86 164.37,401.24 165.13,401.41 166.00,401.67 166.73,401.84 167.43,402.14 168.21,402.41 169.17,402.87 170.40,402.90 171.08,403.11 171.85,403.00 172.69,402.87 173.58,403.03 174.50,402.80 175.45,402.62 176.41,402.48 177.36,402.35 178.28,402.36 179.17,402.31 180.00,402.27 180.87,402.20 181.73,402.42 182.56,402.36 183.39,402.41 184.19,402.58 184.98,402.83 185.76,402.94 186.52,403.05 187.27,403.13 188.00,403.21 188.88,403.29 189.71,403.09 190.50,402.90 191.28,402.97 192.06,402.97 192.84,402.98 193.65,403.08 194.50,402.95 195.29,403.07 196.09,403.07 196.91,403.08 197.74,403.05 198.58,403.06 199.43,403.19 200.28,403.28 201.14,403.48 202.00,403.41 202.79,403.51 203.59,403.36 204.41,403.46 205.24,403.35 206.07,403.53 206.89,403.70 207.70,403.57 208.49,403.69 209.26,403.57 210.00,403.53 210.89,403.45 211.75,403.54 212.60,403.50 213.41,403.70 214.20,403.83 214.96,403.88 215.70,404.05 216.40,404.03 217.44,404.14 218.39,404.28 219.28,404.32 220.14,404.74 221.00,404.82 221.86,404.98 222.69,405.45 223.50,405.88 224.30,406.11 225.10,406.29 226.10,406.34 227.08,406.32 228.05,406.50 229.00,406.58 230.01,406.68 231.04,407.08 231.96,407.08 232.60,407.20" fill="none" stroke="#F18828" stroke-width="2.0" stroke-linejoin="round" stroke-linecap="round" />
<polyline points="41.00,425.16 41.49,425.27 42.13,425.32 42.89,425.46 43.74,425.31 44.65,425.19 45.60,425.28 46.57,425.32 47.52,425.23 48.42,425.31 49.26,425.27 50.00,425.40 51.03,425.36 51.98,425.50 52.86,425.95 53.69,426.12 54.48,426.21 55.25,426.39 56.00,426.27 57.00,425.74 57.91,425.25 58.78,424.54 59.63,423.26 60.50,421.69 60.75,420.99 60.99,420.37 61.24,419.63 61.48,418.92 61.73,418.45 61.97,417.67 62.21,417.08 62.46,416.20 62.70,415.37 62.94,414.61 63.19,413.72 63.43,412.61 63.67,411.71 63.92,410.79 64.16,409.69 64.41,408.59 64.65,407.80 64.90,406.81 65.07,405.99 65.25,405.26 65.42,404.42 65.60,403.78 65.78,402.96 65.96,401.98 66.14,401.28 66.33,400.26 66.51,399.34 66.69,398.33 66.87,397.61 67.06,396.61 67.24,395.78 67.42,394.79 67.60,393.97 67.77,393.22 67.95,392.39 68.12,391.54 68.29,390.72 68.46,389.91 68.63,389.18 68.79,388.29 68.95,387.61 69.10,386.87 69.25,386.41 69.40,385.97 69.73,384.47 70.05,383.20 70.35,382.30 70.64,381.42 70.92,380.42 71.18,379.80 71.44,379.30 71.69,378.60 71.93,377.93 72.17,377.39 72.40,376.97 72.97,375.31 73.45,373.98 73.93,373.11 74.50,373.14 74.82,373.47 75.14,373.95 75.48,374.70 75.83,375.46 76.20,376.45 76.60,377.74 77.03,378.82 77.50,379.74 77.87,380.62 78.28,381.24 78.71,381.85 79.16,382.43 79.63,383.11 80.10,383.87 80.57,384.68 81.03,385.77 81.48,386.62 81.90,387.56 82.30,388.70 82.53,389.56 82.75,390.17 82.96,391.00 83.16,391.68 83.36,392.48 83.56,393.30 83.75,394.26 83.93,395.13 84.12,395.91 84.30,396.84 84.49,397.60 84.68,398.40 84.87,399.45 85.06,400.31 85.26,401.27 85.47,402.05 85.68,403.09 85.90,403.98 86.09,404.60 86.28,405.55 86.47,406.32 86.66,407.09 86.86,407.87 87.06,408.65 87.27,409.51 87.47,410.57 87.68,411.39 87.88,412.28 88.09,413.24 88.30,414.21 88.51,415.09 88.73,416.09 88.94,416.84 89.15,417.62 89.36,418.40 89.57,419.03 89.78,419.69 89.99,420.28 90.19,421.04 90.40,421.48 91.29,423.39 92.17,424.38 93.06,425.09 93.96,425.57 94.90,425.96 95.73,426.54 96.60,426.88 97.48,427.09 98.36,427.04 99.21,427.11 100.00,427.05 100.89,426.91 101.73,426.72 102.53,426.39 103.29,425.78 104.00,425.64 105.04,425.93 105.96,426.29 106.90,426.36 107.90,426.28 108.93,425.85 110.00,426.00 110.85,426.62 111.72,427.51 112.62,428.43 113.50,428.71 114.36,428.82 115.21,428.45 116.08,428.00 117.00,427.89 117.78,428.14 118.61,428.30 119.45,428.71 120.28,429.16 121.10,429.29 122.09,429.15 123.07,428.72 124.04,428.48 125.00,427.99 125.92,427.76 126.82,427.49 127.75,427.06 128.80,427.20 129.58,427.15 130.41,427.50 131.28,427.83 132.18,428.14 133.09,428.39 134.00,428.41 134.80,428.43 135.63,428.44 136.48,428.67 137.33,428.51 138.16,428.43 138.95,428.66 139.70,428.75 140.65,428.69 141.51,428.65 142.33,428.38 143.15,428.24 144.00,427.97 144.89,427.91 145.79,427.53 146.69,427.36 147.60,427.25 148.50,427.22 149.40,427.07 150.31,427.05 151.21,427.12 152.11,426.91 153.00,426.59 153.89,426.21 154.80,426.17 155.68,425.86 156.53,425.42 157.30,424.88 157.88,424.12 158.43,423.31 158.93,422.43 159.41,421.52 159.86,420.82 160.30,419.87 160.72,418.80 161.11,417.89 161.48,416.80 161.83,415.64 162.17,415.04 162.50,414.83 162.87,415.24 163.21,416.29 163.54,417.49 163.86,418.59 164.20,419.56 165.02,420.22 166.00,420.63 166.89,421.22 167.91,422.09 169.00,423.03 169.84,423.48 170.71,423.96 171.63,424.39 172.60,424.99 173.43,425.40 174.31,425.94 175.21,426.61 176.11,427.04 177.00,427.40 177.88,427.91 178.78,428.19 179.66,428.74 180.51,428.97 181.30,429.40 182.44,429.64 183.46,429.61 184.50,429.76 185.32,430.04 186.14,430.27 187.00,430.49 187.90,430.40 188.67,430.34 189.46,429.79 190.28,429.45 191.13,428.79 192.00,428.43 192.91,427.94 193.86,427.49 194.82,427.27 195.78,427.22 196.70,427.05 197.55,427.16 198.34,427.47 199.13,427.92 200.00,428.25 201.00,428.51 201.73,428.80 202.54,428.93 203.40,428.97 204.29,429.20 205.19,429.43 206.05,429.40 206.86,429.22 207.60,429.18 208.62,429.29 209.52,428.98 210.35,428.69 211.16,428.67 212.00,428.46 212.88,428.67 213.75,428.68 214.63,428.83 215.51,429.08 216.40,429.14 217.32,429.46 218.25,429.64 219.19,429.95 220.11,430.23 221.00,430.25 221.86,430.62 222.69,430.96 223.50,431.07 224.30,431.33 225.10,431.43 226.10,431.68 227.08,431.95 228.05,432.07 229.00,432.31 230.01,432.52 231.04,433.09 231.96,433.51 232.60,433.87" fill="none" stroke="#EE2522" stroke-width="2.0" stroke-linejoin="round" stroke-linecap="round" />
<line x1="233.2" y1="293.7" x2="233.2" y2="449" stroke="#333333" stroke-width="1"/>
<line x1="40.5" y1="448.5" x2="233.7" y2="448.5" stroke="#333333" stroke-width="1"/>
<line x1="44.66" y1="448.5" x2="44.66" y2="449.9" stroke="#333333" stroke-width="1"/>
<line x1="53.23" y1="448.5" x2="53.23" y2="449.9" stroke="#333333" stroke-width="1"/>
<line x1="61.80" y1="448.5" x2="61.80" y2="450.7" stroke="#333333" stroke-width="1"/>
<line x1="70.37" y1="448.5" x2="70.37" y2="449.9" stroke="#333333" stroke-width="1"/>
<line x1="78.94" y1="448.5" x2="78.94" y2="449.9" stroke="#333333" stroke-width="1"/>
<line x1="87.51" y1="448.5" x2="87.51" y2="449.9" stroke="#333333" stroke-width="1"/>
<line x1="96.08" y1="448.5" x2="96.08" y2="449.9" stroke="#333333" stroke-width="1"/>
<line x1="104.65" y1="448.5" x2="104.65" y2="450.7" stroke="#333333" stroke-width="1"/>
<line x1="113.22" y1="448.5" x2="113.22" y2="449.9" stroke="#333333" stroke-width="1"/>
<line x1="121.79" y1="448.5" x2="121.79" y2="449.9" stroke="#333333" stroke-width="1"/>
<line x1="130.36" y1="448.5" x2="130.36" y2="449.9" stroke="#333333" stroke-width="1"/>
<line x1="138.93" y1="448.5" x2="138.93" y2="449.9" stroke="#333333" stroke-width="1"/>
<line x1="147.50" y1="448.5" x2="147.50" y2="450.7" stroke="#333333" stroke-width="1"/>
<line x1="156.07" y1="448.5" x2="156.07" y2="449.9" stroke="#333333" stroke-width="1"/>
<line x1="164.64" y1="448.5" x2="164.64" y2="449.9" stroke="#333333" stroke-width="1"/>
<line x1="173.21" y1="448.5" x2="173.21" y2="449.9" stroke="#333333" stroke-width="1"/>
<line x1="181.78" y1="448.5" x2="181.78" y2="449.9" stroke="#333333" stroke-width="1"/>
<line x1="190.35" y1="448.5" x2="190.35" y2="450.7" stroke="#333333" stroke-width="1"/>
<line x1="198.92" y1="448.5" x2="198.92" y2="449.9" stroke="#333333" stroke-width="1"/>
<line x1="207.49" y1="448.5" x2="207.49" y2="449.9" stroke="#333333" stroke-width="1"/>
<line x1="216.06" y1="448.5" x2="216.06" y2="449.9" stroke="#333333" stroke-width="1"/>
<line x1="224.63" y1="448.5" x2="224.63" y2="449.9" stroke="#333333" stroke-width="1"/>
<line x1="233.20" y1="448.5" x2="233.20" y2="450.7" stroke="#333333" stroke-width="1"/>
<text x="61.8" y="458.9" font-size="8.5" text-anchor="middle" fill="#1a1a1a" font-weight="normal" >100</text>
<text x="104.65" y="458.9" font-size="8.5" text-anchor="middle" fill="#1a1a1a" font-weight="normal" >90</text>
<text x="147.5" y="458.9" font-size="8.5" text-anchor="middle" fill="#1a1a1a" font-weight="normal" >80</text>
<text x="190.35" y="458.9" font-size="8.5" text-anchor="middle" fill="#1a1a1a" font-weight="normal" >70</text>
<text x="233.2" y="458.9" font-size="8.5" text-anchor="middle" fill="#1a1a1a" font-weight="normal" >60</text>
<text x="107.0" y="469.9" font-size="9.8" text-anchor="start" fill="#1a1a1a" font-weight="normal" ><tspan font-family="Liberation Serif">&#948;</tspan>(<tspan dy="-3.8" font-size="7">13</tspan><tspan dy="3.8">C) / ppm</tspan></text>
<text x="78" y="308.4" font-size="12.5" text-anchor="middle" fill="#1a1a1a" font-weight="normal" letter-spacing="0.5">-C&#8801;C-</text>
<text x="163.8" y="389.3" font-size="12.5" text-anchor="middle" fill="#1a1a1a" font-weight="normal" letter-spacing="0.5">-C&#8801;C-</text>
</svg>
</body></html>
